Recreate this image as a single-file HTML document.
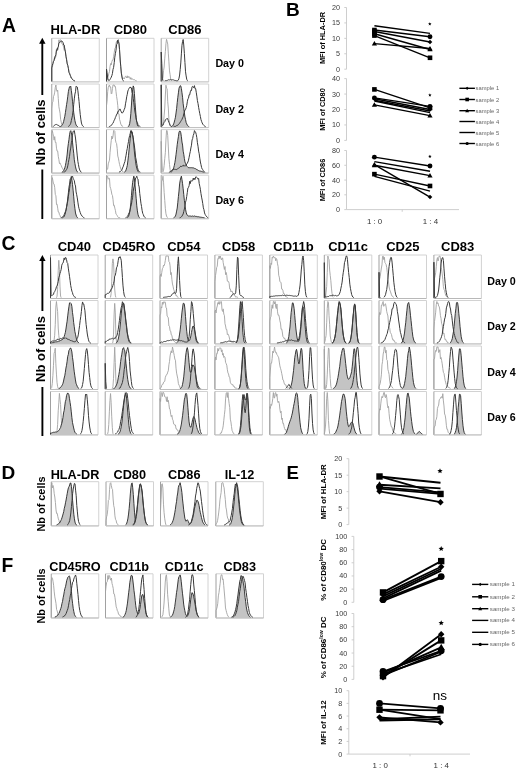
<!DOCTYPE html>
<html><head><meta charset="utf-8"><style>
html,body{margin:0;padding:0;background:#fff;width:520px;height:773px;overflow:hidden}
svg{display:block;font-family:"Liberation Sans",sans-serif;filter:grayscale(100%)}
</style></head><body>
<svg width="520" height="773" viewBox="0 0 520 773">
<text x="1.90" y="32.30" font-size="19.3" font-weight="bold" text-anchor="start" fill="#000" >A</text>
<text x="286.10" y="15.70" font-size="19.0" font-weight="bold" text-anchor="start" fill="#000" >B</text>
<text x="1.60" y="250.20" font-size="19.3" font-weight="bold" text-anchor="start" fill="#000" >C</text>
<text x="1.50" y="479.30" font-size="19.0" font-weight="bold" text-anchor="start" fill="#000" >D</text>
<text x="286.40" y="479.30" font-size="18.6" font-weight="bold" text-anchor="start" fill="#000" >E</text>
<text x="1.50" y="571.90" font-size="19.3" font-weight="bold" text-anchor="start" fill="#000" >F</text>
<text x="75.50" y="34.40" font-size="13" font-weight="bold" text-anchor="middle" fill="#000" >HLA-DR</text>
<path d="M51.75,38.30H99.25V81.90" fill="none" stroke="#d2d2d2" stroke-width="1"/>
<path d="M51.75,81.90H99.25" fill="none" stroke="#b8b8b8" stroke-width="1"/>
<path d="M51.75,38.30V81.90" fill="none" stroke="#a0a0a0" stroke-width="1"/>
<path d="M51.75,81.30 L51.75,67.06 L52.34,67.29 L52.94,63.97 L53.53,60.86 L54.12,59.17 L54.72,56.31 L55.31,58.39 L55.91,56.05 L56.50,49.71 L57.09,48.20 L57.69,50.18 L58.28,48.80 L58.88,39.80 L59.47,43.07 L60.06,39.71 L60.66,39.89 L61.25,41.04 L61.84,43.46 L62.44,44.33 L63.03,45.39 L63.62,46.98 L64.22,50.31 L64.81,48.69 L65.41,52.12 L66.00,57.36 L66.59,58.98 L67.19,62.97 L67.78,65.52 L68.38,67.71 L68.97,72.17 L69.56,72.97 L70.16,73.94 L70.75,77.72 L71.34,78.17 L71.94,78.28 L72.53,79.52 L73.12,79.69 L73.72,80.50 L74.31,80.76 L74.91,80.94" fill="none" stroke="#a2a2a2" stroke-width="0.9"/>
<path d="M51.75,81.30 L51.75,67.81 L52.34,65.20 L52.94,63.44 L53.53,61.25 L54.12,60.64 L54.72,57.39 L55.31,56.46 L55.91,54.43 L56.50,49.74 L57.09,50.37 L57.69,47.62 L58.28,46.79 L58.88,43.18 L59.47,42.43 L60.06,42.14 L60.66,41.75 L61.25,41.03 L61.84,40.90 L62.44,41.83 L63.03,42.25 L63.62,44.95 L64.22,45.04 L64.81,49.15 L65.41,51.85 L66.00,56.29 L66.59,59.75 L67.19,63.91 L67.78,65.35 L68.38,68.52 L68.97,72.29 L69.56,73.80 L70.16,75.22 L70.75,76.41 L71.34,77.98 L71.94,78.54 L72.53,79.54 L73.12,79.86 L73.72,80.50 L74.31,80.76 L74.91,80.94" fill="none" stroke="#3a3a3a" stroke-width="1.0"/>
<path d="M51.75,84.00H99.25V127.60" fill="none" stroke="#d2d2d2" stroke-width="1"/>
<path d="M51.75,127.60H99.25" fill="none" stroke="#b8b8b8" stroke-width="1"/>
<path d="M51.75,84.00V127.60" fill="none" stroke="#a0a0a0" stroke-width="1"/>
<path d="M51.75,127.00 L51.75,108.86 L52.34,102.81 L52.94,101.57 L53.53,96.43 L54.12,95.06 L54.72,92.14 L55.31,87.30 L55.91,85.00 L56.50,90.18 L57.09,91.40 L57.69,90.07 L58.28,98.44 L58.88,106.73 L59.47,109.87 L60.06,113.16 L60.66,119.63 L61.25,122.22 L61.84,124.72 L62.44,125.08 L63.03,125.64 L63.62,126.40 L64.22,126.70" fill="none" stroke="#a2a2a2" stroke-width="0.9"/>
<path d="M51.75,127.60 L51.75,127.00 L51.75,127.00 L52.34,127.00 L52.94,127.00 L53.53,127.00 L54.12,127.00 L54.72,127.00 L55.31,127.00 L55.91,127.00 L56.50,126.99 L57.09,126.98 L57.69,126.97 L58.28,126.94 L58.88,126.88 L59.47,126.79 L60.06,126.63 L60.66,126.37 L61.25,126.07 L61.84,125.51 L62.44,124.54 L63.03,123.38 L63.62,121.57 L64.22,118.90 L64.81,116.36 L65.41,112.62 L66.00,108.57 L66.59,104.61 L67.19,100.90 L67.78,96.33 L68.38,91.57 L68.97,88.73 L69.56,86.74 L70.16,86.78 L70.75,86.08 L71.34,90.54 L71.94,95.24 L72.53,101.22 L73.12,106.99 L73.72,112.69 L74.31,116.91 L74.91,120.59 L75.50,123.17 L76.09,124.88 L76.69,125.89 L77.28,126.47 L77.88,126.75 L78.47,126.89 L79.06,126.96 L79.66,126.98 L80.25,126.99 L80.84,127.00 L81.44,127.00 L82.03,127.00 L82.62,127.00 L83.22,127.00 L83.81,127.00 L84.41,127.00 L85.00,127.00 L85.59,127.00 L86.19,127.00 L86.78,127.00 L87.38,127.00 L87.97,127.00 L88.56,127.00 L89.16,127.00 L89.75,127.00 L90.34,127.00 L90.94,127.00 L91.53,127.00 L92.12,127.00 L92.72,127.00 L93.31,127.00 L93.91,127.00 L94.50,127.00 L95.09,127.00 L95.69,127.00 L96.28,127.00 L96.88,127.00 L97.47,127.00 L98.06,127.00 L98.66,127.00 L99.25,127.00 L99.25,127.00 L99.25,127.60 Z" fill="#c4c4c4" stroke="none"/>
<path d="M60.06,126.63 L60.66,126.37 L61.25,126.07 L61.84,125.51 L62.44,124.54 L63.03,123.38 L63.62,121.57 L64.22,118.90 L64.81,116.36 L65.41,112.62 L66.00,108.57 L66.59,104.61 L67.19,100.90 L67.78,96.33 L68.38,91.57 L68.97,88.73 L69.56,86.74 L70.16,86.78 L70.75,86.08 L71.34,90.54 L71.94,95.24 L72.53,101.22 L73.12,106.99 L73.72,112.69 L74.31,116.91 L74.91,120.59 L75.50,123.17 L76.09,124.88 L76.69,125.89 L77.28,126.47 L77.88,126.75" fill="none" stroke="#262626" stroke-width="0.9"/>
<path d="M52.94,126.56 L53.53,126.25 L54.12,125.64 L54.72,125.05 L55.31,124.66 L55.91,124.62 L56.50,124.45 L57.09,124.84 L57.69,125.10 L58.28,125.19 L58.88,125.93 L59.47,126.25 L60.06,126.56 M68.38,126.54 L68.97,126.16 L69.56,125.32 L70.16,124.61 L70.75,123.25 L71.34,120.57 L71.94,117.90 L72.53,115.26 L73.12,110.48 L73.72,104.43 L74.31,98.84 L74.91,94.07 L75.50,91.73 L76.09,86.10 L76.69,86.58 L77.28,86.97 L77.88,90.73 L78.47,96.30 L79.06,101.40 L79.66,108.63 L80.25,114.61 L80.84,119.20 L81.44,123.05 L82.03,124.84 L82.62,125.85 L83.22,126.46 L83.81,126.77" fill="none" stroke="#3a3a3a" stroke-width="1.0"/>
<path d="M51.75,129.60H99.25V173.20" fill="none" stroke="#d2d2d2" stroke-width="1"/>
<path d="M51.75,173.20H99.25" fill="none" stroke="#b8b8b8" stroke-width="1"/>
<path d="M51.75,129.60V173.20" fill="none" stroke="#a0a0a0" stroke-width="1"/>
<path d="M51.75,172.60 L51.75,133.82 L52.34,130.60 L52.94,133.74 L53.53,136.26 L54.12,140.12 L54.72,136.59 L55.31,142.45 L55.91,142.18 L56.50,148.20 L57.09,151.14 L57.69,151.07 L58.28,156.35 L58.88,159.60 L59.47,163.57 L60.06,162.94 L60.66,164.61 L61.25,165.52 L61.84,167.28 L62.44,168.18 L63.03,169.29 L63.62,170.10 L64.22,170.63 L64.81,171.30 L65.41,171.94 L66.00,172.14" fill="none" stroke="#a2a2a2" stroke-width="0.9"/>
<path d="M51.75,173.20 L51.75,172.60 L51.75,172.60 L52.34,172.60 L52.94,172.60 L53.53,172.60 L54.12,172.60 L54.72,172.60 L55.31,172.60 L55.91,172.60 L56.50,172.60 L57.09,172.60 L57.69,172.60 L58.28,172.60 L58.88,172.59 L59.47,172.58 L60.06,172.56 L60.66,172.52 L61.25,172.44 L61.84,172.29 L62.44,172.01 L63.03,171.61 L63.62,170.81 L64.22,169.56 L64.81,167.85 L65.41,165.64 L66.00,162.40 L66.59,158.94 L67.19,154.08 L67.78,148.03 L68.38,143.49 L68.97,139.42 L69.56,134.76 L70.16,131.50 L70.75,130.67 L71.34,132.50 L71.94,136.12 L72.53,142.11 L73.12,148.22 L73.72,153.30 L74.31,159.77 L74.91,163.48 L75.50,166.89 L76.09,169.14 L76.69,170.90 L77.28,171.75 L77.88,172.14 L78.47,172.39 L79.06,172.51 L79.66,172.56 L80.25,172.59 L80.84,172.60 L81.44,172.60 L82.03,172.60 L82.62,172.60 L83.22,172.60 L83.81,172.60 L84.41,172.60 L85.00,172.60 L85.59,172.60 L86.19,172.60 L86.78,172.60 L87.38,172.60 L87.97,172.60 L88.56,172.60 L89.16,172.60 L89.75,172.60 L90.34,172.60 L90.94,172.60 L91.53,172.60 L92.12,172.60 L92.72,172.60 L93.31,172.60 L93.91,172.60 L94.50,172.60 L95.09,172.60 L95.69,172.60 L96.28,172.60 L96.88,172.60 L97.47,172.60 L98.06,172.60 L98.66,172.60 L99.25,172.60 L99.25,172.60 L99.25,173.20 Z" fill="#c4c4c4" stroke="none"/>
<path d="M61.84,172.29 L62.44,172.01 L63.03,171.61 L63.62,170.81 L64.22,169.56 L64.81,167.85 L65.41,165.64 L66.00,162.40 L66.59,158.94 L67.19,154.08 L67.78,148.03 L68.38,143.49 L68.97,139.42 L69.56,134.76 L70.16,131.50 L70.75,130.67 L71.34,132.50 L71.94,136.12 L72.53,142.11 L73.12,148.22 L73.72,153.30 L74.31,159.77 L74.91,163.48 L75.50,166.89 L76.09,169.14 L76.69,170.90 L77.28,171.75 L77.88,172.14" fill="none" stroke="#262626" stroke-width="0.9"/>
<path d="M63.62,172.30 L64.22,172.09 L64.81,171.64 L65.41,171.38 L66.00,170.19 L66.59,169.51 L67.19,168.22 L67.78,165.89 L68.38,162.62 L68.97,159.30 L69.56,156.29 L70.16,151.00 L70.75,148.05 L71.34,142.82 L71.94,140.25 L72.53,135.19 L73.12,131.29 L73.72,131.15 L74.31,130.60 L74.91,134.29 L75.50,138.02 L76.09,143.28 L76.69,150.04 L77.28,155.95 L77.88,161.42 L78.47,164.71 L79.06,167.87 L79.66,169.92 L80.25,171.00 L80.84,171.89 L81.44,172.26" fill="none" stroke="#3a3a3a" stroke-width="1.0"/>
<path d="M51.75,175.20H99.25V218.80" fill="none" stroke="#d2d2d2" stroke-width="1"/>
<path d="M51.75,218.80H99.25" fill="none" stroke="#b8b8b8" stroke-width="1"/>
<path d="M51.75,175.20V218.80" fill="none" stroke="#a0a0a0" stroke-width="1"/>
<path d="M51.75,218.20 L51.75,180.97 L52.34,177.65 L52.94,180.98 L53.53,183.83 L54.12,184.08 L54.72,187.65 L55.31,194.40 L55.91,195.82 L56.50,204.47 L57.09,204.15 L57.69,208.19 L58.28,211.99 L58.88,212.12 L59.47,214.70 L60.06,215.60 L60.66,217.47 L61.25,217.38 L61.84,217.67 L62.44,217.89" fill="none" stroke="#a2a2a2" stroke-width="0.9"/>
<path d="M51.75,218.80 L51.75,218.20 L51.75,218.20 L52.34,218.20 L52.94,218.20 L53.53,218.20 L54.12,218.20 L54.72,218.20 L55.31,218.20 L55.91,218.20 L56.50,218.20 L57.09,218.20 L57.69,218.20 L58.28,218.20 L58.88,218.20 L59.47,218.19 L60.06,218.18 L60.66,218.16 L61.25,218.11 L61.84,218.02 L62.44,217.84 L63.03,217.54 L63.62,217.06 L64.22,216.41 L64.81,214.87 L65.41,212.98 L66.00,210.25 L66.59,207.07 L67.19,203.59 L67.78,198.05 L68.38,192.85 L68.97,187.24 L69.56,184.12 L70.16,178.94 L70.75,178.41 L71.34,176.45 L71.94,180.14 L72.53,184.46 L73.12,190.16 L73.72,196.83 L74.31,203.51 L74.91,208.46 L75.50,212.99 L76.09,215.00 L76.69,216.70 L77.28,217.46 L77.88,217.87 L78.47,218.07 L79.06,218.15 L79.66,218.18 L80.25,218.19 L80.84,218.20 L81.44,218.20 L82.03,218.20 L82.62,218.20 L83.22,218.20 L83.81,218.20 L84.41,218.20 L85.00,218.20 L85.59,218.20 L86.19,218.20 L86.78,218.20 L87.38,218.20 L87.97,218.20 L88.56,218.20 L89.16,218.20 L89.75,218.20 L90.34,218.20 L90.94,218.20 L91.53,218.20 L92.12,218.20 L92.72,218.20 L93.31,218.20 L93.91,218.20 L94.50,218.20 L95.09,218.20 L95.69,218.20 L96.28,218.20 L96.88,218.20 L97.47,218.20 L98.06,218.20 L98.66,218.20 L99.25,218.20 L99.25,218.20 L99.25,218.80 Z" fill="#c4c4c4" stroke="none"/>
<path d="M62.44,217.84 L63.03,217.54 L63.62,217.06 L64.22,216.41 L64.81,214.87 L65.41,212.98 L66.00,210.25 L66.59,207.07 L67.19,203.59 L67.78,198.05 L68.38,192.85 L68.97,187.24 L69.56,184.12 L70.16,178.94 L70.75,178.41 L71.34,176.45 L71.94,180.14 L72.53,184.46 L73.12,190.16 L73.72,196.83 L74.31,203.51 L74.91,208.46 L75.50,212.99 L76.09,215.00 L76.69,216.70 L77.28,217.46 L77.88,217.87" fill="none" stroke="#262626" stroke-width="0.9"/>
<path d="M61.25,217.74 L61.84,217.48 L62.44,217.01 L63.03,216.83 L63.62,215.87 L64.22,214.44 L64.81,213.06 L65.41,211.47 L66.00,209.90 L66.59,206.65 L67.19,203.23 L67.78,201.13 L68.38,196.36 L68.97,192.41 L69.56,188.61 L70.16,184.45 L70.75,181.01 L71.34,178.39 L71.94,176.88 L72.53,176.20 L73.12,178.25 L73.72,179.56 L74.31,180.57 L74.91,184.31 L75.50,185.98 L76.09,191.95 L76.69,194.74 L77.28,197.90 L77.88,202.13 L78.47,206.14 L79.06,208.62 L79.66,210.77 L80.25,212.54 L80.84,214.23 L81.44,215.00 L82.03,216.20 L82.62,216.64 L83.22,217.19 L83.81,217.65 L84.41,217.86" fill="none" stroke="#3a3a3a" stroke-width="1.0"/>
<text x="130.25" y="34.40" font-size="13" font-weight="bold" text-anchor="middle" fill="#000" >CD80</text>
<path d="M106.50,38.30H154.00V81.90" fill="none" stroke="#d2d2d2" stroke-width="1"/>
<path d="M106.50,81.90H154.00" fill="none" stroke="#b8b8b8" stroke-width="1"/>
<path d="M106.50,38.30V81.90" fill="none" stroke="#a0a0a0" stroke-width="1"/>
<path d="M106.50,81.30 L106.50,80.69 L107.09,80.38 L107.69,77.76 L108.28,76.12 L108.88,73.33 L109.47,71.55 L110.06,66.38 L110.66,63.50 L111.25,64.92 L111.84,61.71 L112.44,60.06 L113.03,60.24 L113.62,56.41 L114.22,52.60 L114.81,48.64 L115.41,47.99 L116.00,43.42 L116.59,41.31 L117.19,41.38 L117.78,44.04 L118.38,39.30 L118.97,44.02 L119.56,50.75 L120.16,61.64 L120.75,65.56 L121.34,73.23 L121.94,75.49 L122.53,78.85 L123.12,77.82 L123.72,78.36 L124.31,78.94 L124.91,77.33 L125.50,76.24 L126.09,76.71 L126.69,77.98 L127.28,75.81 L127.88,78.03 L128.47,76.49 L129.06,76.53 L129.66,77.05 L130.25,79.23 L130.84,77.60 L131.44,79.40 L132.03,78.48 L132.62,79.41 L133.22,79.69 L133.81,79.55 L134.41,79.70 L135.00,79.94 L135.59,80.62 L136.19,80.77 L136.78,80.89" fill="none" stroke="#a2a2a2" stroke-width="0.9"/>
<path d="M106.50,81.30 L106.50,69.00 L107.09,72.45 L107.69,78.04 L108.28,80.11 L108.88,80.56 L109.47,80.32 L110.06,79.42 L110.66,78.33 L111.25,77.15 L111.84,75.68 L112.44,73.43 L113.03,69.40 L113.62,67.37 L114.22,62.64 L114.81,57.23 L115.41,53.31 L116.00,50.29 L116.59,44.64 L117.19,43.31 L117.78,40.00 L118.38,41.59 L118.97,43.31 L119.56,49.60 L120.16,59.02 L120.75,66.72 L121.34,73.10 L121.94,76.99 L122.53,79.64 L123.12,80.61 L123.72,81.07" fill="none" stroke="#3a3a3a" stroke-width="1.0"/>
<path d="M106.50,84.00H154.00V127.60" fill="none" stroke="#d2d2d2" stroke-width="1"/>
<path d="M106.50,127.60H154.00" fill="none" stroke="#b8b8b8" stroke-width="1"/>
<path d="M106.50,84.00V127.60" fill="none" stroke="#a0a0a0" stroke-width="1"/>
<path d="M106.50,127.00 L106.50,105.53 L107.09,101.25 L107.69,91.42 L108.28,87.45 L108.88,85.87 L109.47,85.00 L110.06,87.31 L110.66,86.89 L111.25,94.03 L111.84,93.44 L112.44,88.60 L113.03,85.00 L113.62,85.00 L114.22,85.00 L114.81,86.76 L115.41,86.42 L116.00,91.60 L116.59,96.47 L117.19,100.22 L117.78,105.58 L118.38,113.63 L118.97,113.86 L119.56,119.53 L120.16,121.22 L120.75,124.10 L121.34,124.96 L121.94,126.14 L122.53,126.21 L123.12,126.57" fill="none" stroke="#a2a2a2" stroke-width="0.9"/>
<path d="M106.50,127.60 L106.50,127.00 L106.50,127.00 L107.09,127.00 L107.69,127.00 L108.28,127.00 L108.88,127.00 L109.47,127.00 L110.06,127.00 L110.66,127.00 L111.25,127.00 L111.84,127.00 L112.44,127.00 L113.03,127.00 L113.62,127.00 L114.22,127.00 L114.81,127.00 L115.41,127.00 L116.00,127.00 L116.59,127.00 L117.19,127.00 L117.78,127.00 L118.38,127.00 L118.97,127.00 L119.56,127.00 L120.16,127.00 L120.75,127.00 L121.34,127.00 L121.94,127.00 L122.53,127.00 L123.12,127.00 L123.72,127.00 L124.31,127.00 L124.91,127.00 L125.50,127.00 L126.09,127.00 L126.69,126.99 L127.28,126.95 L127.88,126.81 L128.47,126.43 L129.06,125.53 L129.66,123.64 L130.25,119.81 L130.84,113.52 L131.44,105.06 L132.03,95.85 L132.62,89.69 L133.22,85.89 L133.81,87.22 L134.41,93.49 L135.00,102.56 L135.59,109.97 L136.19,117.59 L136.78,122.21 L137.38,124.98 L137.97,126.18 L138.56,126.70 L139.16,126.91 L139.75,126.98 L140.34,126.99 L140.94,127.00 L141.53,127.00 L142.12,127.00 L142.72,127.00 L143.31,127.00 L143.91,127.00 L144.50,127.00 L145.09,127.00 L145.69,127.00 L146.28,127.00 L146.88,127.00 L147.47,127.00 L148.06,127.00 L148.66,127.00 L149.25,127.00 L149.84,127.00 L150.44,127.00 L151.03,127.00 L151.62,127.00 L152.22,127.00 L152.81,127.00 L153.41,127.00 L154.00,127.00 L154.00,127.00 L154.00,127.60 Z" fill="#c4c4c4" stroke="none"/>
<path d="M127.88,126.81 L128.47,126.43 L129.06,125.53 L129.66,123.64 L130.25,119.81 L130.84,113.52 L131.44,105.06 L132.03,95.85 L132.62,89.69 L133.22,85.89 L133.81,87.22 L134.41,93.49 L135.00,102.56 L135.59,109.97 L136.19,117.59 L136.78,122.21 L137.38,124.98 L137.97,126.18 L138.56,126.70" fill="none" stroke="#262626" stroke-width="0.9"/>
<path d="M108.88,126.64 L109.47,126.46 L110.06,126.20 L110.66,125.97 L111.25,125.25 L111.84,124.81 L112.44,123.71 L113.03,123.23 L113.62,121.68 L114.22,120.18 L114.81,119.21 L115.41,117.36 L116.00,116.19 L116.59,114.27 L117.19,114.16 L117.78,111.58 L118.38,111.53 L118.97,110.32 L119.56,109.28 L120.16,109.09 L120.75,110.87 L121.34,111.89 L121.94,113.17 L122.53,112.84 L123.12,112.15 L123.72,110.79 L124.31,109.19 L124.91,107.88 L125.50,103.83 L126.09,100.84 L126.69,96.81 L127.28,94.29 L127.88,90.96 L128.47,89.50 L129.06,88.20 L129.66,87.72 L130.25,86.91 L130.84,88.01 L131.44,87.90 L132.03,92.42 L132.62,93.78 L133.22,98.59 L133.81,102.62 L134.41,107.72 L135.00,112.13 L135.59,114.95 L136.19,119.28 L136.78,121.45 L137.38,122.45 L137.97,124.64 L138.56,125.51 L139.16,125.84 L139.75,126.31 L140.34,126.59" fill="none" stroke="#3a3a3a" stroke-width="1.0"/>
<path d="M106.50,129.60H154.00V173.20" fill="none" stroke="#d2d2d2" stroke-width="1"/>
<path d="M106.50,173.20H154.00" fill="none" stroke="#b8b8b8" stroke-width="1"/>
<path d="M106.50,129.60V173.20" fill="none" stroke="#a0a0a0" stroke-width="1"/>
<path d="M106.50,172.60 L106.50,170.26 L107.09,169.23 L107.69,168.91 L108.28,163.83 L108.88,161.94 L109.47,160.13 L110.06,152.38 L110.66,145.93 L111.25,140.51 L111.84,136.09 L112.44,138.78 L113.03,136.17 L113.62,130.60 L114.22,130.60 L114.81,131.34 L115.41,139.93 L116.00,142.56 L116.59,143.59 L117.19,148.61 L117.78,156.06 L118.38,158.14 L118.97,161.51 L119.56,164.52 L120.16,166.56 L120.75,168.92 L121.34,169.96 L121.94,170.19 L122.53,171.64 L123.12,171.91 L123.72,172.19" fill="none" stroke="#a2a2a2" stroke-width="0.9"/>
<path d="M106.50,173.20 L106.50,172.60 L106.50,172.60 L107.09,172.60 L107.69,172.60 L108.28,172.60 L108.88,172.60 L109.47,172.60 L110.06,172.60 L110.66,172.60 L111.25,172.60 L111.84,172.60 L112.44,172.60 L113.03,172.60 L113.62,172.60 L114.22,172.60 L114.81,172.60 L115.41,172.60 L116.00,172.60 L116.59,172.60 L117.19,172.60 L117.78,172.60 L118.38,172.60 L118.97,172.60 L119.56,172.60 L120.16,172.60 L120.75,172.60 L121.34,172.60 L121.94,172.59 L122.53,172.57 L123.12,172.54 L123.72,172.45 L124.31,172.26 L124.91,171.89 L125.50,171.22 L126.09,169.87 L126.69,167.75 L127.28,165.52 L127.88,160.87 L128.47,155.78 L129.06,149.78 L129.66,143.71 L130.25,138.22 L130.84,134.08 L131.44,130.73 L132.03,132.41 L132.62,135.21 L133.22,138.97 L133.81,145.02 L134.41,151.96 L135.00,157.34 L135.59,161.83 L136.19,165.66 L136.78,168.38 L137.38,170.12 L137.97,171.37 L138.56,171.98 L139.16,172.31 L139.75,172.47 L140.34,172.55 L140.94,172.58 L141.53,172.59 L142.12,172.60 L142.72,172.60 L143.31,172.60 L143.91,172.60 L144.50,172.60 L145.09,172.60 L145.69,172.60 L146.28,172.60 L146.88,172.60 L147.47,172.60 L148.06,172.60 L148.66,172.60 L149.25,172.60 L149.84,172.60 L150.44,172.60 L151.03,172.60 L151.62,172.60 L152.22,172.60 L152.81,172.60 L153.41,172.60 L154.00,172.60 L154.00,172.60 L154.00,173.20 Z" fill="#c4c4c4" stroke="none"/>
<path d="M124.31,172.26 L124.91,171.89 L125.50,171.22 L126.09,169.87 L126.69,167.75 L127.28,165.52 L127.88,160.87 L128.47,155.78 L129.06,149.78 L129.66,143.71 L130.25,138.22 L130.84,134.08 L131.44,130.73 L132.03,132.41 L132.62,135.21 L133.22,138.97 L133.81,145.02 L134.41,151.96 L135.00,157.34 L135.59,161.83 L136.19,165.66 L136.78,168.38 L137.38,170.12 L137.97,171.37 L138.56,171.98 L139.16,172.31" fill="none" stroke="#262626" stroke-width="0.9"/>
<path d="M118.97,172.10 L119.56,171.86 L120.16,171.69 L120.75,170.98 L121.34,170.57 L121.94,169.69 L122.53,167.96 L123.12,166.87 L123.72,165.03 L124.31,163.20 L124.91,161.63 L125.50,158.17 L126.09,155.15 L126.69,151.18 L127.28,148.55 L127.88,144.70 L128.47,141.64 L129.06,138.00 L129.66,135.52 L130.25,133.28 L130.84,130.64 L131.44,132.95 L132.03,131.93 L132.62,134.78 L133.22,137.33 L133.81,142.20 L134.41,145.96 L135.00,150.74 L135.59,157.12 L136.19,160.09 L136.78,163.70 L137.38,167.33 L137.97,169.39 L138.56,170.75 L139.16,171.31 L139.75,171.86 L140.34,172.20" fill="none" stroke="#3a3a3a" stroke-width="1.0"/>
<path d="M106.50,175.20H154.00V218.80" fill="none" stroke="#d2d2d2" stroke-width="1"/>
<path d="M106.50,218.80H154.00" fill="none" stroke="#b8b8b8" stroke-width="1"/>
<path d="M106.50,175.20V218.80" fill="none" stroke="#a0a0a0" stroke-width="1"/>
<path d="M106.50,218.20 L106.50,184.62 L107.09,176.20 L107.69,176.41 L108.28,179.06 L108.88,178.62 L109.47,178.35 L110.06,186.70 L110.66,188.44 L111.25,190.95 L111.84,194.30 L112.44,195.43 L113.03,199.50 L113.62,205.63 L114.22,205.19 L114.81,208.13 L115.41,210.41 L116.00,214.05 L116.59,214.63 L117.19,215.54 L117.78,216.73 L118.38,217.51 L118.97,217.78 L119.56,217.58 L120.16,217.79" fill="none" stroke="#a2a2a2" stroke-width="0.9"/>
<path d="M106.50,218.80 L106.50,218.20 L106.50,218.20 L107.09,218.20 L107.69,218.20 L108.28,218.20 L108.88,218.20 L109.47,218.20 L110.06,218.20 L110.66,218.20 L111.25,218.20 L111.84,218.20 L112.44,218.20 L113.03,218.20 L113.62,218.20 L114.22,218.20 L114.81,218.20 L115.41,218.20 L116.00,218.20 L116.59,218.20 L117.19,218.20 L117.78,218.20 L118.38,218.20 L118.97,218.20 L119.56,218.20 L120.16,218.20 L120.75,218.20 L121.34,218.20 L121.94,218.20 L122.53,218.20 L123.12,218.20 L123.72,218.20 L124.31,218.20 L124.91,218.19 L125.50,218.18 L126.09,218.14 L126.69,218.04 L127.28,217.81 L127.88,217.29 L128.47,216.30 L129.06,214.90 L129.66,212.11 L130.25,208.17 L130.84,202.88 L131.44,195.55 L132.03,188.58 L132.62,182.48 L133.22,179.01 L133.81,176.20 L134.41,178.34 L135.00,185.03 L135.59,191.43 L136.19,198.72 L136.78,205.83 L137.38,210.88 L137.97,214.30 L138.56,216.24 L139.16,217.41 L139.75,217.89 L140.34,218.09 L140.94,218.16 L141.53,218.19 L142.12,218.20 L142.72,218.20 L143.31,218.20 L143.91,218.20 L144.50,218.20 L145.09,218.20 L145.69,218.20 L146.28,218.20 L146.88,218.20 L147.47,218.20 L148.06,218.20 L148.66,218.20 L149.25,218.20 L149.84,218.20 L150.44,218.20 L151.03,218.20 L151.62,218.20 L152.22,218.20 L152.81,218.20 L153.41,218.20 L154.00,218.20 L154.00,218.20 L154.00,218.80 Z" fill="#c4c4c4" stroke="none"/>
<path d="M127.28,217.81 L127.88,217.29 L128.47,216.30 L129.06,214.90 L129.66,212.11 L130.25,208.17 L130.84,202.88 L131.44,195.55 L132.03,188.58 L132.62,182.48 L133.22,179.01 L133.81,176.20 L134.41,178.34 L135.00,185.03 L135.59,191.43 L136.19,198.72 L136.78,205.83 L137.38,210.88 L137.97,214.30 L138.56,216.24 L139.16,217.41 L139.75,217.89" fill="none" stroke="#262626" stroke-width="0.9"/>
<path d="M125.50,217.74 L126.09,217.48 L126.69,217.05 L127.28,216.53 L127.88,216.00 L128.47,214.20 L129.06,212.98 L129.66,211.78 L130.25,209.34 L130.84,206.38 L131.44,204.17 L132.03,200.44 L132.62,197.31 L133.22,191.26 L133.81,187.84 L134.41,186.22 L135.00,182.35 L135.59,178.05 L136.19,177.62 L136.78,176.20 L137.38,178.52 L137.97,179.01 L138.56,184.75 L139.16,186.93 L139.75,193.58 L140.34,198.11 L140.94,203.31 L141.53,206.40 L142.12,210.44 L142.72,213.35 L143.31,214.57 L143.91,216.23 L144.50,217.10 L145.09,217.54 L145.69,217.84" fill="none" stroke="#3a3a3a" stroke-width="1.0"/>
<text x="184.95" y="34.40" font-size="13" font-weight="bold" text-anchor="middle" fill="#000" >CD86</text>
<path d="M161.20,38.30H208.70V81.90" fill="none" stroke="#d2d2d2" stroke-width="1"/>
<path d="M161.20,81.90H208.70" fill="none" stroke="#b8b8b8" stroke-width="1"/>
<path d="M161.20,38.30V81.90" fill="none" stroke="#a0a0a0" stroke-width="1"/>
<path d="M161.20,80.84 L161.79,80.13 L162.39,79.81 L162.98,77.52 L163.57,70.50 L164.17,67.01 L164.76,58.21 L165.36,51.37 L165.95,43.62 L166.54,39.30 L167.14,41.43 L167.73,44.11 L168.32,53.16 L168.92,61.75 L169.51,70.89 L170.11,74.61 L170.70,79.29 L171.29,80.25 L171.89,80.84" fill="none" stroke="#a2a2a2" stroke-width="0.9"/>
<path d="M161.20,81.30 L161.20,52.02 L161.79,63.39 L162.39,78.18 L162.98,80.87 M164.76,80.81 L165.36,80.68 L165.95,80.54 L166.54,80.61 L167.14,80.47 L167.73,80.20 L168.32,79.80 L168.92,79.89 L169.51,79.91 L170.11,79.91 L170.70,79.65 L171.29,79.83 L171.89,79.72 L172.48,79.76 L173.07,80.14 L173.67,79.88 L174.26,80.20 L174.86,80.54 L175.45,80.53 L176.04,80.67 L176.64,80.77 L177.23,80.80 L177.82,80.62 L178.42,80.00 L179.01,78.18 L179.61,75.04 L180.20,69.43 L180.79,62.97 L181.39,53.87 L181.98,45.26 L182.57,41.43 L183.17,39.49 L183.76,44.97 L184.36,53.38 L184.95,62.55 L185.54,71.81 L186.14,75.92 L186.73,79.31 L187.32,80.51 L187.92,81.05" fill="none" stroke="#3a3a3a" stroke-width="1.0"/>
<path d="M161.20,84.00H208.70V127.60" fill="none" stroke="#d2d2d2" stroke-width="1"/>
<path d="M161.20,127.60H208.70" fill="none" stroke="#b8b8b8" stroke-width="1"/>
<path d="M161.20,84.00V127.60" fill="none" stroke="#a0a0a0" stroke-width="1"/>
<path d="M161.79,126.79 L162.39,126.25 L162.98,124.79 L163.57,122.18 L164.17,115.12 L164.76,108.05 L165.36,95.00 L165.95,85.23 L166.54,88.18 L167.14,88.67 L167.73,101.66 L168.32,108.05 L168.92,119.52 L169.51,122.65 L170.11,125.52 L170.70,126.54" fill="none" stroke="#a2a2a2" stroke-width="0.9"/>
<path d="M161.20,127.60 L161.20,127.00 L161.20,127.00 L161.79,127.00 L162.39,127.00 L162.98,127.00 L163.57,127.00 L164.17,127.00 L164.76,127.00 L165.36,127.00 L165.95,127.00 L166.54,127.00 L167.14,127.00 L167.73,127.00 L168.32,126.99 L168.92,126.98 L169.51,126.96 L170.11,126.92 L170.70,126.84 L171.29,126.69 L171.89,126.41 L172.48,126.03 L173.07,125.23 L173.67,123.92 L174.26,122.08 L174.86,119.64 L175.45,117.24 L176.04,112.95 L176.64,108.47 L177.23,102.59 L177.82,97.34 L178.42,92.80 L179.01,88.31 L179.61,86.60 L180.20,85.64 L180.79,85.95 L181.39,88.49 L181.98,92.72 L182.57,97.29 L183.17,103.76 L183.76,108.20 L184.36,112.75 L184.95,117.00 L185.54,119.51 L186.14,122.47 L186.73,123.83 L187.32,125.18 L187.92,125.79 L188.51,126.41 L189.11,126.69 L189.70,126.84 L190.29,126.92 L190.89,126.96 L191.48,126.98 L192.07,126.99 L192.67,127.00 L193.26,127.00 L193.86,127.00 L194.45,127.00 L195.04,127.00 L195.64,127.00 L196.23,127.00 L196.82,127.00 L197.42,127.00 L198.01,127.00 L198.61,127.00 L199.20,127.00 L199.79,127.00 L200.39,127.00 L200.98,127.00 L201.57,127.00 L202.17,127.00 L202.76,127.00 L203.36,127.00 L203.95,127.00 L204.54,127.00 L205.14,127.00 L205.73,127.00 L206.32,127.00 L206.92,127.00 L207.51,127.00 L208.11,127.00 L208.70,127.00 L208.70,127.00 L208.70,127.60 Z" fill="#c4c4c4" stroke="none"/>
<path d="M171.29,126.69 L171.89,126.41 L172.48,126.03 L173.07,125.23 L173.67,123.92 L174.26,122.08 L174.86,119.64 L175.45,117.24 L176.04,112.95 L176.64,108.47 L177.23,102.59 L177.82,97.34 L178.42,92.80 L179.01,88.31 L179.61,86.60 L180.20,85.64 L180.79,85.95 L181.39,88.49 L181.98,92.72 L182.57,97.29 L183.17,103.76 L183.76,108.20 L184.36,112.75 L184.95,117.00 L185.54,119.51 L186.14,122.47 L186.73,123.83 L187.32,125.18 L187.92,125.79 L188.51,126.41 L189.11,126.69" fill="none" stroke="#262626" stroke-width="0.9"/>
<path d="M161.20,127.00 L161.20,85.00 L161.79,124.32 L162.39,125.43 L162.98,125.16 L163.57,123.64 L164.17,122.30 L164.76,121.71 L165.36,119.81 L165.95,119.61 L166.54,118.96 L167.14,118.21 L167.73,118.96 L168.32,120.60 L168.92,122.30 L169.51,123.72 L170.11,125.27 L170.70,126.06 L171.29,126.32 L171.89,126.58 M173.67,126.60 L174.26,126.49 L174.86,126.35 L175.45,126.38 L176.04,126.09 L176.64,125.60 L177.23,125.62 L177.82,125.16 L178.42,124.30 L179.01,123.74 L179.61,123.32 L180.20,122.24 L180.79,121.29 L181.39,120.35 L181.98,119.40 L182.57,117.83 L183.17,116.76 L183.76,113.92 L184.36,112.14 L184.95,109.86 L185.54,109.59 L186.14,107.77 L186.73,105.52 L187.32,101.78 L187.92,98.89 L188.51,98.22 L189.11,94.70 L189.70,94.96 L190.29,91.85 L190.89,90.19 L191.48,90.60 L192.07,86.72 L192.67,86.24 L193.26,87.09 L193.86,87.83 L194.45,85.64 L195.04,88.69 L195.64,88.54 L196.23,92.21 L196.82,96.13 L197.42,100.62 L198.01,103.43 L198.61,107.31 L199.20,110.51 L199.79,113.70 L200.39,116.43 L200.98,119.59 L201.57,121.33 L202.17,122.90 L202.76,124.07 L203.36,124.94 L203.95,125.53 L204.54,126.04 L205.14,126.46 L205.73,126.66" fill="none" stroke="#3a3a3a" stroke-width="1.0"/>
<path d="M161.20,129.60H208.70V173.20" fill="none" stroke="#d2d2d2" stroke-width="1"/>
<path d="M161.20,173.20H208.70" fill="none" stroke="#b8b8b8" stroke-width="1"/>
<path d="M161.20,129.60V173.20" fill="none" stroke="#a0a0a0" stroke-width="1"/>
<path d="M161.20,172.60 L161.20,141.34 L161.79,158.73 L162.39,170.64 L162.98,171.82 L163.57,170.10 L164.17,165.54 L164.76,158.65 L165.36,152.50 L165.95,139.90 L166.54,130.60 L167.14,130.60 L167.73,135.59 L168.32,146.95 L168.92,158.83 L169.51,164.44 L170.11,169.73 L170.70,172.07 L171.29,172.24" fill="none" stroke="#a2a2a2" stroke-width="0.9"/>
<path d="M161.20,173.20 L161.20,172.60 L161.20,172.60 L161.79,172.60 L162.39,172.60 L162.98,172.60 L163.57,172.60 L164.17,172.59 L164.76,172.59 L165.36,172.59 L165.95,172.59 L166.54,172.58 L167.14,172.58 L167.73,172.57 L168.32,172.55 L168.92,172.52 L169.51,172.47 L170.11,172.39 L170.70,172.24 L171.29,171.98 L171.89,171.53 L172.48,170.67 L173.07,169.58 L173.67,167.85 L174.26,165.68 L174.86,162.63 L175.45,159.17 L176.04,154.48 L176.64,149.79 L177.23,144.56 L177.82,140.25 L178.42,136.65 L179.01,132.20 L179.61,131.05 L180.20,131.13 L180.79,132.75 L181.39,136.74 L181.98,142.05 L182.57,145.09 L183.17,151.18 L183.76,154.25 L184.36,158.47 L184.95,161.87 L185.54,163.52 L186.14,165.02 L186.73,166.14 L187.32,166.60 L187.92,167.26 L188.51,167.62 L189.11,167.52 L189.70,167.75 L190.29,167.67 L190.89,167.81 L191.48,167.70 L192.07,167.85 L192.67,167.78 L193.26,167.82 L193.86,168.07 L194.45,168.39 L195.04,168.52 L195.64,168.75 L196.23,169.33 L196.82,169.28 L197.42,170.04 L198.01,169.97 L198.61,170.65 L199.20,170.85 L199.79,171.00 L200.39,171.05 L200.98,171.36 L201.57,171.40 L202.17,171.59 L202.76,171.87 L203.36,172.00 L203.95,172.11 L204.54,172.20 L205.14,172.28 L205.73,172.35 L206.32,172.40 L206.92,172.44 L207.51,172.48 L208.11,172.51 L208.70,172.53 L208.70,172.60 L208.70,173.20 Z" fill="#c4c4c4" stroke="none"/>
<path d="M170.70,172.24 L171.29,171.98 L171.89,171.53 L172.48,170.67 L173.07,169.58 L173.67,167.85 L174.26,165.68 L174.86,162.63 L175.45,159.17 L176.04,154.48 L176.64,149.79 L177.23,144.56 L177.82,140.25 L178.42,136.65 L179.01,132.20 L179.61,131.05 L180.20,131.13 L180.79,132.75 L181.39,136.74 L181.98,142.05 L182.57,145.09 L183.17,151.18 L183.76,154.25 L184.36,158.47 L184.95,161.87 L185.54,163.52 L186.14,165.02 L186.73,166.14 L187.32,166.60 L187.92,167.26 L188.51,167.62 L189.11,167.52 L189.70,167.75 L190.29,167.67 L190.89,167.81 L191.48,167.70 L192.07,167.85 L192.67,167.78 L193.26,167.82 L193.86,168.07 L194.45,168.39 L195.04,168.52 L195.64,168.75 L196.23,169.33 L196.82,169.28 L197.42,170.04 L198.01,169.97 L198.61,170.65 L199.20,170.85 L199.79,171.00 L200.39,171.05 L200.98,171.36 L201.57,171.40 L202.17,171.59 L202.76,171.87 L203.36,172.00 L203.95,172.11" fill="none" stroke="#262626" stroke-width="0.9"/>
<path d="M168.92,172.30 L169.51,172.08 L170.11,171.76 L170.70,171.38 L171.29,170.64 L171.89,170.41 L172.48,169.48 L173.07,169.51 L173.67,169.40 L174.26,169.19 L174.86,169.45 L175.45,169.43 L176.04,169.44 L176.64,169.67 L177.23,169.02 L177.82,168.54 L178.42,168.31 L179.01,168.08 L179.61,167.50 L180.20,166.87 L180.79,165.90 L181.39,166.59 L181.98,166.33 L182.57,165.79 L183.17,166.29 L183.76,165.12 L184.36,165.69 L184.95,166.11 L185.54,165.96 L186.14,165.37 L186.73,164.04 L187.32,163.17 L187.92,162.00 L188.51,160.14 L189.11,157.25 L189.70,154.16 L190.29,151.48 L190.89,147.99 L191.48,145.16 L192.07,139.96 L192.67,138.54 L193.26,135.35 L193.86,133.90 L194.45,130.60 L195.04,131.68 L195.64,132.19 L196.23,134.36 L196.82,137.66 L197.42,142.72 L198.01,146.18 L198.61,151.07 L199.20,153.77 L199.79,158.18 L200.39,162.04 L200.98,164.61 L201.57,167.38 L202.17,169.04 L202.76,169.65 L203.36,170.77 L203.95,171.58 L204.54,171.98 L205.14,172.23" fill="none" stroke="#3a3a3a" stroke-width="1.0"/>
<path d="M161.20,175.20H208.70V218.80" fill="none" stroke="#d2d2d2" stroke-width="1"/>
<path d="M161.20,218.80H208.70" fill="none" stroke="#b8b8b8" stroke-width="1"/>
<path d="M161.20,175.20V218.80" fill="none" stroke="#a0a0a0" stroke-width="1"/>
<path d="M161.20,218.20 L161.20,194.91 L161.79,181.15 L162.39,180.07 L162.98,176.20 L163.57,182.80 L164.17,192.59 L164.76,200.56 L165.36,208.71 L165.95,213.74 L166.54,216.01 L167.14,217.26 L167.73,217.83" fill="none" stroke="#a2a2a2" stroke-width="0.9"/>
<path d="M161.20,218.80 L161.20,218.20 L161.20,218.20 L161.79,218.20 L162.39,218.20 L162.98,218.20 L163.57,218.20 L164.17,218.20 L164.76,218.20 L165.36,218.20 L165.95,218.20 L166.54,218.20 L167.14,218.20 L167.73,218.19 L168.32,218.19 L168.92,218.19 L169.51,218.19 L170.11,218.18 L170.70,218.17 L171.29,218.16 L171.89,218.14 L172.48,218.10 L173.07,218.01 L173.67,217.84 L174.26,217.50 L174.86,216.87 L175.45,215.96 L176.04,214.14 L176.64,211.10 L177.23,208.06 L177.82,202.34 L178.42,196.49 L179.01,191.02 L179.61,183.93 L180.20,180.42 L180.79,177.81 L181.39,176.20 L181.98,179.67 L182.57,183.67 L183.17,188.77 L183.76,194.51 L184.36,200.33 L184.95,205.04 L185.54,209.25 L186.14,212.24 L186.73,214.24 L187.32,215.29 L187.92,215.61 L188.51,216.02 L189.11,216.28 L189.70,215.90 L190.29,216.09 L190.89,215.95 L191.48,216.29 L192.07,215.93 L192.67,216.03 L193.26,216.25 L193.86,216.32 L194.45,215.98 L195.04,216.02 L195.64,216.47 L196.23,216.58 L196.82,216.37 L197.42,216.72 L198.01,216.61 L198.61,216.75 L199.20,216.87 L199.79,217.14 L200.39,217.16 L200.98,217.24 L201.57,217.31 L202.17,217.42 L202.76,217.51 L203.36,217.59 L203.95,217.67 L204.54,217.74 L205.14,217.80 L205.73,217.86 L206.32,217.91 L206.92,217.96 L207.51,218.00 L208.11,218.03 L208.70,218.06 L208.70,218.20 L208.70,218.80 Z" fill="#c4c4c4" stroke="none"/>
<path d="M173.67,217.84 L174.26,217.50 L174.86,216.87 L175.45,215.96 L176.04,214.14 L176.64,211.10 L177.23,208.06 L177.82,202.34 L178.42,196.49 L179.01,191.02 L179.61,183.93 L180.20,180.42 L180.79,177.81 L181.39,176.20 L181.98,179.67 L182.57,183.67 L183.17,188.77 L183.76,194.51 L184.36,200.33 L184.95,205.04 L185.54,209.25 L186.14,212.24 L186.73,214.24 L187.32,215.29 L187.92,215.61 L188.51,216.02 L189.11,216.28 L189.70,215.90 L190.29,216.09 L190.89,215.95 L191.48,216.29 L192.07,215.93 L192.67,216.03 L193.26,216.25 L193.86,216.32 L194.45,215.98 L195.04,216.02 L195.64,216.47 L196.23,216.58 L196.82,216.37 L197.42,216.72 L198.01,216.61 L198.61,216.75 L199.20,216.87 L199.79,217.14 L200.39,217.16 L200.98,217.24 L201.57,217.31 L202.17,217.42 L202.76,217.51 L203.36,217.59 L203.95,217.67 L204.54,217.74" fill="none" stroke="#262626" stroke-width="0.9"/>
<path d="M179.61,217.87 L180.20,217.65 L180.79,217.38 L181.39,216.83 L181.98,216.15 L182.57,215.05 L183.17,213.99 L183.76,211.49 L184.36,208.98 L184.95,206.11 L185.54,202.14 L186.14,200.12 L186.73,196.38 L187.32,192.37 L187.92,187.88 L188.51,187.48 L189.11,185.65 L189.70,181.31 L190.29,183.59 L190.89,180.46 L191.48,180.91 L192.07,180.98 L192.67,180.74 L193.26,178.10 L193.86,179.86 L194.45,178.33 L195.04,179.44 L195.64,177.05 L196.23,176.68 L196.82,177.46 L197.42,178.26 L198.01,179.18 L198.61,178.44 L199.20,183.47 L199.79,186.16 L200.39,189.31 L200.98,193.60 L201.57,197.13 L202.17,200.02 L202.76,203.57 L203.36,207.84 L203.95,209.66 L204.54,212.95 L205.14,214.39 L205.73,215.46 L206.32,216.10 L206.92,217.02 L207.51,217.49 L208.11,217.78" fill="none" stroke="#3a3a3a" stroke-width="1.0"/>
<text x="215.40" y="67.10" font-size="10.7" font-weight="bold" text-anchor="start" fill="#000" >Day 0</text>
<text x="215.40" y="112.80" font-size="10.7" font-weight="bold" text-anchor="start" fill="#000" >Day 2</text>
<text x="215.40" y="158.40" font-size="10.7" font-weight="bold" text-anchor="start" fill="#000" >Day 4</text>
<text x="215.40" y="204.00" font-size="10.7" font-weight="bold" text-anchor="start" fill="#000" >Day 6</text>
<text x="74.25" y="251.20" font-size="13" font-weight="bold" text-anchor="middle" fill="#000" >CD40</text>
<path d="M50.50,255.00H98.00V298.50" fill="none" stroke="#d2d2d2" stroke-width="1"/>
<path d="M50.50,298.50H98.00" fill="none" stroke="#b8b8b8" stroke-width="1"/>
<path d="M50.50,255.00V298.50" fill="none" stroke="#a0a0a0" stroke-width="1"/>
<path d="M56.44,297.77 L57.03,296.26 L57.62,289.86 L58.22,270.30 L58.81,260.27 L59.41,269.36 L60.00,286.84 L60.59,296.14 L61.19,297.70" fill="none" stroke="#a2a2a2" stroke-width="0.9"/>
<path d="M50.50,297.90 L50.50,257.65 L51.09,294.86 L51.69,295.73 L52.28,295.29 L52.88,294.98 L53.47,294.37 L54.06,292.42 L54.66,291.63 L55.25,290.36 L55.84,289.08 L56.44,286.60 L57.03,286.04 L57.62,283.88 L58.22,281.52 L58.81,277.60 L59.41,275.83 L60.00,273.31 L60.59,271.60 L61.19,269.30 L61.78,265.21 L62.38,263.62 L62.97,263.11 L63.56,261.12 L64.16,257.95 L64.75,259.81 L65.34,257.53 L65.94,257.66 L66.53,259.55 L67.12,262.63 L67.72,263.41 L68.31,268.11 L68.91,272.23 L69.50,276.26 L70.09,280.60 L70.69,285.38 L71.28,288.30 L71.88,291.15 L72.47,292.68 L73.06,294.81 L73.66,295.73 L74.25,296.71 L74.84,297.11 L75.44,297.35 L76.03,297.58" fill="none" stroke="#3a3a3a" stroke-width="1.0"/>
<path d="M50.50,300.50H98.00V344.00" fill="none" stroke="#d2d2d2" stroke-width="1"/>
<path d="M50.50,344.00H98.00" fill="none" stroke="#b8b8b8" stroke-width="1"/>
<path d="M50.50,300.50V344.00" fill="none" stroke="#a0a0a0" stroke-width="1"/>
<path d="M52.88,343.15 L53.47,342.13 L54.06,340.30 L54.66,335.30 L55.25,324.73 L55.84,307.06 L56.44,301.50 L57.03,306.82 L57.62,311.58 L58.22,328.02 L58.81,335.48 L59.41,340.33 L60.00,342.57 L60.59,343.22" fill="none" stroke="#a2a2a2" stroke-width="0.9"/>
<path d="M50.50,344.00 L50.50,343.40 L50.50,342.96 L51.09,342.88 L51.69,342.79 L52.28,342.69 L52.88,342.58 L53.47,342.59 L54.06,342.44 L54.66,342.08 L55.25,341.95 L55.84,341.74 L56.44,341.82 L57.03,341.51 L57.62,341.63 L58.22,341.41 L58.81,341.12 L59.41,341.02 L60.00,340.73 L60.59,340.39 L61.19,340.08 L61.78,339.86 L62.38,339.57 L62.97,339.09 L63.56,337.93 L64.16,336.63 L64.75,334.56 L65.34,332.55 L65.94,329.03 L66.53,324.96 L67.12,321.21 L67.72,315.89 L68.31,311.17 L68.91,306.86 L69.50,303.03 L70.09,302.59 L70.69,303.20 L71.28,303.66 L71.88,306.49 L72.47,312.42 L73.06,316.48 L73.66,322.52 L74.25,326.71 L74.84,331.34 L75.44,334.18 L76.03,336.99 L76.62,339.78 L77.22,341.16 L77.81,342.05 L78.41,342.43 L79.00,342.92 L79.59,343.14 L80.19,343.27 L80.78,343.33 L81.38,343.37 L81.97,343.38 L82.56,343.39 L83.16,343.40 L83.75,343.40 L84.34,343.40 L84.94,343.40 L85.53,343.40 L86.12,343.40 L86.72,343.40 L87.31,343.40 L87.91,343.40 L88.50,343.40 L89.09,343.40 L89.69,343.40 L90.28,343.40 L90.88,343.40 L91.47,343.40 L92.06,343.40 L92.66,343.40 L93.25,343.40 L93.84,343.40 L94.44,343.40 L95.03,343.40 L95.62,343.40 L96.22,343.40 L96.81,343.40 L97.41,343.40 L98.00,343.40 L98.00,343.40 L98.00,344.00 Z" fill="#c4c4c4" stroke="none"/>
<path d="M50.50,342.96 L51.09,342.88 L51.69,342.79 L52.28,342.69 L52.88,342.58 L53.47,342.59 L54.06,342.44 L54.66,342.08 L55.25,341.95 L55.84,341.74 L56.44,341.82 L57.03,341.51 L57.62,341.63 L58.22,341.41 L58.81,341.12 L59.41,341.02 L60.00,340.73 L60.59,340.39 L61.19,340.08 L61.78,339.86 L62.38,339.57 L62.97,339.09 L63.56,337.93 L64.16,336.63 L64.75,334.56 L65.34,332.55 L65.94,329.03 L66.53,324.96 L67.12,321.21 L67.72,315.89 L68.31,311.17 L68.91,306.86 L69.50,303.03 L70.09,302.59 L70.69,303.20 L71.28,303.66 L71.88,306.49 L72.47,312.42 L73.06,316.48 L73.66,322.52 L74.25,326.71 L74.84,331.34 L75.44,334.18 L76.03,336.99 L76.62,339.78 L77.22,341.16 L77.81,342.05 L78.41,342.43 L79.00,342.92" fill="none" stroke="#262626" stroke-width="0.9"/>
<path d="M50.50,343.40 L50.50,342.00 L51.09,341.39 L51.69,341.37 L52.28,341.01 L52.88,341.11 L53.47,340.97 L54.06,340.73 L54.66,340.88 L55.25,340.47 L55.84,340.45 L56.44,340.17 L57.03,340.02 L57.62,339.09 L58.22,339.38 L58.81,339.37 L59.41,339.17 L60.00,338.88 L60.59,338.41 L61.19,338.68 L61.78,338.65 L62.38,338.21 L62.97,337.76 L63.56,338.33 L64.16,337.95 L64.75,338.39 L65.34,337.79 L65.94,338.50 L66.53,338.12 L67.12,339.05 L67.72,339.30 L68.31,339.27 L68.91,339.83 L69.50,339.69 L70.09,340.52 L70.69,340.49 L71.28,340.48 L71.88,341.22 L72.47,341.08 L73.06,341.27 L73.66,341.67 L74.25,341.78 L74.84,341.66 L75.44,341.57 L76.03,340.82 L76.62,340.18 L77.22,338.39 L77.81,337.15 L78.41,334.09 L79.00,329.76 L79.59,325.53 L80.19,320.36 L80.78,316.53 L81.38,311.55 L81.97,305.40 L82.56,301.93 L83.16,303.84 L83.75,304.01 L84.34,307.22 L84.94,310.81 L85.53,317.91 L86.12,324.48 L86.72,329.29 L87.31,334.00 L87.91,337.24 L88.50,339.84 L89.09,341.62 L89.69,342.38 L90.28,342.87 L90.88,343.15" fill="none" stroke="#3a3a3a" stroke-width="1.0"/>
<path d="M50.50,346.00H98.00V389.50" fill="none" stroke="#d2d2d2" stroke-width="1"/>
<path d="M50.50,389.50H98.00" fill="none" stroke="#b8b8b8" stroke-width="1"/>
<path d="M50.50,346.00V389.50" fill="none" stroke="#a0a0a0" stroke-width="1"/>
<path d="M51.09,388.56 L51.69,387.50 L52.28,383.59 L52.88,375.70 L53.47,365.34 L54.06,353.63 L54.66,351.50 L55.25,348.22 L55.84,363.45 L56.44,374.12 L57.03,382.30 L57.62,386.66 L58.22,388.28 L58.81,388.77" fill="none" stroke="#a2a2a2" stroke-width="0.9"/>
<path d="M50.50,389.50 L50.50,388.90 L50.50,388.90 L51.09,388.90 L51.69,388.90 L52.28,388.90 L52.88,388.90 L53.47,388.90 L54.06,388.90 L54.66,388.89 L55.25,388.89 L55.84,388.87 L56.44,388.85 L57.03,388.82 L57.62,388.76 L58.22,388.67 L58.81,388.52 L59.41,388.30 L60.00,388.09 L60.59,387.35 L61.19,386.65 L61.78,385.79 L62.38,384.79 L62.97,383.30 L63.56,381.06 L64.16,378.03 L64.75,375.84 L65.34,372.34 L65.94,368.04 L66.53,365.27 L67.12,361.29 L67.72,356.29 L68.31,354.60 L68.91,350.53 L69.50,349.53 L70.09,348.24 L70.69,348.02 L71.28,349.30 L71.88,351.95 L72.47,357.40 L73.06,361.16 L73.66,366.96 L74.25,371.84 L74.84,375.86 L75.44,379.91 L76.03,383.24 L76.62,384.76 L77.22,386.30 L77.81,387.57 L78.41,388.06 L79.00,388.44 L79.59,388.66 L80.19,388.78 L80.78,388.84 L81.38,388.87 L81.97,388.89 L82.56,388.90 L83.16,388.90 L83.75,388.90 L84.34,388.90 L84.94,388.90 L85.53,388.90 L86.12,388.90 L86.72,388.90 L87.31,388.90 L87.91,388.90 L88.50,388.90 L89.09,388.90 L89.69,388.90 L90.28,388.90 L90.88,388.90 L91.47,388.90 L92.06,388.90 L92.66,388.90 L93.25,388.90 L93.84,388.90 L94.44,388.90 L95.03,388.90 L95.62,388.90 L96.22,388.90 L96.81,388.90 L97.41,388.90 L98.00,388.90 L98.00,388.90 L98.00,389.50 Z" fill="#c4c4c4" stroke="none"/>
<path d="M58.81,388.52 L59.41,388.30 L60.00,388.09 L60.59,387.35 L61.19,386.65 L61.78,385.79 L62.38,384.79 L62.97,383.30 L63.56,381.06 L64.16,378.03 L64.75,375.84 L65.34,372.34 L65.94,368.04 L66.53,365.27 L67.12,361.29 L67.72,356.29 L68.31,354.60 L68.91,350.53 L69.50,349.53 L70.09,348.24 L70.69,348.02 L71.28,349.30 L71.88,351.95 L72.47,357.40 L73.06,361.16 L73.66,366.96 L74.25,371.84 L74.84,375.86 L75.44,379.91 L76.03,383.24 L76.62,384.76 L77.22,386.30 L77.81,387.57 L78.41,388.06 L79.00,388.44" fill="none" stroke="#262626" stroke-width="0.9"/>
<path d="M80.78,388.52 L81.38,388.15 L81.97,387.09 L82.56,384.57 L83.16,381.32 L83.75,375.01 L84.34,368.49 L84.94,361.27 L85.53,354.49 L86.12,350.07 L86.72,348.57 L87.31,350.91 L87.91,356.84 L88.50,364.67 L89.09,372.38 L89.69,377.61 L90.28,382.74 L90.88,385.82 L91.47,387.32 L92.06,388.24 L92.66,388.64" fill="none" stroke="#3a3a3a" stroke-width="1.0"/>
<path d="M50.50,391.50H98.00V435.00" fill="none" stroke="#d2d2d2" stroke-width="1"/>
<path d="M50.50,435.00H98.00" fill="none" stroke="#b8b8b8" stroke-width="1"/>
<path d="M50.50,391.50V435.00" fill="none" stroke="#a0a0a0" stroke-width="1"/>
<path d="M55.84,434.06 L56.44,433.16 L57.03,431.12 L57.62,424.67 L58.22,410.82 L58.81,402.83 L59.41,393.36 L60.00,399.35 L60.59,404.55 L61.19,417.59 L61.78,427.85 L62.38,431.31 L62.97,433.78 L63.56,434.27" fill="none" stroke="#a2a2a2" stroke-width="0.9"/>
<path d="M50.50,435.00 L50.50,434.40 L50.50,433.08 L51.09,433.00 L51.69,432.96 L52.28,432.65 L52.88,432.58 L53.47,432.29 L54.06,432.18 L54.66,432.28 L55.25,431.92 L55.84,432.17 L56.44,432.00 L57.03,431.99 L57.62,431.44 L58.22,430.95 L58.81,430.52 L59.41,429.68 L60.00,428.44 L60.59,427.57 L61.19,425.09 L61.78,423.33 L62.38,420.88 L62.97,417.45 L63.56,412.98 L64.16,410.41 L64.75,406.12 L65.34,401.70 L65.94,399.84 L66.53,395.63 L67.12,394.02 L67.72,392.92 L68.31,393.51 L68.91,394.74 L69.50,398.78 L70.09,402.43 L70.69,406.52 L71.28,411.84 L71.88,417.58 L72.47,422.40 L73.06,425.10 L73.66,427.96 L74.25,430.33 L74.84,432.14 L75.44,432.89 L76.03,433.56 L76.62,433.94 L77.22,434.16 L77.81,434.28 L78.41,434.34 L79.00,434.37 L79.59,434.39 L80.19,434.40 L80.78,434.40 L81.38,434.40 L81.97,434.40 L82.56,434.40 L83.16,434.40 L83.75,434.40 L84.34,434.40 L84.94,434.40 L85.53,434.40 L86.12,434.40 L86.72,434.40 L87.31,434.40 L87.91,434.40 L88.50,434.40 L89.09,434.40 L89.69,434.40 L90.28,434.40 L90.88,434.40 L91.47,434.40 L92.06,434.40 L92.66,434.40 L93.25,434.40 L93.84,434.40 L94.44,434.40 L95.03,434.40 L95.62,434.40 L96.22,434.40 L96.81,434.40 L97.41,434.40 L98.00,434.40 L98.00,434.40 L98.00,435.00 Z" fill="#c4c4c4" stroke="none"/>
<path d="M50.50,434.40 L50.50,433.08 L51.09,433.00 L51.69,432.96 L52.28,432.65 L52.88,432.58 L53.47,432.29 L54.06,432.18 L54.66,432.28 L55.25,431.92 L55.84,432.17 L56.44,432.00 L57.03,431.99 L57.62,431.44 L58.22,430.95 L58.81,430.52 L59.41,429.68 L60.00,428.44 L60.59,427.57 L61.19,425.09 L61.78,423.33 L62.38,420.88 L62.97,417.45 L63.56,412.98 L64.16,410.41 L64.75,406.12 L65.34,401.70 L65.94,399.84 L66.53,395.63 L67.12,394.02 L67.72,392.92 L68.31,393.51 L68.91,394.74 L69.50,398.78 L70.09,402.43 L70.69,406.52 L71.28,411.84 L71.88,417.58 L72.47,422.40 L73.06,425.10 L73.66,427.96 L74.25,430.33 L74.84,432.14 L75.44,432.89 L76.03,433.56 L76.62,433.94" fill="none" stroke="#262626" stroke-width="0.9"/>
<path d="M80.19,434.09 L80.78,433.61 L81.38,432.55 L81.97,430.46 L82.56,426.93 L83.16,421.76 L83.75,415.55 L84.34,408.62 L84.94,400.82 L85.53,394.23 L86.12,394.86 L86.72,394.19 L87.31,399.79 L87.91,406.69 L88.50,415.74 L89.09,421.97 L89.69,426.97 L90.28,430.27 L90.88,432.90 L91.47,433.61 L92.06,434.09" fill="none" stroke="#3a3a3a" stroke-width="1.0"/>
<text x="128.95" y="251.20" font-size="13" font-weight="bold" text-anchor="middle" fill="#000" >CD45RO</text>
<path d="M105.20,255.00H152.70V298.50" fill="none" stroke="#d2d2d2" stroke-width="1"/>
<path d="M105.20,298.50H152.70" fill="none" stroke="#b8b8b8" stroke-width="1"/>
<path d="M105.20,255.00V298.50" fill="none" stroke="#a0a0a0" stroke-width="1"/>
<path d="M109.95,297.69 L110.54,297.13 L111.14,293.73 L111.73,281.19 L112.33,263.45 L112.92,258.86 L113.51,261.71 L114.11,275.54 L114.70,288.99 L115.29,295.23 L115.89,297.44" fill="none" stroke="#a2a2a2" stroke-width="0.9"/>
<path d="M105.20,297.90 L105.20,294.77 L105.79,294.44 L106.39,294.33 L106.98,293.96 L107.58,293.21 L108.17,293.33 L108.76,293.17 L109.36,292.71 L109.95,291.22 L110.54,291.24 L111.14,289.06 L111.73,288.81 L112.33,287.53 L112.92,285.38 L113.51,283.47 L114.11,281.04 L114.70,276.26 L115.29,275.19 L115.89,272.36 L116.48,267.81 L117.08,266.82 L117.67,264.30 L118.26,260.29 L118.86,257.29 L119.45,258.02 L120.04,256.59 L120.64,258.17 L121.23,260.25 L121.83,268.59 L122.42,277.45 L123.01,285.90 L123.61,291.66 L124.20,295.09 L124.79,296.64 L125.39,297.44" fill="none" stroke="#3a3a3a" stroke-width="1.0"/>
<path d="M105.20,300.50H152.70V344.00" fill="none" stroke="#d2d2d2" stroke-width="1"/>
<path d="M105.20,344.00H152.70" fill="none" stroke="#b8b8b8" stroke-width="1"/>
<path d="M105.20,300.50V344.00" fill="none" stroke="#a0a0a0" stroke-width="1"/>
<path d="M112.33,343.24 L112.92,342.12 L113.51,334.81 L114.11,314.09 L114.70,303.37 L115.29,312.14 L115.89,334.03 L116.48,341.79 L117.08,343.24" fill="none" stroke="#a2a2a2" stroke-width="0.9"/>
<path d="M105.20,344.00 L105.20,343.40 L105.20,343.40 L105.79,343.40 L106.39,343.40 L106.98,343.40 L107.58,343.40 L108.17,343.40 L108.76,343.40 L109.36,343.40 L109.95,343.40 L110.54,343.40 L111.14,343.40 L111.73,343.40 L112.33,343.40 L112.92,343.40 L113.51,343.39 L114.11,343.38 L114.70,343.34 L115.29,343.25 L115.89,343.06 L116.48,342.69 L117.08,342.10 L117.67,340.71 L118.26,339.09 L118.86,336.07 L119.45,332.41 L120.04,327.17 L120.64,321.25 L121.23,313.87 L121.83,308.34 L122.42,305.32 L123.01,303.21 L123.61,303.24 L124.20,305.23 L124.79,310.78 L125.39,315.07 L125.98,322.39 L126.58,327.72 L127.17,332.60 L127.76,336.66 L128.36,339.26 L128.95,341.26 L129.54,342.01 L130.14,342.78 L130.73,343.11 L131.33,343.27 L131.92,343.35 L132.51,343.38 L133.11,343.39 L133.70,343.40 L134.29,343.40 L134.89,343.40 L135.48,343.40 L136.07,343.40 L136.67,343.40 L137.26,343.40 L137.86,343.40 L138.45,343.40 L139.04,343.40 L139.64,343.40 L140.23,343.40 L140.82,343.40 L141.42,343.40 L142.01,343.40 L142.61,343.40 L143.20,343.40 L143.79,343.40 L144.39,343.40 L144.98,343.40 L145.57,343.40 L146.17,343.40 L146.76,343.40 L147.36,343.40 L147.95,343.40 L148.54,343.40 L149.14,343.40 L149.73,343.40 L150.32,343.40 L150.92,343.40 L151.51,343.40 L152.11,343.40 L152.70,343.40 L152.70,343.40 L152.70,344.00 Z" fill="#c4c4c4" stroke="none"/>
<path d="M115.89,343.06 L116.48,342.69 L117.08,342.10 L117.67,340.71 L118.26,339.09 L118.86,336.07 L119.45,332.41 L120.04,327.17 L120.64,321.25 L121.23,313.87 L121.83,308.34 L122.42,305.32 L123.01,303.21 L123.61,303.24 L124.20,305.23 L124.79,310.78 L125.39,315.07 L125.98,322.39 L126.58,327.72 L127.17,332.60 L127.76,336.66 L128.36,339.26 L128.95,341.26 L129.54,342.01 L130.14,342.78 L130.73,343.11" fill="none" stroke="#262626" stroke-width="0.9"/>
<path d="M105.20,343.40 L105.20,341.49 L105.79,341.33 L106.39,341.50 L106.98,340.65 L107.58,340.43 L108.17,340.35 L108.76,340.16 L109.36,338.94 L109.95,339.25 L110.54,339.02 L111.14,338.92 L111.73,338.59 L112.33,338.30 L112.92,338.51 L113.51,339.01 L114.11,338.86 L114.70,337.89 L115.29,338.46 L115.89,337.04 L116.48,336.04 L117.08,335.23 L117.67,332.30 L118.26,329.19 L118.86,324.73 L119.45,320.41 L120.04,315.48 L120.64,310.94 L121.23,307.51 L121.83,305.31 L122.42,301.73 L123.01,303.46 L123.61,303.53 L124.20,308.62 L124.79,311.68 L125.39,317.69 L125.98,321.79 L126.58,325.76 L127.17,331.80 L127.76,334.71 L128.36,337.46 L128.95,339.49 L129.54,341.31 L130.14,342.18 L130.73,342.57 L131.33,342.94" fill="none" stroke="#3a3a3a" stroke-width="1.0"/>
<path d="M105.20,346.00H152.70V389.50" fill="none" stroke="#d2d2d2" stroke-width="1"/>
<path d="M105.20,389.50H152.70" fill="none" stroke="#b8b8b8" stroke-width="1"/>
<path d="M105.20,346.00V389.50" fill="none" stroke="#a0a0a0" stroke-width="1"/>
<path d="M112.33,388.74 L112.92,386.75 L113.51,378.70 L114.11,362.48 L114.70,347.20 L115.29,362.36 L115.89,380.10 L116.48,386.56 L117.08,388.74" fill="none" stroke="#a2a2a2" stroke-width="0.9"/>
<path d="M105.20,389.50 L105.20,388.90 L105.20,388.90 L105.79,388.90 L106.39,388.90 L106.98,388.90 L107.58,388.90 L108.17,388.90 L108.76,388.90 L109.36,388.90 L109.95,388.89 L110.54,388.88 L111.14,388.87 L111.73,388.84 L112.33,388.78 L112.92,388.69 L113.51,388.53 L114.11,388.27 L114.70,388.01 L115.29,387.44 L115.89,386.14 L116.48,384.83 L117.08,383.54 L117.67,381.21 L118.26,377.79 L118.86,374.56 L119.45,371.30 L120.04,367.07 L120.64,361.58 L121.23,357.49 L121.83,354.16 L122.42,350.29 L123.01,348.27 L123.61,347.61 L124.20,349.58 L124.79,350.85 L125.39,356.18 L125.98,363.23 L126.58,368.83 L127.17,374.90 L127.76,379.55 L128.36,382.96 L128.95,385.51 L129.54,386.70 L130.14,387.98 L130.73,388.37 L131.33,388.65 L131.92,388.79 L132.51,388.86 L133.11,388.88 L133.70,388.89 L134.29,388.90 L134.89,388.90 L135.48,388.90 L136.07,388.90 L136.67,388.90 L137.26,388.90 L137.86,388.90 L138.45,388.90 L139.04,388.90 L139.64,388.90 L140.23,388.90 L140.82,388.90 L141.42,388.90 L142.01,388.90 L142.61,388.90 L143.20,388.90 L143.79,388.90 L144.39,388.90 L144.98,388.90 L145.57,388.90 L146.17,388.90 L146.76,388.90 L147.36,388.90 L147.95,388.90 L148.54,388.90 L149.14,388.90 L149.73,388.90 L150.32,388.90 L150.92,388.90 L151.51,388.90 L152.11,388.90 L152.70,388.90 L152.70,388.90 L152.70,389.50 Z" fill="#c4c4c4" stroke="none"/>
<path d="M113.51,388.53 L114.11,388.27 L114.70,388.01 L115.29,387.44 L115.89,386.14 L116.48,384.83 L117.08,383.54 L117.67,381.21 L118.26,377.79 L118.86,374.56 L119.45,371.30 L120.04,367.07 L120.64,361.58 L121.23,357.49 L121.83,354.16 L122.42,350.29 L123.01,348.27 L123.61,347.61 L124.20,349.58 L124.79,350.85 L125.39,356.18 L125.98,363.23 L126.58,368.83 L127.17,374.90 L127.76,379.55 L128.36,382.96 L128.95,385.51 L129.54,386.70 L130.14,387.98 L130.73,388.37 L131.33,388.65" fill="none" stroke="#262626" stroke-width="0.9"/>
<path d="M105.20,388.90 L105.20,363.30 L105.79,381.65 L106.39,388.70 M118.86,388.59 L119.45,388.32 L120.04,388.10 L120.64,386.75 L121.23,385.50 L121.83,384.00 L122.42,382.40 L123.01,379.42 L123.61,375.21 L124.20,369.60 L124.79,366.07 L125.39,359.08 L125.98,354.69 L126.58,351.75 L127.17,349.37 L127.76,347.44 L128.36,350.15 L128.95,353.82 L129.54,361.53 L130.14,370.93 L130.73,376.11 L131.33,381.48 L131.92,385.62 L132.51,387.27 L133.11,388.11 L133.70,388.59" fill="none" stroke="#3a3a3a" stroke-width="1.0"/>
<path d="M105.20,391.50H152.70V435.00" fill="none" stroke="#d2d2d2" stroke-width="1"/>
<path d="M105.20,435.00H152.70" fill="none" stroke="#b8b8b8" stroke-width="1"/>
<path d="M105.20,391.50V435.00" fill="none" stroke="#a0a0a0" stroke-width="1"/>
<path d="M107.58,433.94 L108.17,431.73 L108.76,424.57 L109.36,411.86 L109.95,400.58 L110.54,393.55 L111.14,402.22 L111.73,416.80 L112.33,427.63 L112.92,433.74 L113.51,434.19" fill="none" stroke="#a2a2a2" stroke-width="0.9"/>
<path d="M105.20,435.00 L105.20,434.40 L105.20,434.40 L105.79,434.40 L106.39,434.40 L106.98,434.40 L107.58,434.40 L108.17,434.40 L108.76,434.40 L109.36,434.40 L109.95,434.40 L110.54,434.40 L111.14,434.40 L111.73,434.40 L112.33,434.40 L112.92,434.40 L113.51,434.40 L114.11,434.40 L114.70,434.40 L115.29,434.40 L115.89,434.39 L116.48,434.38 L117.08,434.34 L117.67,434.25 L118.26,434.06 L118.86,433.69 L119.45,432.82 L120.04,431.76 L120.64,429.57 L121.23,426.81 L121.83,423.07 L122.42,418.26 L123.01,411.74 L123.61,405.46 L124.20,400.02 L124.79,395.82 L125.39,392.75 L125.98,393.63 L126.58,398.06 L127.17,404.84 L127.76,412.13 L128.36,419.28 L128.95,425.43 L129.54,429.77 L130.14,431.71 L130.73,433.45 L131.33,433.94 L131.92,434.23 L132.51,434.34 L133.11,434.38 L133.70,434.40 L134.29,434.40 L134.89,434.40 L135.48,434.40 L136.07,434.40 L136.67,434.40 L137.26,434.40 L137.86,434.40 L138.45,434.40 L139.04,434.40 L139.64,434.40 L140.23,434.40 L140.82,434.40 L141.42,434.40 L142.01,434.40 L142.61,434.40 L143.20,434.40 L143.79,434.40 L144.39,434.40 L144.98,434.40 L145.57,434.40 L146.17,434.40 L146.76,434.40 L147.36,434.40 L147.95,434.40 L148.54,434.40 L149.14,434.40 L149.73,434.40 L150.32,434.40 L150.92,434.40 L151.51,434.40 L152.11,434.40 L152.70,434.40 L152.70,434.40 L152.70,435.00 Z" fill="#c4c4c4" stroke="none"/>
<path d="M118.26,434.06 L118.86,433.69 L119.45,432.82 L120.04,431.76 L120.64,429.57 L121.23,426.81 L121.83,423.07 L122.42,418.26 L123.01,411.74 L123.61,405.46 L124.20,400.02 L124.79,395.82 L125.39,392.75 L125.98,393.63 L126.58,398.06 L127.17,404.84 L127.76,412.13 L128.36,419.28 L128.95,425.43 L129.54,429.77 L130.14,431.71 L130.73,433.45 L131.33,433.94" fill="none" stroke="#262626" stroke-width="0.9"/>
<path d="M115.29,433.90 L115.89,433.61 L116.48,433.03 L117.08,432.49 L117.67,432.07 L118.26,430.45 L118.86,429.66 L119.45,427.77 L120.04,425.70 L120.64,421.42 L121.23,419.09 L121.83,415.26 L122.42,411.23 L123.01,407.36 L123.61,402.91 L124.20,400.00 L124.79,396.49 L125.39,394.79 L125.98,392.90 L126.58,392.80 L127.17,393.52 L127.76,398.69 L128.36,403.99 L128.95,410.52 L129.54,415.69 L130.14,420.35 L130.73,424.96 L131.33,428.73 L131.92,431.49 L132.51,432.33 L133.11,433.27 L133.70,433.94" fill="none" stroke="#3a3a3a" stroke-width="1.0"/>
<text x="183.75" y="251.20" font-size="13" font-weight="bold" text-anchor="middle" fill="#000" >CD54</text>
<path d="M160.00,255.00H207.50V298.50" fill="none" stroke="#d2d2d2" stroke-width="1"/>
<path d="M160.00,298.50H207.50" fill="none" stroke="#b8b8b8" stroke-width="1"/>
<path d="M160.00,255.00V298.50" fill="none" stroke="#a0a0a0" stroke-width="1"/>
<path d="M160.00,297.90 L160.00,276.56 L160.59,274.36 L161.19,276.47 L161.78,272.45 L162.38,268.67 L162.97,267.83 L163.56,265.04 L164.16,265.65 L164.75,263.59 L165.34,260.42 L165.94,256.00 L166.53,256.00 L167.12,256.00 L167.72,256.00 L168.31,256.00 L168.91,261.59 L169.50,262.18 L170.09,265.88 L170.69,274.66 L171.28,272.47 L171.88,279.37 L172.47,284.03 L173.06,286.19 L173.66,289.38 L174.25,290.90 L174.84,293.76 L175.44,293.28 L176.03,295.86 L176.62,295.32 L177.22,296.88 L177.81,297.11 L178.41,297.40" fill="none" stroke="#a2a2a2" stroke-width="0.9"/>
<path d="M162.97,297.48 L163.56,297.38 L164.16,297.27 L164.75,297.16 L165.34,297.19 L165.94,296.77 L166.53,297.01 L167.12,296.74 L167.72,296.74 L168.31,296.55 L168.91,296.31 L169.50,296.56 L170.09,296.39 L170.69,296.29 L171.28,295.76 L171.88,294.51 L172.47,293.92 L173.06,293.82 L173.66,292.77 L174.25,292.39 L174.84,293.16 L175.44,293.33 L176.03,292.87 L176.62,288.31 L177.22,275.08 L177.81,263.46 L178.41,256.83 L179.00,266.59 L179.59,280.42 L180.19,291.40 L180.78,296.52 L181.38,297.65" fill="none" stroke="#3a3a3a" stroke-width="1.0"/>
<path d="M160.00,300.50H207.50V344.00" fill="none" stroke="#d2d2d2" stroke-width="1"/>
<path d="M160.00,344.00H207.50" fill="none" stroke="#b8b8b8" stroke-width="1"/>
<path d="M160.00,300.50V344.00" fill="none" stroke="#a0a0a0" stroke-width="1"/>
<path d="M160.00,343.40 L160.00,315.04 L160.59,313.87 L161.19,306.81 L161.78,307.85 L162.38,302.28 L162.97,304.40 L163.56,302.03 L164.16,301.50 L164.75,302.78 L165.34,302.22 L165.94,307.75 L166.53,308.03 L167.12,316.00 L167.72,316.85 L168.31,317.83 L168.91,325.99 L169.50,326.46 L170.09,330.85 L170.69,331.13 L171.28,334.91 L171.88,335.25 L172.47,338.83 L173.06,338.73 L173.66,340.61 L174.25,341.46 L174.84,341.86 L175.44,342.53 L176.03,342.71 L176.62,342.94" fill="none" stroke="#a2a2a2" stroke-width="0.9"/>
<path d="M160.00,344.00 L160.00,343.40 L160.00,343.40 L160.59,343.40 L161.19,343.40 L161.78,343.40 L162.38,343.40 L162.97,343.40 L163.56,343.40 L164.16,343.40 L164.75,343.40 L165.34,343.40 L165.94,343.40 L166.53,343.40 L167.12,343.40 L167.72,343.40 L168.31,343.40 L168.91,343.40 L169.50,343.40 L170.09,343.40 L170.69,343.40 L171.28,343.40 L171.88,343.40 L172.47,343.40 L173.06,343.40 L173.66,343.40 L174.25,343.39 L174.84,343.36 L175.44,343.31 L176.03,343.19 L176.62,342.94 L177.22,342.36 L177.81,341.66 L178.41,340.15 L179.00,337.91 L179.59,334.09 L180.19,329.88 L180.78,324.39 L181.38,318.25 L181.97,312.12 L182.56,307.98 L183.16,303.42 L183.75,303.21 L184.34,304.10 L184.94,309.10 L185.53,316.56 L186.12,324.54 L186.72,331.27 L187.31,336.33 L187.91,339.04 L188.50,340.96 L189.09,340.84 L189.69,340.01 L190.28,338.51 L190.88,335.83 L191.47,332.46 L192.06,329.51 L192.66,326.43 L193.25,326.03 L193.84,327.28 L194.44,329.61 L195.03,331.85 L195.62,335.43 L196.22,338.33 L196.81,340.57 L197.41,341.73 L198.00,342.64 L198.59,343.07 L199.19,343.27 L199.78,343.35 L200.38,343.38 L200.97,343.40 L201.56,343.40 L202.16,343.40 L202.75,343.40 L203.34,343.40 L203.94,343.40 L204.53,343.40 L205.12,343.40 L205.72,343.40 L206.31,343.40 L206.91,343.40 L207.50,343.40 L207.50,343.40 L207.50,344.00 Z" fill="#c4c4c4" stroke="none"/>
<path d="M176.62,342.94 L177.22,342.36 L177.81,341.66 L178.41,340.15 L179.00,337.91 L179.59,334.09 L180.19,329.88 L180.78,324.39 L181.38,318.25 L181.97,312.12 L182.56,307.98 L183.16,303.42 L183.75,303.21 L184.34,304.10 L184.94,309.10 L185.53,316.56 L186.12,324.54 L186.72,331.27 L187.31,336.33 L187.91,339.04 L188.50,340.96 L189.09,340.84 L189.69,340.01 L190.28,338.51 L190.88,335.83 L191.47,332.46 L192.06,329.51 L192.66,326.43 L193.25,326.03 L193.84,327.28 L194.44,329.61 L195.03,331.85 L195.62,335.43 L196.22,338.33 L196.81,340.57 L197.41,341.73 L198.00,342.64 L198.59,343.07" fill="none" stroke="#262626" stroke-width="0.9"/>
<path d="M160.00,343.40 L160.00,342.65 L160.59,342.59 L161.19,342.15 L161.78,342.01 L162.38,342.33 L162.97,342.14 L163.56,341.69 L164.16,341.52 L164.75,341.47 L165.34,341.58 L165.94,341.30 L166.53,341.05 L167.12,340.79 L167.72,340.56 L168.31,340.76 L168.91,340.35 L169.50,340.53 L170.09,339.98 L170.69,340.13 L171.28,340.09 L171.88,340.39 L172.47,339.84 L173.06,339.58 L173.66,339.96 L174.25,339.86 L174.84,339.70 L175.44,340.11 L176.03,339.76 L176.62,340.19 L177.22,339.97 L177.81,339.84 L178.41,340.68 L179.00,340.07 L179.59,340.16 L180.19,340.95 L180.78,340.68 L181.38,340.57 L181.97,340.81 L182.56,341.15 L183.16,341.43 L183.75,341.20 L184.34,341.76 L184.94,341.89 L185.53,342.02 L186.12,342.32 L186.72,341.95 L187.31,341.91 L187.91,341.41 L188.50,339.42 L189.09,336.69 L189.69,330.03 L190.28,319.42 L190.88,311.46 L191.47,301.62 L192.06,302.89 L192.66,306.44 L193.25,313.42 L193.84,319.95 L194.44,326.58 L195.03,333.04 L195.62,337.46 L196.22,340.60 L196.81,341.74 L197.41,342.76 L198.00,343.12" fill="none" stroke="#3a3a3a" stroke-width="1.0"/>
<path d="M160.00,346.00H207.50V389.50" fill="none" stroke="#d2d2d2" stroke-width="1"/>
<path d="M160.00,389.50H207.50" fill="none" stroke="#b8b8b8" stroke-width="1"/>
<path d="M160.00,346.00V389.50" fill="none" stroke="#a0a0a0" stroke-width="1"/>
<path d="M160.00,388.90 L160.00,388.37 L160.59,388.01 L161.19,387.53 L161.78,385.21 L162.38,384.34 L162.97,384.32 L163.56,382.17 L164.16,381.93 L164.75,381.22 L165.34,377.28 L165.94,375.79 L166.53,374.55 L167.12,374.34 L167.72,372.10 L168.31,370.79 L168.91,364.82 L169.50,361.50 L170.09,355.97 L170.69,352.50 L171.28,350.82 L171.88,352.96 L172.47,347.00 L173.06,349.50 L173.66,352.64 L174.25,355.50 L174.84,359.06 L175.44,360.26 L176.03,368.16 L176.62,373.15 L177.22,376.01 L177.81,378.84 L178.41,383.60 L179.00,385.20 L179.59,385.90 L180.19,388.15 L180.78,388.07 L181.38,388.45" fill="none" stroke="#a2a2a2" stroke-width="0.9"/>
<path d="M160.00,389.50 L160.00,388.90 L160.00,388.90 L160.59,388.90 L161.19,388.90 L161.78,388.90 L162.38,388.90 L162.97,388.90 L163.56,388.90 L164.16,388.90 L164.75,388.90 L165.34,388.90 L165.94,388.90 L166.53,388.90 L167.12,388.90 L167.72,388.90 L168.31,388.90 L168.91,388.90 L169.50,388.90 L170.09,388.90 L170.69,388.90 L171.28,388.90 L171.88,388.90 L172.47,388.90 L173.06,388.90 L173.66,388.90 L174.25,388.90 L174.84,388.90 L175.44,388.90 L176.03,388.90 L176.62,388.90 L177.22,388.90 L177.81,388.90 L178.41,388.89 L179.00,388.87 L179.59,388.81 L180.19,388.67 L180.78,388.36 L181.38,387.60 L181.97,386.65 L182.56,384.31 L183.16,381.09 L183.75,376.87 L184.34,370.84 L184.94,364.34 L185.53,357.17 L186.12,352.48 L186.72,348.99 L187.31,347.59 L187.91,350.28 L188.50,355.86 L189.09,362.59 L189.69,368.94 L190.28,372.09 L190.88,372.18 L191.47,371.25 L192.06,367.84 L192.66,364.91 L193.25,365.06 L193.84,365.90 L194.44,367.29 L195.03,371.38 L195.62,374.47 L196.22,377.93 L196.81,381.25 L197.41,383.43 L198.00,385.82 L198.59,386.98 L199.19,387.93 L199.78,388.36 L200.38,388.64 L200.97,388.78 L201.56,388.85 L202.16,388.88 L202.75,388.89 L203.34,388.90 L203.94,388.90 L204.53,388.90 L205.12,388.90 L205.72,388.90 L206.31,388.90 L206.91,388.90 L207.50,388.90 L207.50,388.90 L207.50,389.50 Z" fill="#c4c4c4" stroke="none"/>
<path d="M180.19,388.67 L180.78,388.36 L181.38,387.60 L181.97,386.65 L182.56,384.31 L183.16,381.09 L183.75,376.87 L184.34,370.84 L184.94,364.34 L185.53,357.17 L186.12,352.48 L186.72,348.99 L187.31,347.59 L187.91,350.28 L188.50,355.86 L189.09,362.59 L189.69,368.94 L190.28,372.09 L190.88,372.18 L191.47,371.25 L192.06,367.84 L192.66,364.91 L193.25,365.06 L193.84,365.90 L194.44,367.29 L195.03,371.38 L195.62,374.47 L196.22,377.93 L196.81,381.25 L197.41,383.43 L198.00,385.82 L198.59,386.98 L199.19,387.93 L199.78,388.36 L200.38,388.64" fill="none" stroke="#262626" stroke-width="0.9"/>
<path d="M187.91,388.67 L188.50,388.21 L189.09,387.43 L189.69,384.92 L190.28,381.21 L190.88,373.31 L191.47,366.48 L192.06,357.64 L192.66,350.42 L193.25,348.88 L193.84,351.94 L194.44,355.93 L195.03,365.11 L195.62,373.26 L196.22,380.58 L196.81,384.61 L197.41,387.33 L198.00,388.21 L198.59,388.67" fill="none" stroke="#3a3a3a" stroke-width="1.0"/>
<path d="M160.00,391.50H207.50V435.00" fill="none" stroke="#d2d2d2" stroke-width="1"/>
<path d="M160.00,435.00H207.50" fill="none" stroke="#b8b8b8" stroke-width="1"/>
<path d="M160.00,391.50V435.00" fill="none" stroke="#a0a0a0" stroke-width="1"/>
<path d="M160.00,434.40 L160.00,398.56 L160.59,401.51 L161.19,393.47 L161.78,392.50 L162.38,396.49 L162.97,392.50 L163.56,392.50 L164.16,394.15 L164.75,396.84 L165.34,397.08 L165.94,397.53 L166.53,401.43 L167.12,396.74 L167.72,402.02 L168.31,400.31 L168.91,404.50 L169.50,408.98 L170.09,409.31 L170.69,414.36 L171.28,416.64 L171.88,415.34 L172.47,419.20 L173.06,420.34 L173.66,423.98 L174.25,424.26 L174.84,425.26 L175.44,425.00 L176.03,428.77 L176.62,428.80 L177.22,430.21 L177.81,430.14 L178.41,431.80 L179.00,432.70 L179.59,432.70 L180.19,432.50 L180.78,432.91 L181.38,432.81 L181.97,433.59 L182.56,433.77 L183.16,433.92" fill="none" stroke="#a2a2a2" stroke-width="0.9"/>
<path d="M160.00,435.00 L160.00,434.40 L160.00,434.40 L160.59,434.40 L161.19,434.40 L161.78,434.40 L162.38,434.40 L162.97,434.40 L163.56,434.40 L164.16,434.40 L164.75,434.40 L165.34,434.40 L165.94,434.40 L166.53,434.40 L167.12,434.40 L167.72,434.40 L168.31,434.40 L168.91,434.40 L169.50,434.40 L170.09,434.40 L170.69,434.40 L171.28,434.40 L171.88,434.40 L172.47,434.40 L173.06,434.40 L173.66,434.40 L174.25,434.39 L174.84,434.38 L175.44,434.36 L176.03,434.32 L176.62,434.24 L177.22,434.09 L177.81,433.82 L178.41,433.47 L179.00,432.38 L179.59,431.48 L180.19,429.51 L180.78,427.07 L181.38,424.06 L181.97,419.87 L182.56,415.75 L183.16,410.39 L183.75,404.84 L184.34,399.82 L184.94,397.25 L185.53,394.04 L186.12,393.28 L186.72,394.59 L187.31,399.86 L187.91,407.73 L188.50,415.62 L189.09,421.84 L189.69,425.79 L190.28,426.98 L190.88,427.34 L191.47,425.22 L192.06,422.45 L192.66,419.33 L193.25,417.66 L193.84,416.52 L194.44,417.76 L195.03,419.20 L195.62,422.27 L196.22,424.56 L196.81,427.38 L197.41,429.46 L198.00,430.69 L198.59,432.35 L199.19,433.25 L199.78,433.73 L200.38,434.06 L200.97,434.23 L201.56,434.33 L202.16,434.37 L202.75,434.39 L203.34,434.40 L203.94,434.40 L204.53,434.40 L205.12,434.40 L205.72,434.40 L206.31,434.40 L206.91,434.40 L207.50,434.40 L207.50,434.40 L207.50,435.00 Z" fill="#c4c4c4" stroke="none"/>
<path d="M177.22,434.09 L177.81,433.82 L178.41,433.47 L179.00,432.38 L179.59,431.48 L180.19,429.51 L180.78,427.07 L181.38,424.06 L181.97,419.87 L182.56,415.75 L183.16,410.39 L183.75,404.84 L184.34,399.82 L184.94,397.25 L185.53,394.04 L186.12,393.28 L186.72,394.59 L187.31,399.86 L187.91,407.73 L188.50,415.62 L189.09,421.84 L189.69,425.79 L190.28,426.98 L190.88,427.34 L191.47,425.22 L192.06,422.45 L192.66,419.33 L193.25,417.66 L193.84,416.52 L194.44,417.76 L195.03,419.20 L195.62,422.27 L196.22,424.56 L196.81,427.38 L197.41,429.46 L198.00,430.69 L198.59,432.35 L199.19,433.25 L199.78,433.73 L200.38,434.06" fill="none" stroke="#262626" stroke-width="0.9"/>
<path d="M190.88,433.94 L191.47,433.52 L192.06,432.07 L192.66,429.07 L193.25,425.07 L193.84,419.40 L194.44,412.88 L195.03,404.53 L195.62,397.56 L196.22,393.92 L196.81,392.89 L197.41,398.98 L198.00,405.39 L198.59,413.86 L199.19,422.77 L199.78,428.49 L200.38,431.41 L200.97,432.95 L201.56,433.94" fill="none" stroke="#3a3a3a" stroke-width="1.0"/>
<text x="238.65" y="251.20" font-size="13" font-weight="bold" text-anchor="middle" fill="#000" >CD58</text>
<path d="M214.90,255.00H262.40V298.50" fill="none" stroke="#d2d2d2" stroke-width="1"/>
<path d="M214.90,298.50H262.40" fill="none" stroke="#b8b8b8" stroke-width="1"/>
<path d="M214.90,255.00V298.50" fill="none" stroke="#a0a0a0" stroke-width="1"/>
<path d="M214.90,297.90 L214.90,281.76 L215.49,275.60 L216.09,271.85 L216.68,267.48 L217.28,266.20 L217.87,258.46 L218.46,258.81 L219.06,256.00 L219.65,258.46 L220.24,256.00 L220.84,258.24 L221.43,259.84 L222.03,258.08 L222.62,258.01 L223.21,262.68 L223.81,266.01 L224.40,269.46 L224.99,266.51 L225.59,274.65 L226.18,272.45 L226.78,275.39 L227.37,281.25 L227.96,281.02 L228.56,281.48 L229.15,283.40 L229.74,288.99 L230.34,288.93 L230.93,291.92 L231.53,291.09 L232.12,291.08 L232.71,293.34 L233.31,294.47 L233.90,294.96 L234.49,295.06 L235.09,296.06 L235.68,297.12 L236.28,296.83 L236.87,297.01 L237.46,297.26 L238.06,297.42" fill="none" stroke="#a2a2a2" stroke-width="0.9"/>
<path d="M229.74,297.52 L230.34,297.18 L230.93,296.61 L231.53,296.27 L232.12,294.84 L232.71,294.35 L233.31,293.77 L233.90,293.62 L234.49,294.17 L235.09,293.89 L235.68,292.80 L236.28,285.85 L236.87,269.59 L237.46,257.17 L238.06,258.10 L238.65,275.21 L239.24,288.36 L239.84,294.61 L240.43,295.42 L241.03,295.63 L241.62,295.78 L242.21,296.35 L242.81,297.17 L243.40,297.38 L243.99,297.66" fill="none" stroke="#3a3a3a" stroke-width="1.0"/>
<path d="M214.90,300.50H262.40V344.00" fill="none" stroke="#d2d2d2" stroke-width="1"/>
<path d="M214.90,344.00H262.40" fill="none" stroke="#b8b8b8" stroke-width="1"/>
<path d="M214.90,300.50V344.00" fill="none" stroke="#a0a0a0" stroke-width="1"/>
<path d="M214.90,343.40 L214.90,311.59 L215.49,310.04 L216.09,312.98 L216.68,308.01 L217.28,306.00 L217.87,302.68 L218.46,304.08 L219.06,301.50 L219.65,304.36 L220.24,302.75 L220.84,301.50 L221.43,301.68 L222.03,309.92 L222.62,311.44 L223.21,308.86 L223.81,314.14 L224.40,315.36 L224.99,323.69 L225.59,326.01 L226.18,329.51 L226.78,329.48 L227.37,334.57 L227.96,333.94 L228.56,335.14 L229.15,336.83 L229.74,339.75 L230.34,341.02 L230.93,341.43 L231.53,342.09 L232.12,342.44 L232.71,341.85 L233.31,342.74 L233.90,342.94" fill="none" stroke="#a2a2a2" stroke-width="0.9"/>
<path d="M214.90,344.00 L214.90,343.40 L214.90,343.40 L215.49,343.40 L216.09,343.40 L216.68,343.40 L217.28,343.40 L217.87,343.40 L218.46,343.40 L219.06,343.40 L219.65,343.40 L220.24,343.40 L220.84,343.40 L221.43,343.40 L222.03,343.40 L222.62,343.40 L223.21,343.40 L223.81,343.40 L224.40,343.40 L224.99,343.40 L225.59,343.40 L226.18,343.40 L226.78,343.40 L227.37,343.40 L227.96,343.40 L228.56,343.40 L229.15,343.40 L229.74,343.40 L230.34,343.40 L230.93,343.40 L231.53,343.40 L232.12,343.40 L232.71,343.40 L233.31,343.40 L233.90,343.40 L234.49,343.40 L235.09,343.37 L235.68,343.28 L236.28,342.94 L236.87,341.91 L237.46,339.61 L238.06,334.09 L238.65,326.08 L239.24,317.03 L239.84,307.23 L240.43,301.57 L241.03,304.50 L241.62,311.88 L242.21,321.85 L242.81,332.19 L243.40,337.48 L243.99,341.36 L244.59,342.66 L245.18,343.19 L245.78,343.35 L246.37,343.39 L246.96,343.40 L247.56,343.40 L248.15,343.40 L248.74,343.40 L249.34,343.40 L249.93,343.40 L250.53,343.40 L251.12,343.40 L251.71,343.40 L252.31,343.40 L252.90,343.40 L253.49,343.40 L254.09,343.40 L254.68,343.40 L255.28,343.40 L255.87,343.40 L256.46,343.40 L257.06,343.40 L257.65,343.40 L258.24,343.40 L258.84,343.40 L259.43,343.40 L260.02,343.40 L260.62,343.40 L261.21,343.40 L261.81,343.40 L262.40,343.40 L262.40,343.40 L262.40,344.00 Z" fill="#c4c4c4" stroke="none"/>
<path d="M236.28,342.94 L236.87,341.91 L237.46,339.61 L238.06,334.09 L238.65,326.08 L239.24,317.03 L239.84,307.23 L240.43,301.57 L241.03,304.50 L241.62,311.88 L242.21,321.85 L242.81,332.19 L243.40,337.48 L243.99,341.36 L244.59,342.66 L245.18,343.19" fill="none" stroke="#262626" stroke-width="0.9"/>
<path d="M220.24,342.92 L220.84,342.83 L221.43,342.73 L222.03,342.62 L222.62,342.71 L223.21,342.25 L223.81,342.42 L224.40,342.09 L224.99,341.86 L225.59,341.68 L226.18,342.01 L226.78,341.89 L227.37,341.76 L227.96,341.18 L228.56,341.12 L229.15,341.08 L229.74,341.26 L230.34,341.37 L230.93,341.47 L231.53,341.40 L232.12,341.55 L232.71,341.58 L233.31,341.36 L233.90,341.63 L234.49,341.59 L235.09,342.09 L235.68,342.04 L236.28,341.95 L236.87,341.43 L237.46,339.89 L238.06,338.04 L238.65,333.88 L239.24,328.10 L239.84,321.60 L240.43,313.22 L241.03,305.58 L241.62,303.61 L242.21,301.50 L242.81,309.65 L243.40,317.41 L243.99,328.59 L244.59,335.46 L245.18,339.77 L245.78,342.01 L246.37,343.01" fill="none" stroke="#3a3a3a" stroke-width="1.0"/>
<path d="M214.90,346.00H262.40V389.50" fill="none" stroke="#d2d2d2" stroke-width="1"/>
<path d="M214.90,389.50H262.40" fill="none" stroke="#b8b8b8" stroke-width="1"/>
<path d="M214.90,346.00V389.50" fill="none" stroke="#a0a0a0" stroke-width="1"/>
<path d="M214.90,388.90 L214.90,361.45 L215.49,356.97 L216.09,359.90 L216.68,353.38 L217.28,353.72 L217.87,348.42 L218.46,351.07 L219.06,348.57 L219.65,348.02 L220.24,348.04 L220.84,347.99 L221.43,351.78 L222.03,349.84 L222.62,355.13 L223.21,353.43 L223.81,357.46 L224.40,356.46 L224.99,357.45 L225.59,362.36 L226.18,363.65 L226.78,365.21 L227.37,369.81 L227.96,372.93 L228.56,373.96 L229.15,377.03 L229.74,377.32 L230.34,382.26 L230.93,383.72 L231.53,384.22 L232.12,384.67 L232.71,384.42 L233.31,386.25 L233.90,385.89 L234.49,387.13 L235.09,388.26 L235.68,387.97 L236.28,388.16 L236.87,388.35 L237.46,388.50" fill="none" stroke="#a2a2a2" stroke-width="0.9"/>
<path d="M214.90,389.50 L214.90,388.90 L214.90,388.90 L215.49,388.90 L216.09,388.90 L216.68,388.90 L217.28,388.90 L217.87,388.90 L218.46,388.90 L219.06,388.90 L219.65,388.90 L220.24,388.90 L220.84,388.90 L221.43,388.90 L222.03,388.90 L222.62,388.90 L223.21,388.90 L223.81,388.90 L224.40,388.90 L224.99,388.90 L225.59,388.90 L226.18,388.90 L226.78,388.90 L227.37,388.90 L227.96,388.90 L228.56,388.90 L229.15,388.90 L229.74,388.90 L230.34,388.90 L230.93,388.90 L231.53,388.90 L232.12,388.90 L232.71,388.90 L233.31,388.90 L233.90,388.90 L234.49,388.90 L235.09,388.90 L235.68,388.90 L236.28,388.90 L236.87,388.90 L237.46,388.89 L238.06,388.86 L238.65,388.74 L239.24,388.32 L239.84,387.22 L240.43,383.92 L241.03,378.41 L241.62,369.44 L242.21,359.46 L242.81,351.82 L243.40,347.46 L243.99,352.09 L244.59,359.20 L245.18,370.77 L245.78,378.64 L246.37,384.44 L246.96,386.94 L247.56,388.32 L248.15,388.74 L248.74,388.86 L249.34,388.89 L249.93,388.90 L250.53,388.90 L251.12,388.90 L251.71,388.90 L252.31,388.90 L252.90,388.90 L253.49,388.90 L254.09,388.90 L254.68,388.90 L255.28,388.90 L255.87,388.90 L256.46,388.90 L257.06,388.90 L257.65,388.90 L258.24,388.90 L258.84,388.90 L259.43,388.90 L260.02,388.90 L260.62,388.90 L261.21,388.90 L261.81,388.90 L262.40,388.90 L262.40,388.90 L262.40,389.50 Z" fill="#c4c4c4" stroke="none"/>
<path d="M238.65,388.74 L239.24,388.32 L239.84,387.22 L240.43,383.92 L241.03,378.41 L241.62,369.44 L242.21,359.46 L242.81,351.82 L243.40,347.46 L243.99,352.09 L244.59,359.20 L245.18,370.77 L245.78,378.64 L246.37,384.44 L246.96,386.94 L247.56,388.32 L248.15,388.74" fill="none" stroke="#262626" stroke-width="0.9"/>
<path d="M238.65,388.61 L239.24,388.25 L239.84,386.47 L240.43,384.03 L241.03,378.80 L241.62,371.98 L242.21,364.37 L242.81,355.29 L243.40,347.76 L243.99,347.00 L244.59,349.78 L245.18,358.12 L245.78,368.48 L246.37,375.98 L246.96,381.40 L247.56,384.90 L248.15,387.42 L248.74,388.33 L249.34,388.71" fill="none" stroke="#3a3a3a" stroke-width="1.0"/>
<path d="M214.90,391.50H262.40V435.00" fill="none" stroke="#d2d2d2" stroke-width="1"/>
<path d="M214.90,435.00H262.40" fill="none" stroke="#b8b8b8" stroke-width="1"/>
<path d="M214.90,391.50V435.00" fill="none" stroke="#a0a0a0" stroke-width="1"/>
<path d="M219.65,434.15 L220.24,433.87 L220.84,432.70 L221.43,432.94 L222.03,430.69 L222.62,429.24 L223.21,425.82 L223.81,420.35 L224.40,414.72 L224.99,409.70 L225.59,398.88 L226.18,393.37 L226.78,392.55 L227.37,397.44 L227.96,392.50 L228.56,398.87 L229.15,403.57 L229.74,407.66 L230.34,419.15 L230.93,422.06 L231.53,426.59 L232.12,430.61 L232.71,431.76 L233.31,433.40 L233.90,433.58 L234.49,434.01" fill="none" stroke="#a2a2a2" stroke-width="0.9"/>
<path d="M214.90,435.00 L214.90,434.40 L214.90,434.40 L215.49,434.40 L216.09,434.40 L216.68,434.40 L217.28,434.40 L217.87,434.40 L218.46,434.40 L219.06,434.40 L219.65,434.40 L220.24,434.40 L220.84,434.40 L221.43,434.40 L222.03,434.40 L222.62,434.40 L223.21,434.40 L223.81,434.40 L224.40,434.40 L224.99,434.40 L225.59,434.40 L226.18,434.40 L226.78,434.40 L227.37,434.40 L227.96,434.40 L228.56,434.40 L229.15,434.40 L229.74,434.40 L230.34,434.40 L230.93,434.40 L231.53,434.40 L232.12,434.40 L232.71,434.40 L233.31,434.40 L233.90,434.40 L234.49,434.40 L235.09,434.40 L235.68,434.40 L236.28,434.40 L236.87,434.39 L237.46,434.38 L238.06,434.32 L238.65,434.13 L239.24,433.61 L239.84,432.26 L240.43,429.77 L241.03,425.96 L241.62,418.95 L242.21,411.05 L242.81,403.86 L243.40,398.40 L243.99,394.50 L244.59,398.17 L245.18,400.05 L245.78,399.57 L246.37,396.34 L246.96,393.80 L247.56,397.29 L248.15,405.42 L248.74,417.52 L249.34,427.14 L249.93,431.44 L250.53,433.64 L251.12,434.24 L251.71,434.37 L252.31,434.40 L252.90,434.40 L253.49,434.40 L254.09,434.40 L254.68,434.40 L255.28,434.40 L255.87,434.40 L256.46,434.40 L257.06,434.40 L257.65,434.40 L258.24,434.40 L258.84,434.40 L259.43,434.40 L260.02,434.40 L260.62,434.40 L261.21,434.40 L261.81,434.40 L262.40,434.40 L262.40,434.40 L262.40,435.00 Z" fill="#c4c4c4" stroke="none"/>
<path d="M238.65,434.13 L239.24,433.61 L239.84,432.26 L240.43,429.77 L241.03,425.96 L241.62,418.95 L242.21,411.05 L242.81,403.86 L243.40,398.40 L243.99,394.50 L244.59,398.17 L245.18,400.05 L245.78,399.57 L246.37,396.34 L246.96,393.80 L247.56,397.29 L248.15,405.42 L248.74,417.52 L249.34,427.14 L249.93,431.44 L250.53,433.64 L251.12,434.24" fill="none" stroke="#262626" stroke-width="0.9"/>
<path d="M238.65,433.97 L239.24,432.83 L239.84,430.96 L240.43,425.82 L241.03,419.10 L241.62,409.91 L242.21,400.61 L242.81,394.62 L243.40,395.95 L243.99,405.22 L244.59,410.48 L245.18,412.73 L245.78,408.66 L246.37,400.69 L246.96,393.06 L247.56,394.10 L248.15,400.88 L248.74,411.61 L249.34,420.38 L249.93,427.96 L250.53,431.66 L251.12,433.51 L251.71,434.13" fill="none" stroke="#3a3a3a" stroke-width="1.0"/>
<text x="293.55" y="251.20" font-size="13" font-weight="bold" text-anchor="middle" fill="#000" >CD11b</text>
<path d="M269.80,255.00H317.30V298.50" fill="none" stroke="#d2d2d2" stroke-width="1"/>
<path d="M269.80,298.50H317.30" fill="none" stroke="#b8b8b8" stroke-width="1"/>
<path d="M269.80,255.00V298.50" fill="none" stroke="#a0a0a0" stroke-width="1"/>
<path d="M269.80,297.90 L269.80,265.69 L270.39,268.36 L270.99,263.18 L271.58,264.45 L272.18,257.22 L272.77,258.15 L273.36,256.00 L273.96,257.34 L274.55,257.61 L275.14,257.46 L275.74,260.80 L276.33,258.47 L276.93,259.69 L277.52,263.82 L278.11,266.57 L278.71,275.28 L279.30,277.14 L279.89,281.61 L280.49,281.92 L281.08,282.81 L281.68,289.09 L282.27,289.11 L282.86,290.23 L283.46,293.57 L284.05,293.30 L284.64,294.46 L285.24,295.75 L285.83,296.18 L286.43,296.95 L287.02,297.32 L287.61,297.51" fill="none" stroke="#a2a2a2" stroke-width="0.9"/>
<path d="M269.80,297.90 L269.80,296.39 L270.39,296.51 L270.99,296.25 L271.58,296.32 L272.18,296.30 L272.77,296.41 L273.36,296.19 L273.96,296.03 L274.55,296.11 L275.14,296.08 L275.74,295.70 L276.33,295.78 L276.93,295.79 L277.52,295.80 L278.11,295.70 L278.71,295.66 L279.30,295.56 L279.89,295.86 L280.49,295.60 L281.08,295.50 L281.68,295.76 L282.27,295.06 L282.86,295.14 L283.46,295.53 L284.05,295.65 L284.64,295.24 L285.24,295.66 L285.83,295.56 L286.43,295.23 L287.02,295.33 L287.61,295.21 L288.21,295.86 L288.80,295.27 L289.39,295.21 L289.99,295.86 L290.58,295.58 L291.18,295.78 L291.77,295.58 L292.36,295.85 L292.96,295.92 L293.55,296.16 L294.14,295.92 L294.74,296.23 L295.33,296.01 L295.93,296.11 L296.52,296.33 L297.11,296.30 L297.71,295.48 L298.30,295.31 L298.89,292.69 L299.49,289.30 L300.08,285.06 L300.68,278.03 L301.27,269.96 L301.86,264.46 L302.46,257.46 L303.05,256.00 L303.64,260.28 L304.24,271.86 L304.83,284.87 L305.43,291.72 L306.02,295.42 L306.61,297.03 L307.21,297.43" fill="none" stroke="#3a3a3a" stroke-width="1.0"/>
<path d="M269.80,300.50H317.30V344.00" fill="none" stroke="#d2d2d2" stroke-width="1"/>
<path d="M269.80,344.00H317.30" fill="none" stroke="#b8b8b8" stroke-width="1"/>
<path d="M269.80,300.50V344.00" fill="none" stroke="#a0a0a0" stroke-width="1"/>
<path d="M269.80,343.40 L269.80,321.06 L270.39,317.76 L270.99,316.36 L271.58,308.72 L272.18,304.81 L272.77,308.43 L273.36,301.50 L273.96,301.50 L274.55,303.97 L275.14,301.50 L275.74,307.29 L276.33,308.63 L276.93,303.98 L277.52,311.85 L278.11,315.28 L278.71,314.91 L279.30,317.04 L279.89,320.87 L280.49,323.06 L281.08,329.32 L281.68,328.94 L282.27,331.95 L282.86,336.45 L283.46,337.15 L284.05,338.60 L284.64,338.07 L285.24,339.85 L285.83,340.32 L286.43,341.33 L287.02,342.48 L287.61,342.19 L288.21,342.74 L288.80,342.94" fill="none" stroke="#a2a2a2" stroke-width="0.9"/>
<path d="M269.80,344.00 L269.80,343.40 L269.80,343.40 L270.39,343.40 L270.99,343.40 L271.58,343.40 L272.18,343.40 L272.77,343.40 L273.36,343.40 L273.96,343.40 L274.55,343.40 L275.14,343.40 L275.74,343.40 L276.33,343.40 L276.93,343.40 L277.52,343.40 L278.11,343.40 L278.71,343.40 L279.30,343.40 L279.89,343.40 L280.49,343.40 L281.08,343.40 L281.68,343.40 L282.27,343.40 L282.86,343.40 L283.46,343.40 L284.05,343.39 L284.64,343.37 L285.24,343.33 L285.83,343.21 L286.43,342.94 L287.02,342.54 L287.61,341.51 L288.21,339.33 L288.80,336.61 L289.39,331.82 L289.99,326.97 L290.58,319.32 L291.18,312.42 L291.77,307.98 L292.36,303.13 L292.96,302.69 L293.55,305.06 L294.14,308.64 L294.74,315.48 L295.33,322.62 L295.93,328.95 L296.52,334.00 L297.11,337.99 L297.71,340.33 L298.30,341.36 L298.89,340.92 L299.49,339.31 L300.08,335.68 L300.68,329.86 L301.27,322.85 L301.86,314.61 L302.46,307.73 L303.05,306.74 L303.64,308.62 L304.24,313.93 L304.83,322.57 L305.43,329.68 L306.02,336.33 L306.61,339.82 L307.21,341.90 L307.80,342.78 L308.39,343.19 L308.99,343.34 L309.58,343.38 L310.18,343.40 L310.77,343.40 L311.36,343.40 L311.96,343.40 L312.55,343.40 L313.14,343.40 L313.74,343.40 L314.33,343.40 L314.93,343.40 L315.52,343.40 L316.11,343.40 L316.71,343.40 L317.30,343.40 L317.30,343.40 L317.30,344.00 Z" fill="#c4c4c4" stroke="none"/>
<path d="M286.43,342.94 L287.02,342.54 L287.61,341.51 L288.21,339.33 L288.80,336.61 L289.39,331.82 L289.99,326.97 L290.58,319.32 L291.18,312.42 L291.77,307.98 L292.36,303.13 L292.96,302.69 L293.55,305.06 L294.14,308.64 L294.74,315.48 L295.33,322.62 L295.93,328.95 L296.52,334.00 L297.11,337.99 L297.71,340.33 L298.30,341.36 L298.89,340.92 L299.49,339.31 L300.08,335.68 L300.68,329.86 L301.27,322.85 L301.86,314.61 L302.46,307.73 L303.05,306.74 L303.64,308.62 L304.24,313.93 L304.83,322.57 L305.43,329.68 L306.02,336.33 L306.61,339.82 L307.21,341.90 L307.80,342.78 L308.39,343.19" fill="none" stroke="#262626" stroke-width="0.9"/>
<path d="M276.93,342.96 L277.52,342.88 L278.11,342.79 L278.71,342.69 L279.30,342.58 L279.89,342.41 L280.49,342.21 L281.08,342.38 L281.68,342.22 L282.27,341.81 L282.86,341.84 L283.46,341.87 L284.05,341.75 L284.64,340.98 L285.24,340.78 L285.83,340.89 L286.43,340.45 L287.02,340.59 L287.61,340.19 L288.21,340.09 L288.80,340.05 L289.39,340.14 L289.99,340.00 L290.58,340.31 L291.18,340.19 L291.77,339.74 L292.36,340.36 L292.96,340.71 L293.55,340.11 L294.14,340.92 L294.74,341.12 L295.33,340.97 L295.93,340.99 L296.52,341.12 L297.11,341.34 L297.71,341.18 L298.30,340.03 L298.89,338.50 L299.49,335.74 L300.08,331.47 L300.68,326.64 L301.27,319.37 L301.86,312.63 L302.46,307.47 L303.05,304.80 L303.64,301.50 L304.24,303.89 L304.83,309.59 L305.43,318.51 L306.02,325.56 L306.61,331.75 L307.21,337.24 L307.80,339.87 L308.39,341.99 L308.99,342.74 L309.58,343.14" fill="none" stroke="#3a3a3a" stroke-width="1.0"/>
<path d="M269.80,346.00H317.30V389.50" fill="none" stroke="#d2d2d2" stroke-width="1"/>
<path d="M269.80,389.50H317.30" fill="none" stroke="#b8b8b8" stroke-width="1"/>
<path d="M269.80,346.00V389.50" fill="none" stroke="#a0a0a0" stroke-width="1"/>
<path d="M269.80,388.90 L269.80,377.30 L270.39,370.02 L270.99,362.99 L271.58,363.09 L272.18,358.43 L272.77,351.20 L273.36,352.89 L273.96,350.62 L274.55,347.00 L275.14,351.01 L275.74,352.75 L276.33,352.48 L276.93,354.61 L277.52,355.42 L278.11,356.54 L278.71,357.80 L279.30,362.06 L279.89,365.91 L280.49,368.34 L281.08,370.23 L281.68,373.32 L282.27,376.06 L282.86,379.95 L283.46,380.21 L284.05,382.84 L284.64,384.29 L285.24,384.94 L285.83,384.77 L286.43,386.91 L287.02,387.78 L287.61,387.91 L288.21,387.51 L288.80,388.13 L289.39,388.34 L289.99,388.50" fill="none" stroke="#a2a2a2" stroke-width="0.9"/>
<path d="M269.80,389.50 L269.80,388.90 L269.80,388.90 L270.39,388.90 L270.99,388.90 L271.58,388.90 L272.18,388.90 L272.77,388.90 L273.36,388.90 L273.96,388.90 L274.55,388.90 L275.14,388.90 L275.74,388.90 L276.33,388.90 L276.93,388.90 L277.52,388.90 L278.11,388.90 L278.71,388.90 L279.30,388.90 L279.89,388.90 L280.49,388.90 L281.08,388.90 L281.68,388.90 L282.27,388.90 L282.86,388.90 L283.46,388.90 L284.05,388.90 L284.64,388.90 L285.24,388.90 L285.83,388.90 L286.43,388.89 L287.02,388.88 L287.61,388.86 L288.21,388.80 L288.80,388.67 L289.39,388.40 L289.99,387.92 L290.58,386.96 L291.18,385.52 L291.77,382.95 L292.36,379.86 L292.96,375.09 L293.55,370.62 L294.14,364.52 L294.74,357.66 L295.33,354.35 L295.93,350.78 L296.52,349.31 L297.11,352.06 L297.71,357.00 L298.30,361.46 L298.89,363.88 L299.49,362.74 L300.08,356.13 L300.68,350.39 L301.27,348.31 L301.86,349.95 L302.46,357.92 L303.05,369.23 L303.64,377.67 L304.24,383.58 L304.83,386.58 L305.43,388.18 L306.02,388.70 L306.61,388.85 L307.21,388.89 L307.80,388.90 L308.39,388.90 L308.99,388.90 L309.58,388.90 L310.18,388.90 L310.77,388.90 L311.36,388.90 L311.96,388.90 L312.55,388.90 L313.14,388.90 L313.74,388.90 L314.33,388.90 L314.93,388.90 L315.52,388.90 L316.11,388.90 L316.71,388.90 L317.30,388.90 L317.30,388.90 L317.30,389.50 Z" fill="#c4c4c4" stroke="none"/>
<path d="M289.39,388.40 L289.99,387.92 L290.58,386.96 L291.18,385.52 L291.77,382.95 L292.36,379.86 L292.96,375.09 L293.55,370.62 L294.14,364.52 L294.74,357.66 L295.33,354.35 L295.93,350.78 L296.52,349.31 L297.11,352.06 L297.71,357.00 L298.30,361.46 L298.89,363.88 L299.49,362.74 L300.08,356.13 L300.68,350.39 L301.27,348.31 L301.86,349.95 L302.46,357.92 L303.05,369.23 L303.64,377.67 L304.24,383.58 L304.83,386.58 L305.43,388.18 L306.02,388.70" fill="none" stroke="#262626" stroke-width="0.9"/>
<path d="M285.83,388.42 L286.43,387.61 L287.02,386.72 L287.61,386.27 L288.21,385.42 L288.80,384.36 L289.39,384.80 L289.99,386.22 L290.58,387.00 L291.18,387.66 L291.77,388.42 M306.61,388.71 L307.21,387.80 L307.80,386.02 L308.39,379.62 L308.99,370.40 L309.58,356.86 L310.18,347.59 L310.77,347.89 L311.36,356.26 L311.96,369.09 L312.55,379.16 L313.14,384.95 L313.74,387.94 L314.33,388.66" fill="none" stroke="#3a3a3a" stroke-width="1.0"/>
<path d="M269.80,391.50H317.30V435.00" fill="none" stroke="#d2d2d2" stroke-width="1"/>
<path d="M269.80,435.00H317.30" fill="none" stroke="#b8b8b8" stroke-width="1"/>
<path d="M269.80,391.50V435.00" fill="none" stroke="#a0a0a0" stroke-width="1"/>
<path d="M269.80,434.40 L269.80,406.63 L270.39,408.42 L270.99,404.24 L271.58,405.47 L272.18,402.89 L272.77,398.61 L273.36,392.56 L273.96,397.75 L274.55,397.96 L275.14,393.02 L275.74,392.50 L276.33,396.30 L276.93,394.04 L277.52,400.76 L278.11,402.59 L278.71,401.29 L279.30,403.57 L279.89,409.12 L280.49,412.78 L281.08,411.21 L281.68,419.42 L282.27,418.13 L282.86,423.60 L283.46,423.24 L284.05,426.59 L284.64,428.62 L285.24,429.95 L285.83,429.40 L286.43,431.91 L287.02,432.73 L287.61,432.06 L288.21,433.59 L288.80,433.58 L289.39,433.83 L289.99,434.01" fill="none" stroke="#a2a2a2" stroke-width="0.9"/>
<path d="M269.80,435.00 L269.80,434.40 L269.80,434.40 L270.39,434.40 L270.99,434.40 L271.58,434.40 L272.18,434.40 L272.77,434.40 L273.36,434.40 L273.96,434.40 L274.55,434.40 L275.14,434.40 L275.74,434.40 L276.33,434.40 L276.93,434.40 L277.52,434.40 L278.11,434.40 L278.71,434.40 L279.30,434.40 L279.89,434.40 L280.49,434.40 L281.08,434.40 L281.68,434.40 L282.27,434.39 L282.86,434.38 L283.46,434.35 L284.05,434.28 L284.64,434.12 L285.24,433.80 L285.83,433.28 L286.43,432.44 L287.02,430.62 L287.61,428.88 L288.21,426.82 L288.80,424.67 L289.39,422.97 L289.99,421.23 L290.58,419.59 L291.18,417.93 L291.77,415.37 L292.36,413.07 L292.96,409.71 L293.55,406.28 L294.14,403.62 L294.74,400.13 L295.33,396.48 L295.93,393.43 L296.52,393.03 L297.11,393.55 L297.71,397.62 L298.30,404.55 L298.89,411.03 L299.49,416.98 L300.08,422.81 L300.68,427.72 L301.27,430.18 L301.86,432.22 L302.46,433.42 L303.05,433.94 L303.64,434.21 L304.24,434.33 L304.83,434.37 L305.43,434.39 L306.02,434.40 L306.61,434.40 L307.21,434.40 L307.80,434.40 L308.39,434.40 L308.99,434.40 L309.58,434.40 L310.18,434.40 L310.77,434.40 L311.36,434.40 L311.96,434.40 L312.55,434.40 L313.14,434.40 L313.74,434.40 L314.33,434.40 L314.93,434.40 L315.52,434.40 L316.11,434.40 L316.71,434.40 L317.30,434.40 L317.30,434.40 L317.30,435.00 Z" fill="#c4c4c4" stroke="none"/>
<path d="M284.64,434.12 L285.24,433.80 L285.83,433.28 L286.43,432.44 L287.02,430.62 L287.61,428.88 L288.21,426.82 L288.80,424.67 L289.39,422.97 L289.99,421.23 L290.58,419.59 L291.18,417.93 L291.77,415.37 L292.36,413.07 L292.96,409.71 L293.55,406.28 L294.14,403.62 L294.74,400.13 L295.33,396.48 L295.93,393.43 L296.52,393.03 L297.11,393.55 L297.71,397.62 L298.30,404.55 L298.89,411.03 L299.49,416.98 L300.08,422.81 L300.68,427.72 L301.27,430.18 L301.86,432.22 L302.46,433.42 L303.05,433.94" fill="none" stroke="#262626" stroke-width="0.9"/>
<path d="M306.61,434.27 L307.21,433.78 L307.80,431.70 L308.39,427.10 L308.99,418.87 L309.58,405.74 L310.18,395.40 L310.77,394.19 L311.36,398.50 L311.96,413.02 L312.55,423.70 L313.14,429.88 L313.74,432.71 L314.33,434.06" fill="none" stroke="#3a3a3a" stroke-width="1.0"/>
<text x="348.05" y="251.20" font-size="13" font-weight="bold" text-anchor="middle" fill="#000" >CD11c</text>
<path d="M324.30,255.00H371.80V298.50" fill="none" stroke="#d2d2d2" stroke-width="1"/>
<path d="M324.30,298.50H371.80" fill="none" stroke="#b8b8b8" stroke-width="1"/>
<path d="M324.30,255.00V298.50" fill="none" stroke="#a0a0a0" stroke-width="1"/>
<path d="M324.89,297.76 L325.49,297.36 L326.08,292.20 L326.68,286.54 L327.27,272.30 L327.86,256.05 L328.46,258.55 L329.05,259.67 L329.64,269.95 L330.24,275.51 L330.83,280.66 L331.43,288.10 L332.02,293.30 L332.61,296.34 L333.21,297.41" fill="none" stroke="#a2a2a2" stroke-width="0.9"/>
<path d="M324.30,297.90 L324.30,262.62 L324.89,295.98 L325.49,297.16 L326.08,297.07 L326.68,296.83 L327.27,296.74 L327.86,296.30 L328.46,296.53 L329.05,296.25 L329.64,295.64 L330.24,295.68 L330.83,295.73 L331.43,295.88 L332.02,295.14 L332.61,295.25 L333.21,295.26 L333.80,295.24 L334.39,295.82 L334.99,295.85 L335.58,295.41 L336.18,295.80 L336.77,295.92 L337.36,295.83 L337.96,295.29 L338.55,295.33 L339.14,294.43 L339.74,293.07 L340.33,291.38 L340.93,288.21 L341.52,285.39 L342.11,282.11 L342.71,276.54 L343.30,272.29 L343.89,268.84 L344.49,262.57 L345.08,261.04 L345.68,257.64 L346.27,256.00 L346.86,256.15 L347.46,259.66 L348.05,266.41 L348.64,272.51 L349.24,277.62 L349.83,284.20 L350.43,288.33 L351.02,291.39 L351.61,294.39 L352.21,296.02 L352.80,297.00 L353.39,297.37 L353.99,297.65" fill="none" stroke="#3a3a3a" stroke-width="1.0"/>
<path d="M324.30,300.50H371.80V344.00" fill="none" stroke="#d2d2d2" stroke-width="1"/>
<path d="M324.30,344.00H371.80" fill="none" stroke="#b8b8b8" stroke-width="1"/>
<path d="M324.30,300.50V344.00" fill="none" stroke="#a0a0a0" stroke-width="1"/>
<path d="M324.30,343.15 L324.89,341.67 L325.49,338.56 L326.08,335.41 L326.68,322.79 L327.27,308.39 L327.86,301.50 L328.46,302.52 L329.05,315.73 L329.64,324.25 L330.24,335.95 L330.83,339.44 L331.43,342.57 L332.02,343.22" fill="none" stroke="#a2a2a2" stroke-width="0.9"/>
<path d="M324.30,344.00 L324.30,343.40 L324.30,343.40 L324.89,343.40 L325.49,343.40 L326.08,343.40 L326.68,343.40 L327.27,343.40 L327.86,343.40 L328.46,343.40 L329.05,343.40 L329.64,343.39 L330.24,343.38 L330.83,343.35 L331.43,343.27 L332.02,343.11 L332.61,342.78 L333.21,342.30 L333.80,341.05 L334.39,339.08 L334.99,336.61 L335.58,333.07 L336.18,328.50 L336.77,321.63 L337.36,316.46 L337.96,310.40 L338.55,304.86 L339.14,302.31 L339.74,302.15 L340.33,305.62 L340.93,309.49 L341.52,317.57 L342.11,323.77 L342.71,329.85 L343.30,335.06 L343.89,338.57 L344.49,340.54 L345.08,341.86 L345.68,342.76 L346.27,343.12 L346.86,343.28 L347.46,343.33 L348.05,343.30 L348.64,343.15 L349.24,342.77 L349.83,341.74 L350.43,340.23 L351.02,337.53 L351.61,332.48 L352.21,327.04 L352.80,318.94 L353.39,313.36 L353.99,306.66 L354.58,303.87 L355.18,305.39 L355.77,314.33 L356.36,323.74 L356.96,332.67 L357.55,338.02 L358.14,341.19 L358.74,342.69 L359.33,343.20 L359.93,343.35 L360.52,343.39 L361.11,343.40 L361.71,343.40 L362.30,343.40 L362.89,343.40 L363.49,343.40 L364.08,343.40 L364.68,343.40 L365.27,343.40 L365.86,343.40 L366.46,343.40 L367.05,343.40 L367.64,343.40 L368.24,343.40 L368.83,343.40 L369.43,343.40 L370.02,343.40 L370.61,343.40 L371.21,343.40 L371.80,343.40 L371.80,343.40 L371.80,344.00 Z" fill="#c4c4c4" stroke="none"/>
<path d="M332.02,343.11 L332.61,342.78 L333.21,342.30 L333.80,341.05 L334.39,339.08 L334.99,336.61 L335.58,333.07 L336.18,328.50 L336.77,321.63 L337.36,316.46 L337.96,310.40 L338.55,304.86 L339.14,302.31 L339.74,302.15 L340.33,305.62 L340.93,309.49 L341.52,317.57 L342.11,323.77 L342.71,329.85 L343.30,335.06 L343.89,338.57 L344.49,340.54 L345.08,341.86 L345.68,342.76 L346.27,343.12 M348.64,343.15 L349.24,342.77 L349.83,341.74 L350.43,340.23 L351.02,337.53 L351.61,332.48 L352.21,327.04 L352.80,318.94 L353.39,313.36 L353.99,306.66 L354.58,303.87 L355.18,305.39 L355.77,314.33 L356.36,323.74 L356.96,332.67 L357.55,338.02 L358.14,341.19 L358.74,342.69 L359.33,343.20" fill="none" stroke="#262626" stroke-width="0.9"/>
<path d="M332.02,343.11 L332.61,342.78 L333.21,342.18 L333.80,340.83 L334.39,339.01 L334.99,336.99 L335.58,333.21 L336.18,327.94 L336.77,321.75 L337.36,314.73 L337.96,310.34 L338.55,305.15 L339.14,301.50 L339.74,303.16 L340.33,304.81 L340.93,309.13 L341.52,315.97 L342.11,324.55 L342.71,330.89 L343.30,335.26 L343.89,337.99 L344.49,340.98 L345.08,342.28 L345.68,342.76 L346.27,343.12 M348.64,343.15 L349.24,342.77 L349.83,341.97 L350.43,340.38 L351.02,336.83 L351.61,333.47 L352.21,327.23 L352.80,320.07 L353.39,313.60 L353.99,307.55 L354.58,304.28 L355.18,305.28 L355.77,313.00 L356.36,322.46 L356.96,332.61 L357.55,338.17 L358.14,341.64 L358.74,342.69 L359.33,343.20" fill="none" stroke="#3a3a3a" stroke-width="1.0"/>
<path d="M324.30,346.00H371.80V389.50" fill="none" stroke="#d2d2d2" stroke-width="1"/>
<path d="M324.30,389.50H371.80" fill="none" stroke="#b8b8b8" stroke-width="1"/>
<path d="M324.30,346.00V389.50" fill="none" stroke="#a0a0a0" stroke-width="1"/>
<path d="M324.30,388.90 L324.30,349.20 L324.89,383.44 L325.49,388.68 L326.08,388.25 L326.68,384.43 L327.27,374.13 L327.86,359.66 L328.46,347.93 L329.05,349.15 L329.64,368.73 L330.24,378.46 L330.83,386.35 L331.43,388.44" fill="none" stroke="#a2a2a2" stroke-width="0.9"/>
<path d="M324.30,389.50 L324.30,388.90 L324.30,388.90 L324.89,388.90 L325.49,388.90 L326.08,388.90 L326.68,388.90 L327.27,388.90 L327.86,388.90 L328.46,388.90 L329.05,388.90 L329.64,388.89 L330.24,388.88 L330.83,388.86 L331.43,388.83 L332.02,388.77 L332.61,388.67 L333.21,388.49 L333.80,388.21 L334.39,387.69 L334.99,387.16 L335.58,386.11 L336.18,384.90 L336.77,382.98 L337.36,380.18 L337.96,377.46 L338.55,373.82 L339.14,369.96 L339.74,366.30 L340.33,360.88 L340.93,356.28 L341.52,353.44 L342.11,350.48 L342.71,348.73 L343.30,347.94 L343.89,348.79 L344.49,352.64 L345.08,358.00 L345.68,363.67 L346.27,368.64 L346.86,374.29 L347.46,376.82 L348.05,378.93 L348.64,379.20 L349.24,378.73 L349.83,377.93 L350.43,375.79 L351.02,374.06 L351.61,371.73 L352.21,366.83 L352.80,360.90 L353.39,354.62 L353.99,348.78 L354.58,348.93 L355.18,353.46 L355.77,362.58 L356.36,372.74 L356.96,380.45 L357.55,385.35 L358.14,387.38 L358.74,388.47 L359.33,388.79 L359.93,388.87 L360.52,388.90 L361.11,388.90 L361.71,388.90 L362.30,388.90 L362.89,388.90 L363.49,388.90 L364.08,388.90 L364.68,388.90 L365.27,388.90 L365.86,388.90 L366.46,388.90 L367.05,388.90 L367.64,388.90 L368.24,388.90 L368.83,388.90 L369.43,388.90 L370.02,388.90 L370.61,388.90 L371.21,388.90 L371.80,388.90 L371.80,388.90 L371.80,389.50 Z" fill="#c4c4c4" stroke="none"/>
<path d="M333.21,388.49 L333.80,388.21 L334.39,387.69 L334.99,387.16 L335.58,386.11 L336.18,384.90 L336.77,382.98 L337.36,380.18 L337.96,377.46 L338.55,373.82 L339.14,369.96 L339.74,366.30 L340.33,360.88 L340.93,356.28 L341.52,353.44 L342.11,350.48 L342.71,348.73 L343.30,347.94 L343.89,348.79 L344.49,352.64 L345.08,358.00 L345.68,363.67 L346.27,368.64 L346.86,374.29 L347.46,376.82 L348.05,378.93 L348.64,379.20 L349.24,378.73 L349.83,377.93 L350.43,375.79 L351.02,374.06 L351.61,371.73 L352.21,366.83 L352.80,360.90 L353.39,354.62 L353.99,348.78 L354.58,348.93 L355.18,353.46 L355.77,362.58 L356.36,372.74 L356.96,380.45 L357.55,385.35 L358.14,387.38 L358.74,388.47" fill="none" stroke="#262626" stroke-width="0.9"/>
<path d="M350.43,388.44 L351.02,388.17 L351.61,386.92 L352.21,385.40 L352.80,382.78 L353.39,379.37 L353.99,375.66 L354.58,369.15 L355.18,365.04 L355.77,357.65 L356.36,352.09 L356.96,347.91 L357.55,347.00 L358.14,349.61 L358.74,357.33 L359.33,364.73 L359.93,373.91 L360.52,380.06 L361.11,384.92 L361.71,387.18 L362.30,388.21 L362.89,388.67" fill="none" stroke="#3a3a3a" stroke-width="1.0"/>
<path d="M324.30,391.50H371.80V435.00" fill="none" stroke="#d2d2d2" stroke-width="1"/>
<path d="M324.30,435.00H371.80" fill="none" stroke="#b8b8b8" stroke-width="1"/>
<path d="M324.30,391.50V435.00" fill="none" stroke="#a0a0a0" stroke-width="1"/>
<path d="M324.30,433.94 L324.89,431.23 L325.49,426.07 L326.08,415.34 L326.68,398.23 L327.27,392.50 L327.86,401.14 L328.46,420.43 L329.05,428.45 L329.64,433.51 L330.24,434.19" fill="none" stroke="#a2a2a2" stroke-width="0.9"/>
<path d="M324.30,435.00 L324.30,434.40 L324.30,434.40 L324.89,434.40 L325.49,434.40 L326.08,434.40 L326.68,434.40 L327.27,434.40 L327.86,434.40 L328.46,434.40 L329.05,434.40 L329.64,434.40 L330.24,434.39 L330.83,434.38 L331.43,434.36 L332.02,434.32 L332.61,434.25 L333.21,434.14 L333.80,433.94 L334.39,433.63 L334.99,433.07 L335.58,432.54 L336.18,431.12 L336.77,429.67 L337.36,428.37 L337.96,425.98 L338.55,422.53 L339.14,419.26 L339.74,415.07 L340.33,410.48 L340.93,406.23 L341.52,401.52 L342.11,398.98 L342.71,395.43 L343.30,394.06 L343.89,394.06 L344.49,395.89 L345.08,398.43 L345.68,403.95 L346.27,411.08 L346.86,416.54 L347.46,421.49 L348.05,424.99 L348.64,426.65 L349.24,426.26 L349.83,425.37 L350.43,423.95 L351.02,422.82 L351.61,422.14 L352.21,422.16 L352.80,423.00 L353.39,425.20 L353.99,427.74 L354.58,430.06 L355.18,431.67 L355.77,433.00 L356.36,433.67 L356.96,434.07 L357.55,434.26 L358.14,434.35 L358.74,434.38 L359.33,434.39 L359.93,434.40 L360.52,434.40 L361.11,434.40 L361.71,434.40 L362.30,434.40 L362.89,434.40 L363.49,434.40 L364.08,434.40 L364.68,434.40 L365.27,434.40 L365.86,434.40 L366.46,434.40 L367.05,434.40 L367.64,434.40 L368.24,434.40 L368.83,434.40 L369.43,434.40 L370.02,434.40 L370.61,434.40 L371.21,434.40 L371.80,434.40 L371.80,434.40 L371.80,435.00 Z" fill="#c4c4c4" stroke="none"/>
<path d="M333.80,433.94 L334.39,433.63 L334.99,433.07 L335.58,432.54 L336.18,431.12 L336.77,429.67 L337.36,428.37 L337.96,425.98 L338.55,422.53 L339.14,419.26 L339.74,415.07 L340.33,410.48 L340.93,406.23 L341.52,401.52 L342.11,398.98 L342.71,395.43 L343.30,394.06 L343.89,394.06 L344.49,395.89 L345.08,398.43 L345.68,403.95 L346.27,411.08 L346.86,416.54 L347.46,421.49 L348.05,424.99 L348.64,426.65 L349.24,426.26 L349.83,425.37 L350.43,423.95 L351.02,422.82 L351.61,422.14 L352.21,422.16 L352.80,423.00 L353.39,425.20 L353.99,427.74 L354.58,430.06 L355.18,431.67 L355.77,433.00 L356.36,433.67 L356.96,434.07" fill="none" stroke="#262626" stroke-width="0.9"/>
<path d="M348.64,434.11 L349.24,433.78 L349.83,433.18 L350.43,432.25 L351.02,429.89 L351.61,428.06 L352.21,423.76 L352.80,418.18 L353.39,412.30 L353.99,406.62 L354.58,399.92 L355.18,397.24 L355.77,392.50 L356.36,392.50 L356.96,399.08 L357.55,406.67 L358.14,413.68 L358.74,423.01 L359.33,427.70 L359.93,430.93 L360.52,432.96 L361.11,433.94" fill="none" stroke="#3a3a3a" stroke-width="1.0"/>
<text x="402.75" y="251.20" font-size="13" font-weight="bold" text-anchor="middle" fill="#000" >CD25</text>
<path d="M379.00,255.00H426.50V298.50" fill="none" stroke="#d2d2d2" stroke-width="1"/>
<path d="M379.00,298.50H426.50" fill="none" stroke="#b8b8b8" stroke-width="1"/>
<path d="M379.00,255.00V298.50" fill="none" stroke="#a0a0a0" stroke-width="1"/>
<path d="M379.00,297.90 L379.00,284.13 L379.59,279.07 L380.19,276.71 L380.78,272.16 L381.38,267.99 L381.97,264.82 L382.56,256.38 L383.16,256.00 L383.75,259.63 L384.34,257.23 L384.94,262.65 L385.53,263.53 L386.12,264.56 L386.72,267.59 L387.31,272.58 L387.91,279.66 L388.50,281.86 L389.09,286.86 L389.69,289.82 L390.28,291.10 L390.88,292.98 L391.47,294.80 L392.06,296.20 L392.66,296.35 L393.25,297.21 L393.84,297.49" fill="none" stroke="#a2a2a2" stroke-width="0.9"/>
<path d="M379.00,297.90 L379.00,272.28 L379.59,296.70 L380.19,297.90 M383.75,297.44 L384.34,296.94 L384.94,295.93 L385.53,294.72 L386.12,291.94 L386.72,289.61 L387.31,284.95 L387.91,279.10 L388.50,271.98 L389.09,266.38 L389.69,262.39 L390.28,258.88 L390.88,257.27 L391.47,257.63 L392.06,262.07 L392.66,268.71 L393.25,275.38 L393.84,282.23 L394.44,287.24 L395.03,291.22 L395.62,294.17 L396.22,296.05 L396.81,297.10 L397.41,297.51" fill="none" stroke="#3a3a3a" stroke-width="1.0"/>
<path d="M379.00,300.50H426.50V344.00" fill="none" stroke="#d2d2d2" stroke-width="1"/>
<path d="M379.00,344.00H426.50" fill="none" stroke="#b8b8b8" stroke-width="1"/>
<path d="M379.00,300.50V344.00" fill="none" stroke="#a0a0a0" stroke-width="1"/>
<path d="M379.00,343.40 L379.00,317.47 L379.59,312.48 L380.19,314.64 L380.78,313.19 L381.38,305.17 L381.97,305.48 L382.56,302.42 L383.16,301.50 L383.75,306.30 L384.34,305.07 L384.94,304.27 L385.53,303.79 L386.12,306.99 L386.72,311.57 L387.31,313.89 L387.91,315.96 L388.50,323.98 L389.09,327.39 L389.69,328.03 L390.28,332.57 L390.88,333.16 L391.47,334.53 L392.06,337.31 L392.66,339.74 L393.25,339.44 L393.84,340.98 L394.44,340.79 L395.03,342.68 L395.62,343.06 L396.22,342.82 L396.81,343.01" fill="none" stroke="#a2a2a2" stroke-width="0.9"/>
<path d="M379.00,344.00 L379.00,343.40 L379.00,343.40 L379.59,343.40 L380.19,343.40 L380.78,343.40 L381.38,343.40 L381.97,343.40 L382.56,343.40 L383.16,343.40 L383.75,343.40 L384.34,343.40 L384.94,343.40 L385.53,343.40 L386.12,343.40 L386.72,343.40 L387.31,343.40 L387.91,343.40 L388.50,343.40 L389.09,343.40 L389.69,343.40 L390.28,343.40 L390.88,343.40 L391.47,343.40 L392.06,343.40 L392.66,343.40 L393.25,343.40 L393.84,343.40 L394.44,343.40 L395.03,343.40 L395.62,343.40 L396.22,343.40 L396.81,343.40 L397.41,343.40 L398.00,343.40 L398.59,343.39 L399.19,343.38 L399.78,343.35 L400.38,343.27 L400.97,343.11 L401.56,342.78 L402.16,342.12 L402.75,340.90 L403.34,339.11 L403.94,336.23 L404.53,333.06 L405.12,327.33 L405.72,322.73 L406.31,316.41 L406.91,310.37 L407.50,304.61 L408.09,303.23 L408.69,302.45 L409.28,305.25 L409.88,309.23 L410.47,315.29 L411.06,320.47 L411.66,326.40 L412.25,331.70 L412.84,336.31 L413.44,338.96 L414.03,340.92 L414.62,341.96 L415.22,342.69 L415.81,343.06 L416.41,343.25 L417.00,343.34 L417.59,343.38 L418.19,343.39 L418.78,343.40 L419.38,343.40 L419.97,343.40 L420.56,343.40 L421.16,343.40 L421.75,343.40 L422.34,343.40 L422.94,343.40 L423.53,343.40 L424.12,343.40 L424.72,343.40 L425.31,343.40 L425.91,343.40 L426.50,343.40 L426.50,343.40 L426.50,344.00 Z" fill="#c4c4c4" stroke="none"/>
<path d="M400.97,343.11 L401.56,342.78 L402.16,342.12 L402.75,340.90 L403.34,339.11 L403.94,336.23 L404.53,333.06 L405.12,327.33 L405.72,322.73 L406.31,316.41 L406.91,310.37 L407.50,304.61 L408.09,303.23 L408.69,302.45 L409.28,305.25 L409.88,309.23 L410.47,315.29 L411.06,320.47 L411.66,326.40 L412.25,331.70 L412.84,336.31 L413.44,338.96 L414.03,340.92 L414.62,341.96 L415.22,342.69 L415.81,343.06" fill="none" stroke="#262626" stroke-width="0.9"/>
<path d="M380.78,342.98 L381.38,342.79 L381.97,342.70 L382.56,342.30 L383.16,341.97 L383.75,340.78 L384.34,340.52 L384.94,339.55 L385.53,337.82 L386.12,336.42 L386.72,334.57 L387.31,333.33 L387.91,330.14 L388.50,328.27 L389.09,325.29 L389.69,322.41 L390.28,319.90 L390.88,316.37 L391.47,313.98 L392.06,308.75 L392.66,308.84 L393.25,306.92 L393.84,303.62 L394.44,302.29 L395.03,302.36 L395.62,303.44 L396.22,304.48 L396.81,306.79 L397.41,311.71 L398.00,314.95 L398.59,319.98 L399.19,324.01 L399.78,328.33 L400.38,332.33 L400.97,334.14 L401.56,337.22 L402.16,338.71 L402.75,340.69 L403.34,341.55 L403.94,342.19 L404.53,342.63 L405.12,342.94" fill="none" stroke="#3a3a3a" stroke-width="1.0"/>
<path d="M379.00,346.00H426.50V389.50" fill="none" stroke="#d2d2d2" stroke-width="1"/>
<path d="M379.00,389.50H426.50" fill="none" stroke="#b8b8b8" stroke-width="1"/>
<path d="M379.00,346.00V389.50" fill="none" stroke="#a0a0a0" stroke-width="1"/>
<path d="M379.00,388.90 L379.00,386.62 L379.59,385.17 L380.19,383.53 L380.78,379.67 L381.38,374.81 L381.97,364.83 L382.56,361.41 L383.16,354.04 L383.75,351.26 L384.34,347.00 L384.94,347.06 L385.53,353.05 L386.12,350.26 L386.72,359.72 L387.31,360.36 L387.91,369.41 L388.50,371.73 L389.09,374.39 L389.69,381.11 L390.28,384.39 L390.88,385.50 L391.47,386.34 L392.06,386.77 L392.66,388.06 L393.25,388.44" fill="none" stroke="#a2a2a2" stroke-width="0.9"/>
<path d="M379.00,389.50 L379.00,388.90 L379.00,388.90 L379.59,388.90 L380.19,388.90 L380.78,388.90 L381.38,388.90 L381.97,388.90 L382.56,388.90 L383.16,388.90 L383.75,388.90 L384.34,388.90 L384.94,388.90 L385.53,388.90 L386.12,388.90 L386.72,388.90 L387.31,388.90 L387.91,388.90 L388.50,388.90 L389.09,388.90 L389.69,388.90 L390.28,388.90 L390.88,388.90 L391.47,388.90 L392.06,388.90 L392.66,388.90 L393.25,388.90 L393.84,388.90 L394.44,388.90 L395.03,388.90 L395.62,388.90 L396.22,388.90 L396.81,388.90 L397.41,388.90 L398.00,388.90 L398.59,388.90 L399.19,388.90 L399.78,388.89 L400.38,388.87 L400.97,388.82 L401.56,388.72 L402.16,388.51 L402.75,388.08 L403.34,387.37 L403.94,386.03 L404.53,383.68 L405.12,380.44 L405.72,376.72 L406.31,370.83 L406.91,365.26 L407.50,358.30 L408.09,353.28 L408.69,350.60 L409.28,347.00 L409.88,349.67 L410.47,353.32 L411.06,358.85 L411.66,365.70 L412.25,371.62 L412.84,377.66 L413.44,382.33 L414.03,384.95 L414.62,386.78 L415.22,387.78 L415.81,388.44 L416.41,388.71 L417.00,388.83 L417.59,388.87 L418.19,388.89 L418.78,388.90 L419.38,388.90 L419.97,388.90 L420.56,388.90 L421.16,388.90 L421.75,388.90 L422.34,388.90 L422.94,388.90 L423.53,388.90 L424.12,388.90 L424.72,388.90 L425.31,388.90 L425.91,388.90 L426.50,388.90 L426.50,388.90 L426.50,389.50 Z" fill="#c4c4c4" stroke="none"/>
<path d="M402.16,388.51 L402.75,388.08 L403.34,387.37 L403.94,386.03 L404.53,383.68 L405.12,380.44 L405.72,376.72 L406.31,370.83 L406.91,365.26 L407.50,358.30 L408.09,353.28 L408.69,350.60 L409.28,347.00 L409.88,349.67 L410.47,353.32 L411.06,358.85 L411.66,365.70 L412.25,371.62 L412.84,377.66 L413.44,382.33 L414.03,384.95 L414.62,386.78 L415.22,387.78 L415.81,388.44" fill="none" stroke="#262626" stroke-width="0.9"/>
<path d="M388.50,388.44 L389.09,387.91 L389.69,386.93 L390.28,385.21 L390.88,383.17 L391.47,380.51 L392.06,375.01 L392.66,370.37 L393.25,365.18 L393.84,357.43 L394.44,353.43 L395.03,349.64 L395.62,349.34 L396.22,349.77 L396.81,352.32 L397.41,360.03 L398.00,367.78 L398.59,374.20 L399.19,379.09 L399.78,382.60 L400.38,385.63 L400.97,387.04 L401.56,387.92 L402.16,388.51" fill="none" stroke="#3a3a3a" stroke-width="1.0"/>
<path d="M379.00,391.50H426.50V435.00" fill="none" stroke="#d2d2d2" stroke-width="1"/>
<path d="M379.00,435.00H426.50" fill="none" stroke="#b8b8b8" stroke-width="1"/>
<path d="M379.00,391.50V435.00" fill="none" stroke="#a0a0a0" stroke-width="1"/>
<path d="M379.00,434.40 L379.00,414.09 L379.59,408.80 L380.19,410.10 L380.78,403.88 L381.38,398.82 L381.97,396.45 L382.56,397.75 L383.16,395.53 L383.75,392.56 L384.34,392.50 L384.94,396.72 L385.53,397.74 L386.12,394.53 L386.72,397.29 L387.31,404.01 L387.91,407.81 L388.50,406.37 L389.09,413.44 L389.69,419.61 L390.28,422.06 L390.88,425.06 L391.47,427.05 L392.06,427.10 L392.66,430.76 L393.25,431.73 L393.84,431.62 L394.44,432.38 L395.03,433.61 L395.62,433.74 L396.22,433.98" fill="none" stroke="#a2a2a2" stroke-width="0.9"/>
<path d="M379.00,435.00 L379.00,434.40 L379.00,434.40 L379.59,434.40 L380.19,434.40 L380.78,434.40 L381.38,434.40 L381.97,434.40 L382.56,434.40 L383.16,434.40 L383.75,434.40 L384.34,434.40 L384.94,434.40 L385.53,434.40 L386.12,434.40 L386.72,434.40 L387.31,434.40 L387.91,434.40 L388.50,434.40 L389.09,434.40 L389.69,434.40 L390.28,434.40 L390.88,434.40 L391.47,434.40 L392.06,434.40 L392.66,434.40 L393.25,434.40 L393.84,434.40 L394.44,434.40 L395.03,434.40 L395.62,434.40 L396.22,434.40 L396.81,434.40 L397.41,434.40 L398.00,434.40 L398.59,434.40 L399.19,434.39 L399.78,434.37 L400.38,434.33 L400.97,434.21 L401.56,433.94 L402.16,433.45 L402.75,432.19 L403.34,430.35 L403.94,427.33 L404.53,422.84 L405.12,417.93 L405.72,410.46 L406.31,404.35 L406.91,397.58 L407.50,393.51 L408.09,392.98 L408.69,395.86 L409.28,398.17 L409.88,404.87 L410.47,411.24 L411.06,416.67 L411.66,421.53 L412.25,425.92 L412.84,429.01 L413.44,431.63 L414.03,432.64 L414.62,433.57 L415.22,433.97 L415.81,434.10 L416.41,434.01 L417.00,433.69 L417.59,433.14 L418.19,432.62 L418.78,431.74 L419.38,431.46 L419.97,431.98 L420.56,432.58 L421.16,433.23 L421.75,433.72 L422.34,434.09 L422.94,434.28 L423.53,434.36 L424.12,434.39 L424.72,434.40 L425.31,434.40 L425.91,434.40 L426.50,434.40 L426.50,434.40 L426.50,435.00 Z" fill="#c4c4c4" stroke="none"/>
<path d="M401.56,433.94 L402.16,433.45 L402.75,432.19 L403.34,430.35 L403.94,427.33 L404.53,422.84 L405.12,417.93 L405.72,410.46 L406.31,404.35 L406.91,397.58 L407.50,393.51 L408.09,392.98 L408.69,395.86 L409.28,398.17 L409.88,404.87 L410.47,411.24 L411.06,416.67 L411.66,421.53 L412.25,425.92 L412.84,429.01 L413.44,431.63 L414.03,432.64 L414.62,433.57 L415.22,433.97 M416.41,434.01 L417.00,433.69 L417.59,433.14 L418.19,432.62 L418.78,431.74 L419.38,431.46 L419.97,431.98 L420.56,432.58 L421.16,433.23 L421.75,433.72 L422.34,434.09" fill="none" stroke="#262626" stroke-width="0.9"/>
<path d="M392.06,434.09 L392.66,433.61 L393.25,432.85 L393.84,430.26 L394.44,427.18 L395.03,421.77 L395.62,415.43 L396.22,408.74 L396.81,400.71 L397.41,395.48 L398.00,394.53 L398.59,396.35 L399.19,399.23 L399.78,407.07 L400.38,414.90 L400.97,422.96 L401.56,427.80 L402.16,430.49 L402.75,432.31 L403.34,433.61 L403.94,434.09" fill="none" stroke="#3a3a3a" stroke-width="1.0"/>
<text x="457.65" y="251.20" font-size="13" font-weight="bold" text-anchor="middle" fill="#000" >CD83</text>
<path d="M433.90,255.00H481.40V298.50" fill="none" stroke="#d2d2d2" stroke-width="1"/>
<path d="M433.90,298.50H481.40" fill="none" stroke="#b8b8b8" stroke-width="1"/>
<path d="M433.90,255.00V298.50" fill="none" stroke="#a0a0a0" stroke-width="1"/>
<path d="M433.90,297.90 L433.90,280.55 L434.49,278.39 L435.09,275.89 L435.68,272.84 L436.27,266.61 L436.87,260.02 L437.46,257.58 L438.06,261.00 L438.65,258.27 L439.24,256.00 L439.84,256.00 L440.43,257.29 L441.02,267.34 L441.62,269.54 L442.21,273.78 L442.81,279.38 L443.40,286.68 L443.99,289.37 L444.59,290.64 L445.18,293.41 L445.77,295.57 L446.37,296.46 L446.96,296.84 L447.56,297.38 L448.15,297.63" fill="none" stroke="#a2a2a2" stroke-width="0.9"/>
<path d="M433.90,297.90 L433.90,262.18 L434.49,295.92 L435.09,297.79 L435.68,297.63 L436.27,297.26 L436.87,296.60 L437.46,295.46 L438.06,293.01 L438.65,289.99 L439.24,283.99 L439.84,277.23 L440.43,271.96 L441.02,263.93 L441.62,259.75 L442.21,257.96 L442.81,257.49 L443.40,260.58 L443.99,268.89 L444.59,276.80 L445.18,283.35 L445.77,289.59 L446.37,292.74 L446.96,295.64 L447.56,296.73 L448.15,297.44" fill="none" stroke="#3a3a3a" stroke-width="1.0"/>
<path d="M433.90,300.50H481.40V344.00" fill="none" stroke="#d2d2d2" stroke-width="1"/>
<path d="M433.90,344.00H481.40" fill="none" stroke="#b8b8b8" stroke-width="1"/>
<path d="M433.90,300.50V344.00" fill="none" stroke="#a0a0a0" stroke-width="1"/>
<path d="M433.90,343.40 L433.90,329.06 L434.49,321.53 L435.09,317.00 L435.68,312.21 L436.27,304.58 L436.87,301.50 L437.46,303.51 L438.06,302.93 L438.65,306.17 L439.24,306.47 L439.84,310.06 L440.43,315.64 L441.02,318.36 L441.62,323.65 L442.21,324.92 L442.81,330.92 L443.40,333.92 L443.99,333.27 L444.59,337.40 L445.18,339.89 L445.77,339.42 L446.37,341.29 L446.96,341.23 L447.56,342.92 L448.15,342.74 L448.74,342.98" fill="none" stroke="#a2a2a2" stroke-width="0.9"/>
<path d="M433.90,344.00 L433.90,343.40 L433.90,343.40 L434.49,343.40 L435.09,343.40 L435.68,343.40 L436.27,343.40 L436.87,343.40 L437.46,343.40 L438.06,343.40 L438.65,343.40 L439.24,343.40 L439.84,343.40 L440.43,343.40 L441.02,343.40 L441.62,343.40 L442.21,343.40 L442.81,343.40 L443.40,343.40 L443.99,343.40 L444.59,343.40 L445.18,343.40 L445.77,343.40 L446.37,343.40 L446.96,343.40 L447.56,343.39 L448.15,343.37 L448.74,343.32 L449.34,343.22 L449.93,343.01 L450.52,342.58 L451.12,341.64 L451.71,340.31 L452.31,338.53 L452.90,334.92 L453.49,331.50 L454.09,326.39 L454.68,320.07 L455.27,313.62 L455.87,308.73 L456.46,303.12 L457.06,302.23 L457.65,302.97 L458.24,307.01 L458.84,313.70 L459.43,319.20 L460.02,326.34 L460.62,332.07 L461.21,336.78 L461.81,339.49 L462.40,341.39 L462.99,342.41 L463.59,342.94 L464.18,343.21 L464.77,343.33 L465.37,343.37 L465.96,343.39 L466.56,343.40 L467.15,343.40 L467.74,343.40 L468.34,343.40 L468.93,343.40 L469.52,343.40 L470.12,343.40 L470.71,343.40 L471.31,343.40 L471.90,343.40 L472.49,343.40 L473.09,343.40 L473.68,343.40 L474.27,343.40 L474.87,343.40 L475.46,343.40 L476.06,343.40 L476.65,343.40 L477.24,343.40 L477.84,343.40 L478.43,343.40 L479.02,343.40 L479.62,343.40 L480.21,343.40 L480.81,343.40 L481.40,343.40 L481.40,343.40 L481.40,344.00 Z" fill="#c4c4c4" stroke="none"/>
<path d="M449.93,343.01 L450.52,342.58 L451.12,341.64 L451.71,340.31 L452.31,338.53 L452.90,334.92 L453.49,331.50 L454.09,326.39 L454.68,320.07 L455.27,313.62 L455.87,308.73 L456.46,303.12 L457.06,302.23 L457.65,302.97 L458.24,307.01 L458.84,313.70 L459.43,319.20 L460.02,326.34 L460.62,332.07 L461.21,336.78 L461.81,339.49 L462.40,341.39 L462.99,342.41 L463.59,342.94" fill="none" stroke="#262626" stroke-width="0.9"/>
<path d="M436.87,343.06 L437.46,342.85 L438.06,342.52 L438.65,341.86 L439.24,341.62 L439.84,340.56 L440.43,338.94 L441.02,338.18 L441.62,336.28 L442.21,334.23 L442.81,330.01 L443.40,326.49 L443.99,322.83 L444.59,319.07 L445.18,317.30 L445.77,313.57 L446.37,307.86 L446.96,306.01 L447.56,303.72 L448.15,301.81 L448.74,301.50 L449.34,302.57 L449.93,306.90 L450.52,309.01 L451.12,313.72 L451.71,315.55 L452.31,320.90 L452.90,326.27 L453.49,329.91 L454.09,333.43 L454.68,335.58 L455.27,337.63 L455.87,339.21 L456.46,340.54 L457.06,341.89 L457.65,342.55 L458.24,342.77 L458.84,343.03" fill="none" stroke="#3a3a3a" stroke-width="1.0"/>
<path d="M433.90,346.00H481.40V389.50" fill="none" stroke="#d2d2d2" stroke-width="1"/>
<path d="M433.90,389.50H481.40" fill="none" stroke="#b8b8b8" stroke-width="1"/>
<path d="M433.90,346.00V389.50" fill="none" stroke="#a0a0a0" stroke-width="1"/>
<path d="M433.90,388.90 L433.90,359.08 L434.49,358.85 L435.09,353.01 L435.68,350.46 L436.27,351.32 L436.87,347.00 L437.46,347.00 L438.06,347.00 L438.65,352.52 L439.24,351.88 L439.84,349.67 L440.43,358.90 L441.02,357.45 L441.62,360.36 L442.21,363.82 L442.81,368.51 L443.40,372.38 L443.99,373.34 L444.59,377.19 L445.18,380.50 L445.77,382.89 L446.37,384.74 L446.96,385.36 L447.56,386.20 L448.15,387.65 L448.74,387.12 L449.34,387.88 L449.93,388.21 L450.52,388.44" fill="none" stroke="#a2a2a2" stroke-width="0.9"/>
<path d="M433.90,389.50 L433.90,388.90 L433.90,388.90 L434.49,388.90 L435.09,388.90 L435.68,388.90 L436.27,388.90 L436.87,388.90 L437.46,388.90 L438.06,388.90 L438.65,388.90 L439.24,388.90 L439.84,388.90 L440.43,388.90 L441.02,388.90 L441.62,388.90 L442.21,388.90 L442.81,388.90 L443.40,388.90 L443.99,388.90 L444.59,388.90 L445.18,388.90 L445.77,388.90 L446.37,388.90 L446.96,388.90 L447.56,388.90 L448.15,388.90 L448.74,388.90 L449.34,388.90 L449.93,388.90 L450.52,388.90 L451.12,388.90 L451.71,388.90 L452.31,388.89 L452.90,388.86 L453.49,388.79 L454.09,388.59 L454.68,388.11 L455.27,387.09 L455.87,384.99 L456.46,381.73 L457.06,377.07 L457.65,370.56 L458.24,362.24 L458.84,355.02 L459.43,349.07 L460.02,348.56 L460.62,350.53 L461.21,355.81 L461.81,362.91 L462.40,369.55 L462.99,376.76 L463.59,381.90 L464.18,385.20 L464.77,387.16 L465.37,388.11 L465.96,388.59 L466.56,388.79 L467.15,388.86 L467.74,388.89 L468.34,388.90 L468.93,388.90 L469.52,388.90 L470.12,388.90 L470.71,388.90 L471.31,388.90 L471.90,388.90 L472.49,388.90 L473.09,388.90 L473.68,388.90 L474.27,388.90 L474.87,388.90 L475.46,388.90 L476.06,388.90 L476.65,388.90 L477.24,388.90 L477.84,388.90 L478.43,388.90 L479.02,388.90 L479.62,388.90 L480.21,388.90 L480.81,388.90 L481.40,388.90 L481.40,388.90 L481.40,389.50 Z" fill="#c4c4c4" stroke="none"/>
<path d="M454.09,388.59 L454.68,388.11 L455.27,387.09 L455.87,384.99 L456.46,381.73 L457.06,377.07 L457.65,370.56 L458.24,362.24 L458.84,355.02 L459.43,349.07 L460.02,348.56 L460.62,350.53 L461.21,355.81 L461.81,362.91 L462.40,369.55 L462.99,376.76 L463.59,381.90 L464.18,385.20 L464.77,387.16 L465.37,388.11 L465.96,388.59" fill="none" stroke="#262626" stroke-width="0.9"/>
<path d="M445.77,388.44 L446.37,387.71 L446.96,386.21 L447.56,384.53 L448.15,380.31 L448.74,373.82 L449.34,367.56 L449.93,357.83 L450.52,351.50 L451.12,347.15 L451.71,348.23 L452.31,350.19 L452.90,357.97 L453.49,364.81 L454.09,372.14 L454.68,378.65 L455.27,383.65 L455.87,385.84 L456.46,387.78 L457.06,388.35 L457.65,388.69" fill="none" stroke="#3a3a3a" stroke-width="1.0"/>
<path d="M433.90,391.50H481.40V435.00" fill="none" stroke="#d2d2d2" stroke-width="1"/>
<path d="M433.90,435.00H481.40" fill="none" stroke="#b8b8b8" stroke-width="1"/>
<path d="M433.90,391.50V435.00" fill="none" stroke="#a0a0a0" stroke-width="1"/>
<path d="M433.90,434.40 L433.90,428.92 L434.49,426.34 L435.09,426.16 L435.68,420.36 L436.27,419.35 L436.87,416.70 L437.46,408.39 L438.06,406.57 L438.65,405.12 L439.24,399.82 L439.84,399.14 L440.43,398.35 L441.02,396.84 L441.62,396.80 L442.21,398.19 L442.81,393.68 L443.40,400.94 L443.99,405.96 L444.59,413.99 L445.18,415.19 L445.77,419.04 L446.37,425.25 L446.96,429.39 L447.56,429.29 L448.15,432.28 L448.74,432.96 L449.34,433.21 L449.93,433.88 L450.52,434.13" fill="none" stroke="#a2a2a2" stroke-width="0.9"/>
<path d="M433.90,435.00 L433.90,434.40 L433.90,434.40 L434.49,434.40 L435.09,434.40 L435.68,434.40 L436.27,434.40 L436.87,434.40 L437.46,434.40 L438.06,434.40 L438.65,434.40 L439.24,434.40 L439.84,434.40 L440.43,434.40 L441.02,434.40 L441.62,434.40 L442.21,434.40 L442.81,434.40 L443.40,434.40 L443.99,434.40 L444.59,434.40 L445.18,434.40 L445.77,434.40 L446.37,434.40 L446.96,434.40 L447.56,434.40 L448.15,434.40 L448.74,434.40 L449.34,434.40 L449.93,434.40 L450.52,434.40 L451.12,434.40 L451.71,434.40 L452.31,434.39 L452.90,434.36 L453.49,434.29 L454.09,434.09 L454.68,433.61 L455.27,432.42 L455.87,430.45 L456.46,427.70 L457.06,422.42 L457.65,415.29 L458.24,407.26 L458.84,401.29 L459.43,394.35 L460.02,394.17 L460.62,395.67 L461.21,403.34 L461.81,412.02 L462.40,419.57 L462.99,425.76 L463.59,430.08 L464.18,432.47 L464.77,433.71 L465.37,434.17 L465.96,434.33 L466.56,434.38 L467.15,434.40 L467.74,434.40 L468.34,434.40 L468.93,434.40 L469.52,434.40 L470.12,434.40 L470.71,434.40 L471.31,434.40 L471.90,434.40 L472.49,434.40 L473.09,434.40 L473.68,434.40 L474.27,434.40 L474.87,434.40 L475.46,434.40 L476.06,434.40 L476.65,434.40 L477.24,434.40 L477.84,434.40 L478.43,434.40 L479.02,434.40 L479.62,434.40 L480.21,434.40 L480.81,434.40 L481.40,434.40 L481.40,434.40 L481.40,435.00 Z" fill="#c4c4c4" stroke="none"/>
<path d="M454.09,434.09 L454.68,433.61 L455.27,432.42 L455.87,430.45 L456.46,427.70 L457.06,422.42 L457.65,415.29 L458.24,407.26 L458.84,401.29 L459.43,394.35 L460.02,394.17 L460.62,395.67 L461.21,403.34 L461.81,412.02 L462.40,419.57 L462.99,425.76 L463.59,430.08 L464.18,432.47 L464.77,433.71 L465.37,434.17" fill="none" stroke="#262626" stroke-width="0.9"/>
<path d="M449.34,434.21 L449.93,433.83 L450.52,432.99 L451.12,430.39 L451.71,427.16 L452.31,421.66 L452.90,412.69 L453.49,404.85 L454.09,396.94 L454.68,394.28 L455.27,394.23 L455.87,402.14 L456.46,410.46 L457.06,417.04 L457.65,425.62 L458.24,429.11 L458.84,432.56 L459.43,433.62 L460.02,434.11" fill="none" stroke="#3a3a3a" stroke-width="1.0"/>
<text x="487.30" y="284.60" font-size="10.7" font-weight="bold" text-anchor="start" fill="#000" >Day 0</text>
<text x="487.30" y="330.10" font-size="10.7" font-weight="bold" text-anchor="start" fill="#000" >Day 2</text>
<text x="487.30" y="375.60" font-size="10.7" font-weight="bold" text-anchor="start" fill="#000" >Day 4</text>
<text x="487.30" y="421.10" font-size="10.7" font-weight="bold" text-anchor="start" fill="#000" >Day 6</text>
<text x="75.00" y="478.80" font-size="12.7" font-weight="bold" text-anchor="middle" fill="#000" >HLA-DR</text>
<path d="M51.25,481.70H98.75V526.00" fill="none" stroke="#d2d2d2" stroke-width="1"/>
<path d="M51.25,526.00H98.75" fill="none" stroke="#b8b8b8" stroke-width="1"/>
<path d="M51.25,481.70V526.00" fill="none" stroke="#a0a0a0" stroke-width="1"/>
<path d="M51.25,525.40 L51.25,485.78 L51.84,482.70 L52.44,487.88 L53.03,485.46 L53.62,487.84 L54.22,493.74 L54.81,497.01 L55.41,502.47 L56.00,509.86 L56.59,513.45 L57.19,513.26 L57.78,516.35 L58.38,518.91 L58.97,520.34 L59.56,523.00 L60.16,523.11 L60.75,524.81 L61.34,524.76 L61.94,525.03" fill="none" stroke="#a2a2a2" stroke-width="0.9"/>
<path d="M51.25,526.00 L51.25,525.40 L51.25,525.39 L51.84,525.38 L52.44,525.37 L53.03,525.36 L53.62,525.34 L54.22,525.30 L54.81,525.25 L55.41,525.17 L56.00,525.06 L56.59,524.90 L57.19,524.68 L57.78,524.22 L58.38,523.81 L58.97,523.48 L59.56,522.97 L60.16,521.97 L60.75,520.73 L61.34,519.64 L61.94,517.86 L62.53,515.96 L63.12,513.86 L63.72,511.58 L64.31,508.27 L64.91,506.01 L65.50,502.80 L66.09,500.01 L66.69,496.40 L67.28,493.29 L67.88,489.99 L68.47,487.62 L69.06,486.58 L69.66,485.00 L70.25,483.00 L70.84,482.95 L71.44,486.38 L72.03,493.17 L72.62,500.79 L73.22,507.81 L73.81,514.22 L74.41,518.80 L75.00,522.13 L75.59,523.81 L76.19,524.73 L76.78,525.14 L77.38,525.31 L77.97,525.37 L78.56,525.39 L79.16,525.40 L79.75,525.40 L80.34,525.40 L80.94,525.40 L81.53,525.40 L82.12,525.40 L82.72,525.40 L83.31,525.40 L83.91,525.40 L84.50,525.40 L85.09,525.40 L85.69,525.40 L86.28,525.40 L86.88,525.40 L87.47,525.40 L88.06,525.40 L88.66,525.40 L89.25,525.40 L89.84,525.40 L90.44,525.40 L91.03,525.40 L91.62,525.40 L92.22,525.40 L92.81,525.40 L93.41,525.40 L94.00,525.40 L94.59,525.40 L95.19,525.40 L95.78,525.40 L96.38,525.40 L96.97,525.40 L97.56,525.40 L98.16,525.40 L98.75,525.40 L98.75,525.40 L98.75,526.00 Z" fill="#c4c4c4" stroke="none"/>
<path d="M56.59,524.90 L57.19,524.68 L57.78,524.22 L58.38,523.81 L58.97,523.48 L59.56,522.97 L60.16,521.97 L60.75,520.73 L61.34,519.64 L61.94,517.86 L62.53,515.96 L63.12,513.86 L63.72,511.58 L64.31,508.27 L64.91,506.01 L65.50,502.80 L66.09,500.01 L66.69,496.40 L67.28,493.29 L67.88,489.99 L68.47,487.62 L69.06,486.58 L69.66,485.00 L70.25,483.00 L70.84,482.95 L71.44,486.38 L72.03,493.17 L72.62,500.79 L73.22,507.81 L73.81,514.22 L74.41,518.80 L75.00,522.13 L75.59,523.81 L76.19,524.73 L76.78,525.14" fill="none" stroke="#262626" stroke-width="0.9"/>
<path d="M67.28,525.00 L67.88,524.57 L68.47,523.45 L69.06,522.27 L69.66,520.61 L70.25,517.11 L70.84,512.94 L71.44,506.53 L72.03,500.78 L72.62,493.69 L73.22,489.04 L73.81,486.02 L74.41,483.42 L75.00,483.79 L75.59,490.13 L76.19,495.76 L76.78,505.36 L77.38,511.90 L77.97,517.84 L78.56,521.40 L79.16,523.16 L79.75,524.54 L80.34,525.01" fill="none" stroke="#3a3a3a" stroke-width="1.0"/>
<text x="129.75" y="478.80" font-size="12.7" font-weight="bold" text-anchor="middle" fill="#000" >CD80</text>
<path d="M106.00,481.70H153.50V526.00" fill="none" stroke="#d2d2d2" stroke-width="1"/>
<path d="M106.00,526.00H153.50" fill="none" stroke="#b8b8b8" stroke-width="1"/>
<path d="M106.00,481.70V526.00" fill="none" stroke="#a0a0a0" stroke-width="1"/>
<path d="M106.00,525.40 L106.00,520.52 L106.59,516.83 L107.19,514.78 L107.78,509.29 L108.38,500.29 L108.97,499.63 L109.56,489.39 L110.16,483.48 L110.75,482.70 L111.34,485.54 L111.94,488.60 L112.53,489.37 L113.12,498.95 L113.72,505.75 L114.31,507.90 L114.91,515.85 L115.50,519.31 L116.09,520.22 L116.69,523.09 L117.28,523.76 L117.88,524.77 L118.47,525.11" fill="none" stroke="#a2a2a2" stroke-width="0.9"/>
<path d="M106.00,526.00 L106.00,525.40 L106.00,525.40 L106.59,525.40 L107.19,525.40 L107.78,525.40 L108.38,525.40 L108.97,525.40 L109.56,525.40 L110.16,525.40 L110.75,525.40 L111.34,525.40 L111.94,525.40 L112.53,525.40 L113.12,525.40 L113.72,525.40 L114.31,525.40 L114.91,525.40 L115.50,525.40 L116.09,525.40 L116.69,525.40 L117.28,525.40 L117.88,525.40 L118.47,525.40 L119.06,525.40 L119.66,525.40 L120.25,525.40 L120.84,525.40 L121.44,525.40 L122.03,525.40 L122.62,525.40 L123.22,525.39 L123.81,525.37 L124.41,525.32 L125.00,525.20 L125.59,524.92 L126.19,524.37 L126.78,523.10 L127.38,521.16 L127.97,518.14 L128.56,514.06 L129.16,508.44 L129.75,501.73 L130.34,493.89 L130.94,487.27 L131.53,483.68 L132.12,482.88 L132.72,487.82 L133.31,494.57 L133.91,503.67 L134.50,512.21 L135.09,518.31 L135.69,522.15 L136.28,523.97 L136.88,524.85 L137.47,525.22 L138.06,525.35 L138.66,525.39 L139.25,525.40 L139.84,525.40 L140.44,525.40 L141.03,525.40 L141.62,525.40 L142.22,525.40 L142.81,525.40 L143.41,525.40 L144.00,525.40 L144.59,525.40 L145.19,525.40 L145.78,525.40 L146.38,525.40 L146.97,525.40 L147.56,525.40 L148.16,525.40 L148.75,525.40 L149.34,525.40 L149.94,525.40 L150.53,525.40 L151.12,525.40 L151.72,525.40 L152.31,525.40 L152.91,525.40 L153.50,525.40 L153.50,525.40 L153.50,526.00 Z" fill="#c4c4c4" stroke="none"/>
<path d="M125.59,524.92 L126.19,524.37 L126.78,523.10 L127.38,521.16 L127.97,518.14 L128.56,514.06 L129.16,508.44 L129.75,501.73 L130.34,493.89 L130.94,487.27 L131.53,483.68 L132.12,482.88 L132.72,487.82 L133.31,494.57 L133.91,503.67 L134.50,512.21 L135.09,518.31 L135.69,522.15 L136.28,523.97 L136.88,524.85 L137.47,525.22" fill="none" stroke="#262626" stroke-width="0.9"/>
<path d="M106.00,526.00 L106.00,525.40 L106.00,525.40 L106.59,525.40 L107.19,525.40 L107.78,525.40 L108.38,525.40 L108.97,525.40 L109.56,525.40 L110.16,525.40 L110.75,525.40 L111.34,525.40 L111.94,525.40 L112.53,525.40 L113.12,525.40 L113.72,525.40 L114.31,525.40 L114.91,525.40 L115.50,525.40 L116.09,525.40 L116.69,525.40 L117.28,525.40 L117.88,525.40 L118.47,525.40 L119.06,525.40 L119.66,525.40 L120.25,525.40 L120.84,525.40 L121.44,525.40 L122.03,525.40 L122.62,525.40 L123.22,525.40 L123.81,525.40 L124.41,525.40 L125.00,525.40 L125.59,525.40 L126.19,525.40 L126.78,525.40 L127.38,525.40 L127.97,525.40 L128.56,525.40 L129.16,525.40 L129.75,525.40 L130.34,525.40 L130.94,525.39 L131.53,525.37 L132.12,525.31 L132.72,525.20 L133.31,524.96 L133.91,524.65 L134.50,523.46 L135.09,521.98 L135.69,519.58 L136.28,516.54 L136.88,512.51 L137.47,506.17 L138.06,500.33 L138.66,493.51 L139.25,488.94 L139.84,484.94 L140.44,484.17 L141.03,485.29 L141.62,488.17 L142.22,492.97 L142.81,500.11 L143.41,505.08 L144.00,511.79 L144.59,516.17 L145.19,519.65 L145.78,522.20 L146.38,523.57 L146.97,524.31 L147.56,524.91 L148.16,525.17 L148.75,525.30 L149.34,525.36 L149.94,525.38 L150.53,525.39 L151.12,525.40 L151.72,525.40 L152.31,525.40 L152.91,525.40 L153.50,525.40 L153.50,525.40 L153.50,526.00 Z" fill="#c4c4c4" stroke="none"/>
<path d="M133.31,524.96 L133.91,524.65 L134.50,523.46 L135.09,521.98 L135.69,519.58 L136.28,516.54 L136.88,512.51 L137.47,506.17 L138.06,500.33 L138.66,493.51 L139.25,488.94 L139.84,484.94 L140.44,484.17 L141.03,485.29 L141.62,488.17 L142.22,492.97 L142.81,500.11 L143.41,505.08 L144.00,511.79 L144.59,516.17 L145.19,519.65 L145.78,522.20 L146.38,523.57 L146.97,524.31 L147.56,524.91" fill="none" stroke="#262626" stroke-width="0.9"/>
<path d="M132.72,524.90 L133.31,524.44 L133.91,523.39 L134.50,522.81 L135.09,520.08 L135.69,517.94 L136.28,513.47 L136.88,509.72 L137.47,504.42 L138.06,497.75 L138.66,492.86 L139.25,488.62 L139.84,484.29 L140.44,483.75 L141.03,485.66 L141.62,488.66 L142.22,492.02 L142.81,498.46 L143.41,506.44 L144.00,510.64 L144.59,515.57 L145.19,520.05 L145.78,522.32 L146.38,523.49 L146.97,524.47 L147.56,524.91" fill="none" stroke="#3a3a3a" stroke-width="1.0"/>
<text x="184.25" y="478.80" font-size="12.7" font-weight="bold" text-anchor="middle" fill="#000" >CD86</text>
<path d="M160.50,481.70H208.00V526.00" fill="none" stroke="#d2d2d2" stroke-width="1"/>
<path d="M160.50,526.00H208.00" fill="none" stroke="#b8b8b8" stroke-width="1"/>
<path d="M160.50,481.70V526.00" fill="none" stroke="#a0a0a0" stroke-width="1"/>
<path d="M160.50,525.40 L160.50,510.92 L161.09,499.27 L161.69,484.26 L162.28,483.74 L162.88,488.12 L163.47,504.17 L164.06,512.33 L164.66,518.19 L165.25,522.05 L165.84,524.74 L166.44,525.11" fill="none" stroke="#a2a2a2" stroke-width="0.9"/>
<path d="M160.50,526.00 L160.50,525.40 L160.50,525.40 L161.09,525.40 L161.69,525.40 L162.28,525.40 L162.88,525.40 L163.47,525.40 L164.06,525.40 L164.66,525.40 L165.25,525.40 L165.84,525.39 L166.44,525.39 L167.03,525.38 L167.62,525.36 L168.22,525.32 L168.81,525.25 L169.41,525.13 L170.00,524.93 L170.59,524.62 L171.19,524.01 L171.78,523.40 L172.38,522.26 L172.97,520.67 L173.56,518.95 L174.16,516.03 L174.75,512.84 L175.34,509.48 L175.94,504.91 L176.53,501.68 L177.12,496.35 L177.72,492.97 L178.31,487.70 L178.91,485.23 L179.50,484.78 L180.09,482.70 L180.69,485.33 L181.28,488.14 L181.88,492.40 L182.47,498.91 L183.06,503.85 L183.66,509.84 L184.25,514.05 L184.84,518.27 L185.44,520.07 L186.03,521.22 L186.62,520.33 L187.22,519.79 L187.81,520.25 L188.41,521.73 L189.00,523.20 L189.59,523.87 L190.19,523.80 L190.78,523.17 L191.38,522.08 L191.97,520.55 L192.56,518.64 L193.16,515.94 L193.75,513.12 L194.34,508.93 L194.94,506.60 L195.53,503.97 L196.12,502.36 L196.72,500.27 L197.31,500.32 L197.91,501.29 L198.50,503.04 L199.09,505.47 L199.69,509.33 L200.28,512.31 L200.88,514.81 L201.47,517.51 L202.06,519.69 L202.66,521.84 L203.25,522.91 L203.84,523.82 L204.44,524.60 L205.03,524.89 L205.62,525.12 L206.22,525.25 L206.81,525.33 L207.41,525.36 L208.00,525.38 L208.00,525.40 L208.00,526.00 Z" fill="#c4c4c4" stroke="none"/>
<path d="M170.00,524.93 L170.59,524.62 L171.19,524.01 L171.78,523.40 L172.38,522.26 L172.97,520.67 L173.56,518.95 L174.16,516.03 L174.75,512.84 L175.34,509.48 L175.94,504.91 L176.53,501.68 L177.12,496.35 L177.72,492.97 L178.31,487.70 L178.91,485.23 L179.50,484.78 L180.09,482.70 L180.69,485.33 L181.28,488.14 L181.88,492.40 L182.47,498.91 L183.06,503.85 L183.66,509.84 L184.25,514.05 L184.84,518.27 L185.44,520.07 L186.03,521.22 L186.62,520.33 L187.22,519.79 L187.81,520.25 L188.41,521.73 L189.00,523.20 L189.59,523.87 L190.19,523.80 L190.78,523.17 L191.38,522.08 L191.97,520.55 L192.56,518.64 L193.16,515.94 L193.75,513.12 L194.34,508.93 L194.94,506.60 L195.53,503.97 L196.12,502.36 L196.72,500.27 L197.31,500.32 L197.91,501.29 L198.50,503.04 L199.09,505.47 L199.69,509.33 L200.28,512.31 L200.88,514.81 L201.47,517.51 L202.06,519.69 L202.66,521.84 L203.25,522.91 L203.84,523.82 L204.44,524.60 L205.03,524.89" fill="none" stroke="#262626" stroke-width="0.9"/>
<path d="M188.41,524.98 L189.00,524.69 L189.59,524.46 L190.19,523.58 L190.78,522.91 L191.38,521.42 L191.97,518.91 L192.56,516.93 L193.16,514.21 L193.75,510.13 L194.34,506.23 L194.94,501.67 L195.53,495.98 L196.12,493.15 L196.72,488.28 L197.31,485.67 L197.91,482.70 L198.50,483.23 L199.09,486.08 L199.69,488.57 L200.28,491.04 L200.88,496.14 L201.47,501.33 L202.06,505.76 L202.66,510.82 L203.25,514.89 L203.84,517.91 L204.44,520.98 L205.03,522.19 L205.62,523.59 L206.22,524.42 L206.81,524.81 L207.41,525.08" fill="none" stroke="#3a3a3a" stroke-width="1.0"/>
<text x="239.55" y="478.80" font-size="12.7" font-weight="bold" text-anchor="middle" fill="#000" >IL-12</text>
<path d="M215.80,481.70H263.30V526.00" fill="none" stroke="#d2d2d2" stroke-width="1"/>
<path d="M215.80,526.00H263.30" fill="none" stroke="#b8b8b8" stroke-width="1"/>
<path d="M215.80,481.70V526.00" fill="none" stroke="#a0a0a0" stroke-width="1"/>
<path d="M215.80,525.40 L215.80,524.57 L216.39,523.63 L216.99,522.58 L217.58,520.53 L218.18,516.82 L218.77,512.10 L219.36,506.88 L219.96,499.77 L220.55,495.87 L221.14,492.52 L221.74,483.11 L222.33,482.70 L222.93,482.70 L223.52,485.93 L224.11,487.72 L224.71,494.31 L225.30,499.43 L225.89,507.20 L226.49,509.95 L227.08,515.26 L227.68,518.41 L228.27,518.70 L228.86,522.78 L229.46,523.82 L230.05,524.86 L230.64,524.73 L231.24,525.04" fill="none" stroke="#a2a2a2" stroke-width="0.9"/>
<path d="M215.80,526.00 L215.80,525.40 L215.80,525.40 L216.39,525.40 L216.99,525.40 L217.58,525.40 L218.18,525.40 L218.77,525.40 L219.36,525.40 L219.96,525.40 L220.55,525.40 L221.14,525.40 L221.74,525.40 L222.33,525.40 L222.93,525.40 L223.52,525.40 L224.11,525.40 L224.71,525.40 L225.30,525.40 L225.89,525.40 L226.49,525.40 L227.08,525.39 L227.68,525.37 L228.27,525.32 L228.86,525.22 L229.46,525.00 L230.05,524.57 L230.64,523.88 L231.24,522.19 L231.83,520.07 L232.43,517.31 L233.02,512.62 L233.61,506.99 L234.21,501.56 L234.80,494.47 L235.39,488.58 L235.99,485.59 L236.58,483.14 L237.18,484.72 L237.77,487.26 L238.36,492.89 L238.96,498.90 L239.55,504.64 L240.14,510.33 L240.74,515.26 L241.33,518.95 L241.93,521.57 L242.52,523.08 L243.11,524.23 L243.71,524.86 L244.30,525.15 L244.89,525.29 L245.49,525.36 L246.08,525.38 L246.68,525.39 L247.27,525.40 L247.86,525.40 L248.46,525.40 L249.05,525.40 L249.64,525.40 L250.24,525.40 L250.83,525.40 L251.43,525.40 L252.02,525.40 L252.61,525.40 L253.21,525.40 L253.80,525.40 L254.39,525.40 L254.99,525.40 L255.58,525.40 L256.18,525.40 L256.77,525.40 L257.36,525.40 L257.96,525.40 L258.55,525.40 L259.14,525.40 L259.74,525.40 L260.33,525.40 L260.93,525.40 L261.52,525.40 L262.11,525.40 L262.71,525.40 L263.30,525.40 L263.30,525.40 L263.30,526.00 Z" fill="#c4c4c4" stroke="none"/>
<path d="M229.46,525.00 L230.05,524.57 L230.64,523.88 L231.24,522.19 L231.83,520.07 L232.43,517.31 L233.02,512.62 L233.61,506.99 L234.21,501.56 L234.80,494.47 L235.39,488.58 L235.99,485.59 L236.58,483.14 L237.18,484.72 L237.77,487.26 L238.36,492.89 L238.96,498.90 L239.55,504.64 L240.14,510.33 L240.74,515.26 L241.33,518.95 L241.93,521.57 L242.52,523.08 L243.11,524.23 L243.71,524.86 L244.30,525.15" fill="none" stroke="#262626" stroke-width="0.9"/>
<path d="M224.11,525.03 L224.71,524.77 L225.30,524.63 L225.89,523.82 L226.49,523.79 L227.08,522.94 L227.68,522.73 L228.27,522.19 L228.86,521.79 L229.46,521.61 L230.05,520.67 L230.64,518.09 L231.24,515.39 L231.83,512.05 L232.43,508.59 L233.02,502.61 L233.61,497.42 L234.21,493.68 L234.80,487.77 L235.39,484.00 L235.99,485.24 L236.58,482.70 L237.18,487.36 L237.77,491.13 L238.36,498.07 L238.96,503.81 L239.55,510.07 L240.14,514.20 L240.74,518.02 L241.33,521.61 L241.93,523.09 L242.52,524.01 L243.11,524.77 L243.71,525.11" fill="none" stroke="#3a3a3a" stroke-width="1.0"/>
<text x="75.00" y="570.60" font-size="12.7" font-weight="bold" text-anchor="middle" fill="#000" >CD45RO</text>
<path d="M51.25,573.80H98.75V618.10" fill="none" stroke="#d2d2d2" stroke-width="1"/>
<path d="M51.25,618.10H98.75" fill="none" stroke="#b8b8b8" stroke-width="1"/>
<path d="M51.25,573.80V618.10" fill="none" stroke="#a0a0a0" stroke-width="1"/>
<path d="M51.25,617.50 L51.25,580.30 L51.84,577.50 L52.44,578.27 L53.03,581.21 L53.62,585.27 L54.22,591.85 L54.81,596.87 L55.41,600.00 L56.00,603.53 L56.59,609.49 L57.19,610.93 L57.78,613.66 L58.38,615.70 L58.97,616.52 L59.56,616.10 L60.16,616.97 L60.75,617.22" fill="none" stroke="#a2a2a2" stroke-width="0.9"/>
<path d="M51.25,618.10 L51.25,617.50 L51.25,617.46 L51.84,617.44 L52.44,617.41 L53.03,617.36 L53.62,617.29 L54.22,617.18 L54.81,617.04 L55.41,616.83 L56.00,616.69 L56.59,616.05 L57.19,615.76 L57.78,615.00 L58.38,614.02 L58.97,613.45 L59.56,611.89 L60.16,610.27 L60.75,608.52 L61.34,606.83 L61.94,603.53 L62.53,601.54 L63.12,597.79 L63.72,594.95 L64.31,591.48 L64.91,588.49 L65.50,586.75 L66.09,583.94 L66.69,580.64 L67.28,578.93 L67.88,577.18 L68.47,576.59 L69.06,575.80 L69.66,576.40 L70.25,580.05 L70.84,585.16 L71.44,591.41 L72.03,598.82 L72.62,603.67 L73.22,608.43 L73.81,611.47 L74.41,614.38 L75.00,615.69 L75.59,616.48 L76.19,617.04 L76.78,617.29 L77.38,617.41 L77.97,617.46 L78.56,617.49 L79.16,617.49 L79.75,617.50 L80.34,617.50 L80.94,617.50 L81.53,617.50 L82.12,617.50 L82.72,617.50 L83.31,617.50 L83.91,617.50 L84.50,617.50 L85.09,617.50 L85.69,617.50 L86.28,617.50 L86.88,617.50 L87.47,617.50 L88.06,617.50 L88.66,617.50 L89.25,617.50 L89.84,617.50 L90.44,617.50 L91.03,617.50 L91.62,617.50 L92.22,617.50 L92.81,617.50 L93.41,617.50 L94.00,617.50 L94.59,617.50 L95.19,617.50 L95.78,617.50 L96.38,617.50 L96.97,617.50 L97.56,617.50 L98.16,617.50 L98.75,617.50 L98.75,617.50 L98.75,618.10 Z" fill="#c4c4c4" stroke="none"/>
<path d="M54.81,617.04 L55.41,616.83 L56.00,616.69 L56.59,616.05 L57.19,615.76 L57.78,615.00 L58.38,614.02 L58.97,613.45 L59.56,611.89 L60.16,610.27 L60.75,608.52 L61.34,606.83 L61.94,603.53 L62.53,601.54 L63.12,597.79 L63.72,594.95 L64.31,591.48 L64.91,588.49 L65.50,586.75 L66.09,583.94 L66.69,580.64 L67.28,578.93 L67.88,577.18 L68.47,576.59 L69.06,575.80 L69.66,576.40 L70.25,580.05 L70.84,585.16 L71.44,591.41 L72.03,598.82 L72.62,603.67 L73.22,608.43 L73.81,611.47 L74.41,614.38 L75.00,615.69 L75.59,616.48 L76.19,617.04" fill="none" stroke="#262626" stroke-width="0.9"/>
<path d="M62.53,617.01 L63.12,616.77 L63.72,616.41 L64.31,616.17 L64.91,615.14 L65.50,614.77 L66.09,613.61 L66.69,612.02 L67.28,610.39 L67.88,608.82 L68.47,605.81 L69.06,602.45 L69.66,599.56 L70.25,595.84 L70.84,593.30 L71.44,588.89 L72.03,585.55 L72.62,582.21 L73.22,581.71 L73.81,579.09 L74.41,577.32 L75.00,576.19 L75.59,574.98 L76.19,577.41 L76.78,583.21 L77.38,588.87 L77.97,594.41 L78.56,600.68 L79.16,606.65 L79.75,610.45 L80.34,612.77 L80.94,614.93 L81.53,615.98 L82.12,616.84 L82.72,617.19" fill="none" stroke="#3a3a3a" stroke-width="1.0"/>
<text x="129.25" y="570.60" font-size="12.7" font-weight="bold" text-anchor="middle" fill="#000" >CD11b</text>
<path d="M105.50,573.80H153.00V618.10" fill="none" stroke="#d2d2d2" stroke-width="1"/>
<path d="M105.50,618.10H153.00" fill="none" stroke="#b8b8b8" stroke-width="1"/>
<path d="M105.50,573.80V618.10" fill="none" stroke="#a0a0a0" stroke-width="1"/>
<path d="M105.50,617.50 L105.50,591.55 L106.09,586.11 L106.69,582.22 L107.28,581.64 L107.88,575.53 L108.47,579.26 L109.06,575.36 L109.66,576.00 L110.25,579.05 L110.84,580.25 L111.44,578.01 L112.03,583.43 L112.62,585.62 L113.22,588.46 L113.81,593.99 L114.41,594.13 L115.00,597.74 L115.59,602.09 L116.19,606.85 L116.78,608.44 L117.38,610.84 L117.97,611.73 L118.56,614.38 L119.16,614.79 L119.75,614.95 L120.34,616.35 L120.94,616.61 L121.53,616.80 L122.12,617.03" fill="none" stroke="#a2a2a2" stroke-width="0.9"/>
<path d="M105.50,618.10 L105.50,617.50 L105.50,617.50 L106.09,617.50 L106.69,617.50 L107.28,617.50 L107.88,617.50 L108.47,617.50 L109.06,617.50 L109.66,617.50 L110.25,617.50 L110.84,617.50 L111.44,617.50 L112.03,617.50 L112.62,617.50 L113.22,617.50 L113.81,617.50 L114.41,617.50 L115.00,617.50 L115.59,617.50 L116.19,617.50 L116.78,617.50 L117.38,617.50 L117.97,617.50 L118.56,617.50 L119.16,617.50 L119.75,617.49 L120.34,617.48 L120.94,617.46 L121.53,617.42 L122.12,617.34 L122.72,617.18 L123.31,616.91 L123.91,616.60 L124.50,615.57 L125.09,614.33 L125.69,612.69 L126.28,610.52 L126.88,606.84 L127.47,603.14 L128.06,598.07 L128.66,592.74 L129.25,588.22 L129.84,582.35 L130.44,579.01 L131.03,575.55 L131.62,575.46 L132.22,575.82 L132.81,579.96 L133.41,585.07 L134.00,590.61 L134.59,594.90 L135.19,600.54 L135.78,605.77 L136.38,609.47 L136.97,611.79 L137.56,613.32 L138.16,614.23 L138.75,613.23 L139.34,611.24 L139.94,608.46 L140.53,604.49 L141.12,600.06 L141.72,596.01 L142.31,594.68 L142.91,594.49 L143.50,597.10 L144.09,601.32 L144.69,605.01 L145.28,608.91 L145.88,612.56 L146.47,614.84 L147.06,616.06 L147.66,616.88 L148.25,617.24 L148.84,617.40 L149.44,617.47 L150.03,617.49 L150.62,617.50 L151.22,617.50 L151.81,617.50 L152.41,617.50 L153.00,617.50 L153.00,617.50 L153.00,618.10 Z" fill="#c4c4c4" stroke="none"/>
<path d="M122.72,617.18 L123.31,616.91 L123.91,616.60 L124.50,615.57 L125.09,614.33 L125.69,612.69 L126.28,610.52 L126.88,606.84 L127.47,603.14 L128.06,598.07 L128.66,592.74 L129.25,588.22 L129.84,582.35 L130.44,579.01 L131.03,575.55 L131.62,575.46 L132.22,575.82 L132.81,579.96 L133.41,585.07 L134.00,590.61 L134.59,594.90 L135.19,600.54 L135.78,605.77 L136.38,609.47 L136.97,611.79 L137.56,613.32 L138.16,614.23 L138.75,613.23 L139.34,611.24 L139.94,608.46 L140.53,604.49 L141.12,600.06 L141.72,596.01 L142.31,594.68 L142.91,594.49 L143.50,597.10 L144.09,601.32 L144.69,605.01 L145.28,608.91 L145.88,612.56 L146.47,614.84 L147.06,616.06 L147.66,616.88 L148.25,617.24" fill="none" stroke="#262626" stroke-width="0.9"/>
<path d="M135.78,617.22 L136.38,616.85 L136.97,615.86 L137.56,614.30 L138.16,611.89 L138.75,609.24 L139.34,604.49 L139.94,597.36 L140.53,591.74 L141.12,585.16 L141.72,579.13 L142.31,577.01 L142.91,574.90 L143.50,582.50 L144.09,589.49 L144.69,598.64 L145.28,605.93 L145.88,612.19 L146.47,614.80 L147.06,616.44 L147.66,617.12" fill="none" stroke="#3a3a3a" stroke-width="1.0"/>
<text x="184.25" y="570.60" font-size="12.7" font-weight="bold" text-anchor="middle" fill="#000" >CD11c</text>
<path d="M160.50,573.80H208.00V618.10" fill="none" stroke="#d2d2d2" stroke-width="1"/>
<path d="M160.50,618.10H208.00" fill="none" stroke="#b8b8b8" stroke-width="1"/>
<path d="M160.50,573.80V618.10" fill="none" stroke="#a0a0a0" stroke-width="1"/>
<path d="M161.69,617.22 L162.28,616.05 L162.88,614.90 L163.47,609.46 L164.06,603.00 L164.66,592.83 L165.25,582.08 L165.84,576.15 L166.44,574.80 L167.03,581.58 L167.62,594.25 L168.22,601.24 L168.81,608.77 L169.41,615.07 L170.00,616.23 L170.59,617.13" fill="none" stroke="#a2a2a2" stroke-width="0.9"/>
<path d="M160.50,618.10 L160.50,617.50 L160.50,617.50 L161.09,617.50 L161.69,617.50 L162.28,617.50 L162.88,617.50 L163.47,617.50 L164.06,617.50 L164.66,617.50 L165.25,617.50 L165.84,617.50 L166.44,617.50 L167.03,617.49 L167.62,617.48 L168.22,617.46 L168.81,617.42 L169.41,617.35 L170.00,617.22 L170.59,617.00 L171.19,616.68 L171.78,615.93 L172.38,615.24 L172.97,613.93 L173.56,611.87 L174.16,609.70 L174.75,606.49 L175.34,602.13 L175.94,597.61 L176.53,592.66 L177.12,589.12 L177.72,584.00 L178.31,579.30 L178.91,576.79 L179.50,576.18 L180.09,574.90 L180.69,577.03 L181.28,581.75 L181.88,587.69 L182.47,593.23 L183.06,597.99 L183.66,604.09 L184.25,607.87 L184.84,610.70 L185.44,613.64 L186.03,615.13 L186.62,615.76 L187.22,616.18 L187.81,615.67 L188.41,614.31 L189.00,611.81 L189.59,608.63 L190.19,604.28 L190.78,599.16 L191.38,595.73 L191.97,592.54 L192.56,593.03 L193.16,594.29 L193.75,596.80 L194.34,599.92 L194.94,603.23 L195.53,606.98 L196.12,610.74 L196.72,612.87 L197.31,614.89 L197.91,615.75 L198.50,616.55 L199.09,617.07 L199.69,617.29 L200.28,617.41 L200.88,617.46 L201.47,617.48 L202.06,617.49 L202.66,617.50 L203.25,617.50 L203.84,617.50 L204.44,617.50 L205.03,617.50 L205.62,617.50 L206.22,617.50 L206.81,617.50 L207.41,617.50 L208.00,617.50 L208.00,617.50 L208.00,618.10 Z" fill="#c4c4c4" stroke="none"/>
<path d="M170.59,617.00 L171.19,616.68 L171.78,615.93 L172.38,615.24 L172.97,613.93 L173.56,611.87 L174.16,609.70 L174.75,606.49 L175.34,602.13 L175.94,597.61 L176.53,592.66 L177.12,589.12 L177.72,584.00 L178.31,579.30 L178.91,576.79 L179.50,576.18 L180.09,574.90 L180.69,577.03 L181.28,581.75 L181.88,587.69 L182.47,593.23 L183.06,597.99 L183.66,604.09 L184.25,607.87 L184.84,610.70 L185.44,613.64 L186.03,615.13 L186.62,615.76 L187.22,616.18 L187.81,615.67 L188.41,614.31 L189.00,611.81 L189.59,608.63 L190.19,604.28 L190.78,599.16 L191.38,595.73 L191.97,592.54 L192.56,593.03 L193.16,594.29 L193.75,596.80 L194.34,599.92 L194.94,603.23 L195.53,606.98 L196.12,610.74 L196.72,612.87 L197.31,614.89 L197.91,615.75 L198.50,616.55 L199.09,617.07" fill="none" stroke="#262626" stroke-width="0.9"/>
<path d="M185.44,617.27 L186.03,616.95 L186.62,616.44 L187.22,615.27 L187.81,612.98 L188.41,609.48 L189.00,604.04 L189.59,599.80 L190.19,591.34 L190.78,584.40 L191.38,578.75 L191.97,574.80 L192.56,574.80 L193.16,576.86 L193.75,584.96 L194.34,590.50 L194.94,597.31 L195.53,604.30 L196.12,609.27 L196.72,612.51 L197.31,614.51 L197.91,616.32 L198.50,616.85 L199.09,617.22" fill="none" stroke="#3a3a3a" stroke-width="1.0"/>
<text x="239.75" y="570.60" font-size="12.7" font-weight="bold" text-anchor="middle" fill="#000" >CD83</text>
<path d="M216.00,573.80H263.50V618.10" fill="none" stroke="#d2d2d2" stroke-width="1"/>
<path d="M216.00,618.10H263.50" fill="none" stroke="#b8b8b8" stroke-width="1"/>
<path d="M216.00,573.80V618.10" fill="none" stroke="#a0a0a0" stroke-width="1"/>
<path d="M216.00,617.50 L216.00,610.57 L216.59,608.97 L217.19,606.88 L217.78,603.26 L218.38,595.85 L218.97,592.63 L219.56,587.75 L220.16,583.28 L220.75,576.44 L221.34,574.80 L221.94,574.80 L222.53,579.62 L223.12,578.90 L223.72,585.39 L224.31,592.00 L224.91,599.22 L225.50,607.97 L226.09,610.33 L226.69,612.78 L227.28,614.54 L227.88,616.02 L228.47,616.78 L229.06,617.16" fill="none" stroke="#a2a2a2" stroke-width="0.9"/>
<path d="M216.00,618.10 L216.00,617.50 L216.00,617.50 L216.59,617.50 L217.19,617.50 L217.78,617.50 L218.38,617.50 L218.97,617.50 L219.56,617.50 L220.16,617.50 L220.75,617.50 L221.34,617.50 L221.94,617.50 L222.53,617.50 L223.12,617.50 L223.72,617.50 L224.31,617.50 L224.91,617.50 L225.50,617.50 L226.09,617.50 L226.69,617.50 L227.28,617.50 L227.88,617.49 L228.47,617.48 L229.06,617.47 L229.66,617.44 L230.25,617.38 L230.84,617.29 L231.44,617.13 L232.03,616.86 L232.62,616.48 L233.22,615.88 L233.81,615.00 L234.41,613.42 L235.00,611.86 L235.59,609.54 L236.19,606.95 L236.78,603.66 L237.38,598.87 L237.97,595.01 L238.56,590.07 L239.16,585.95 L239.75,581.31 L240.34,579.48 L240.94,575.57 L241.53,575.85 L242.12,576.93 L242.72,579.13 L243.31,583.10 L243.91,586.02 L244.50,591.84 L245.09,597.51 L245.69,601.75 L246.28,606.76 L246.88,610.14 L247.47,612.63 L248.06,614.02 L248.66,615.38 L249.25,616.25 L249.84,616.83 L250.44,617.14 L251.03,617.31 L251.62,617.41 L252.22,617.46 L252.81,617.48 L253.41,617.49 L254.00,617.50 L254.59,617.50 L255.19,617.50 L255.78,617.50 L256.38,617.50 L256.97,617.50 L257.56,617.50 L258.16,617.50 L258.75,617.50 L259.34,617.50 L259.94,617.50 L260.53,617.50 L261.12,617.50 L261.72,617.50 L262.31,617.50 L262.91,617.50 L263.50,617.50 L263.50,617.50 L263.50,618.10 Z" fill="#c4c4c4" stroke="none"/>
<path d="M231.44,617.13 L232.03,616.86 L232.62,616.48 L233.22,615.88 L233.81,615.00 L234.41,613.42 L235.00,611.86 L235.59,609.54 L236.19,606.95 L236.78,603.66 L237.38,598.87 L237.97,595.01 L238.56,590.07 L239.16,585.95 L239.75,581.31 L240.34,579.48 L240.94,575.57 L241.53,575.85 L242.12,576.93 L242.72,579.13 L243.31,583.10 L243.91,586.02 L244.50,591.84 L245.09,597.51 L245.69,601.75 L246.28,606.76 L246.88,610.14 L247.47,612.63 L248.06,614.02 L248.66,615.38 L249.25,616.25 L249.84,616.83 L250.44,617.14" fill="none" stroke="#262626" stroke-width="0.9"/>
<path d="M232.62,617.20 L233.22,616.98 L233.81,616.61 L234.41,616.10 L235.00,615.50 L235.59,614.33 L236.19,612.73 L236.78,610.78 L237.38,607.23 L237.97,604.13 L238.56,601.44 L239.16,596.19 L239.75,591.51 L240.34,588.45 L240.94,583.82 L241.53,581.42 L242.12,577.72 L242.72,576.38 L243.31,576.41 L243.91,578.49 L244.50,580.38 L245.09,582.72 L245.69,588.73 L246.28,592.64 L246.88,597.31 L247.47,601.32 L248.06,605.72 L248.66,608.57 L249.25,612.29 L249.84,613.88 L250.44,615.10 L251.03,615.85 L251.62,616.46 L252.22,616.98 L252.81,617.21" fill="none" stroke="#3a3a3a" stroke-width="1.0"/>
<path d="M39.10,43.80 L42.30,37.80 L45.50,43.80 Z" fill="#000"/>
<line x1="42.30" y1="42.80" x2="42.30" y2="95.00" stroke="#000" stroke-width="1.9" />
<line x1="42.30" y1="169.50" x2="42.30" y2="219.00" stroke="#000" stroke-width="1.9" />
<text x="44.70" y="132.25" font-size="13" font-weight="bold" text-anchor="middle" fill="#000" transform="rotate(-90 44.70 132.25)">Nb of cells</text>
<path d="M39.20,261.00 L42.40,255.00 L45.60,261.00 Z" fill="#000"/>
<line x1="42.40" y1="260.00" x2="42.40" y2="311.00" stroke="#000" stroke-width="1.9" />
<line x1="42.40" y1="387.00" x2="42.40" y2="436.00" stroke="#000" stroke-width="1.9" />
<text x="44.80" y="349.00" font-size="13" font-weight="bold" text-anchor="middle" fill="#000" transform="rotate(-90 44.80 349.00)">Nb of cells</text>
<text x="45.00" y="504.00" font-size="10.9" font-weight="bold" text-anchor="middle" fill="#000" transform="rotate(-90 45.0 504.00)">Nb of cells</text>
<text x="45.00" y="596.00" font-size="10.9" font-weight="bold" text-anchor="middle" fill="#000" transform="rotate(-90 45.0 596.00)">Nb of cells</text>
<line x1="346.50" y1="7.50" x2="346.50" y2="69.20" stroke="#c8c8c8" stroke-width="0.9" />
<line x1="344.30" y1="69.20" x2="346.50" y2="69.20" stroke="#c8c8c8" stroke-width="0.9" />
<text x="339.90" y="71.70" font-size="7.2" font-weight="normal" text-anchor="end" fill="#3a3a3a" >0</text>
<line x1="344.30" y1="53.78" x2="346.50" y2="53.78" stroke="#c8c8c8" stroke-width="0.9" />
<text x="339.90" y="56.28" font-size="7.2" font-weight="normal" text-anchor="end" fill="#3a3a3a" >5</text>
<line x1="344.30" y1="38.35" x2="346.50" y2="38.35" stroke="#c8c8c8" stroke-width="0.9" />
<text x="339.90" y="40.85" font-size="7.2" font-weight="normal" text-anchor="end" fill="#3a3a3a" >10</text>
<line x1="344.30" y1="22.92" x2="346.50" y2="22.92" stroke="#c8c8c8" stroke-width="0.9" />
<text x="339.90" y="25.42" font-size="7.2" font-weight="normal" text-anchor="end" fill="#3a3a3a" >15</text>
<line x1="344.30" y1="7.50" x2="346.50" y2="7.50" stroke="#c8c8c8" stroke-width="0.9" />
<text x="339.90" y="10.00" font-size="7.2" font-weight="normal" text-anchor="end" fill="#3a3a3a" >20</text>
<line x1="374.40" y1="25.70" x2="430.00" y2="33.41" stroke="#000" stroke-width="1.4" />
<line x1="374.40" y1="30.02" x2="430.00" y2="36.81" stroke="#000" stroke-width="1.4" />
<line x1="374.40" y1="31.56" x2="430.00" y2="42.05" stroke="#000" stroke-width="1.4" />
<line x1="374.40" y1="33.72" x2="430.00" y2="49.46" stroke="#000" stroke-width="1.4" />
<line x1="374.40" y1="35.57" x2="430.00" y2="57.79" stroke="#000" stroke-width="1.4" />
<line x1="374.40" y1="43.59" x2="430.00" y2="48.53" stroke="#000" stroke-width="1.4" />
<rect x="372.10" y="27.72" width="4.61" height="4.61" fill="#000"/>
<circle cx="430.00" cy="36.81" r="2.45" fill="#000"/>
<rect x="372.10" y="29.26" width="4.61" height="4.61" fill="#000"/>
<path d="M430.00,39.75 L432.30,42.05 L430.00,44.36 L427.70,42.05 Z" fill="#000"/>
<rect x="372.10" y="31.42" width="4.61" height="4.61" fill="#000"/>
<path d="M430.00,46.86 L432.59,51.33 L427.41,51.33 Z" fill="#000"/>
<rect x="372.10" y="33.27" width="4.61" height="4.61" fill="#000"/>
<rect x="427.70" y="55.48" width="4.61" height="4.61" fill="#000"/>
<path d="M374.40,41.00 L376.99,45.47 L371.81,45.47 Z" fill="#000"/>
<path d="M430.00,45.94 L432.59,50.40 L427.41,50.40 Z" fill="#000"/>
<path d="M429.80,22.20 L430.28,23.34 L431.51,23.44 L430.57,24.25 L430.86,25.46 L429.80,24.81 L428.74,25.46 L429.03,24.25 L428.09,23.44 L429.32,23.34 Z" fill="#000"/>
<text x="325.00" y="38.00" font-size="7.4" font-weight="bold" text-anchor="middle" fill="#000" transform="rotate(-90 325.00 38.00)">MFI of HLA-DR</text>
<line x1="346.50" y1="78.60" x2="346.50" y2="140.40" stroke="#c8c8c8" stroke-width="0.9" />
<line x1="344.30" y1="140.40" x2="346.50" y2="140.40" stroke="#c8c8c8" stroke-width="0.9" />
<text x="339.90" y="142.90" font-size="7.2" font-weight="normal" text-anchor="end" fill="#3a3a3a" >0</text>
<line x1="344.30" y1="124.95" x2="346.50" y2="124.95" stroke="#c8c8c8" stroke-width="0.9" />
<text x="339.90" y="127.45" font-size="7.2" font-weight="normal" text-anchor="end" fill="#3a3a3a" >10</text>
<line x1="344.30" y1="109.50" x2="346.50" y2="109.50" stroke="#c8c8c8" stroke-width="0.9" />
<text x="339.90" y="112.00" font-size="7.2" font-weight="normal" text-anchor="end" fill="#3a3a3a" >20</text>
<line x1="344.30" y1="94.05" x2="346.50" y2="94.05" stroke="#c8c8c8" stroke-width="0.9" />
<text x="339.90" y="96.55" font-size="7.2" font-weight="normal" text-anchor="end" fill="#3a3a3a" >30</text>
<line x1="344.30" y1="78.60" x2="346.50" y2="78.60" stroke="#c8c8c8" stroke-width="0.9" />
<text x="339.90" y="81.10" font-size="7.2" font-weight="normal" text-anchor="end" fill="#3a3a3a" >40</text>
<line x1="374.40" y1="89.41" x2="430.00" y2="107.95" stroke="#000" stroke-width="1.4" />
<line x1="374.40" y1="97.91" x2="430.00" y2="106.41" stroke="#000" stroke-width="1.4" />
<line x1="374.40" y1="98.69" x2="430.00" y2="109.50" stroke="#000" stroke-width="1.4" />
<line x1="374.40" y1="100.23" x2="430.00" y2="111.05" stroke="#000" stroke-width="1.4" />
<line x1="374.40" y1="101.00" x2="430.00" y2="112.59" stroke="#000" stroke-width="1.4" />
<line x1="374.40" y1="104.86" x2="430.00" y2="115.68" stroke="#000" stroke-width="1.4" />
<rect x="372.10" y="87.11" width="4.61" height="4.61" fill="#000"/>
<rect x="427.70" y="105.65" width="4.61" height="4.61" fill="#000"/>
<circle cx="374.40" cy="97.91" r="2.45" fill="#000"/>
<circle cx="430.00" cy="106.41" r="2.45" fill="#000"/>
<path d="M374.40,96.38 L376.70,98.69 L374.40,100.99 L372.10,98.69 Z" fill="#000"/>
<path d="M430.00,107.20 L432.30,109.50 L430.00,111.80 L427.70,109.50 Z" fill="#000"/>
<path d="M374.40,102.27 L376.99,106.74 L371.81,106.74 Z" fill="#000"/>
<path d="M430.00,113.09 L432.59,117.55 L427.41,117.55 Z" fill="#000"/>
<path d="M429.90,93.30 L430.38,94.44 L431.61,94.54 L430.67,95.35 L430.96,96.56 L429.90,95.91 L428.84,96.56 L429.13,95.35 L428.19,94.54 L429.42,94.44 Z" fill="#000"/>
<text x="325.00" y="109.50" font-size="7.4" font-weight="bold" text-anchor="middle" fill="#000" transform="rotate(-90 325.00 109.50)">MFI of CD80</text>
<line x1="346.50" y1="150.50" x2="346.50" y2="209.60" stroke="#c8c8c8" stroke-width="0.9" />
<line x1="344.30" y1="209.60" x2="346.50" y2="209.60" stroke="#c8c8c8" stroke-width="0.9" />
<text x="339.90" y="212.10" font-size="7.2" font-weight="normal" text-anchor="end" fill="#3a3a3a" >0</text>
<line x1="344.30" y1="194.82" x2="346.50" y2="194.82" stroke="#c8c8c8" stroke-width="0.9" />
<text x="339.90" y="197.32" font-size="7.2" font-weight="normal" text-anchor="end" fill="#3a3a3a" >20</text>
<line x1="344.30" y1="180.05" x2="346.50" y2="180.05" stroke="#c8c8c8" stroke-width="0.9" />
<text x="339.90" y="182.55" font-size="7.2" font-weight="normal" text-anchor="end" fill="#3a3a3a" >40</text>
<line x1="344.30" y1="165.28" x2="346.50" y2="165.28" stroke="#c8c8c8" stroke-width="0.9" />
<text x="339.90" y="167.78" font-size="7.2" font-weight="normal" text-anchor="end" fill="#3a3a3a" >60</text>
<line x1="344.30" y1="150.50" x2="346.50" y2="150.50" stroke="#c8c8c8" stroke-width="0.9" />
<text x="339.90" y="153.00" font-size="7.2" font-weight="normal" text-anchor="end" fill="#3a3a3a" >80</text>
<line x1="346.50" y1="209.60" x2="459.00" y2="209.60" stroke="#c8c8c8" stroke-width="0.9" />
<line x1="402.20" y1="209.60" x2="402.20" y2="211.80" stroke="#c8c8c8" stroke-width="0.9" />
<line x1="374.40" y1="157.15" x2="430.00" y2="166.01" stroke="#000" stroke-width="1.4" />
<line x1="374.40" y1="161.58" x2="430.00" y2="171.19" stroke="#000" stroke-width="1.4" />
<line x1="374.40" y1="165.28" x2="430.00" y2="175.62" stroke="#000" stroke-width="1.4" />
<line x1="374.40" y1="164.54" x2="430.00" y2="197.04" stroke="#000" stroke-width="1.4" />
<line x1="374.40" y1="174.14" x2="430.00" y2="185.96" stroke="#000" stroke-width="1.4" />
<line x1="374.40" y1="176.36" x2="430.00" y2="191.13" stroke="#000" stroke-width="1.4" />
<circle cx="374.40" cy="157.15" r="2.45" fill="#000"/>
<circle cx="430.00" cy="166.01" r="2.45" fill="#000"/>
<path d="M374.40,162.68 L376.99,167.15 L371.81,167.15 Z" fill="#000"/>
<path d="M430.00,173.03 L432.59,177.49 L427.41,177.49 Z" fill="#000"/>
<path d="M374.40,161.94 L376.99,166.41 L371.81,166.41 Z" fill="#000"/>
<path d="M430.00,194.74 L432.30,197.04 L430.00,199.35 L427.70,197.04 Z" fill="#000"/>
<rect x="372.10" y="171.84" width="4.61" height="4.61" fill="#000"/>
<rect x="427.70" y="183.66" width="4.61" height="4.61" fill="#000"/>
<path d="M429.90,154.70 L430.38,155.84 L431.61,155.94 L430.67,156.75 L430.96,157.96 L429.90,157.31 L428.84,157.96 L429.13,156.75 L428.19,155.94 L429.42,155.84 Z" fill="#000"/>
<text x="325.00" y="180.00" font-size="7.4" font-weight="bold" text-anchor="middle" fill="#000" transform="rotate(-90 325.00 180.00)">MFI of CD86</text>
<text x="374.60" y="224.00" font-size="7.9" font-weight="normal" text-anchor="middle" fill="#333" >1 : 0</text>
<text x="430.40" y="224.00" font-size="7.9" font-weight="normal" text-anchor="middle" fill="#333" >1 : 4</text>
<line x1="459.40" y1="88.30" x2="474.90" y2="88.30" stroke="#000" stroke-width="1.4" />
<path d="M467.15,86.70 L468.75,88.30 L467.15,89.90 L465.55,88.30 Z"/>
<text x="475.60" y="90.30" font-size="5.8" font-weight="normal" text-anchor="start" fill="#666" >sample 1</text>
<line x1="459.40" y1="99.50" x2="474.90" y2="99.50" stroke="#000" stroke-width="1.4" />
<rect x="465.35" y="97.70" width="3.6" height="3.6"/>
<text x="475.60" y="101.50" font-size="5.8" font-weight="normal" text-anchor="start" fill="#666" >sample 2</text>
<line x1="459.40" y1="110.70" x2="474.90" y2="110.70" stroke="#000" stroke-width="1.4" />
<path d="M467.15,108.70 L469.15,112.20 L465.15,112.20 Z"/>
<text x="475.60" y="112.70" font-size="5.8" font-weight="normal" text-anchor="start" fill="#666" >sample 3</text>
<line x1="459.40" y1="121.50" x2="474.90" y2="121.50" stroke="#000" stroke-width="1.4" />
<text x="475.60" y="123.50" font-size="5.8" font-weight="normal" text-anchor="start" fill="#666" >sample 4</text>
<line x1="459.40" y1="132.50" x2="474.90" y2="132.50" stroke="#000" stroke-width="1.4" />
<text x="475.60" y="134.50" font-size="5.8" font-weight="normal" text-anchor="start" fill="#666" >sample 5</text>
<line x1="459.40" y1="143.50" x2="474.90" y2="143.50" stroke="#000" stroke-width="1.4" />
<circle cx="467.15" cy="143.50" r="1.6"/>
<text x="475.60" y="145.50" font-size="5.8" font-weight="normal" text-anchor="start" fill="#666" >sample 6</text>
<line x1="472.10" y1="584.40" x2="488.30" y2="584.40" stroke="#000" stroke-width="1.4" />
<path d="M480.20,582.80 L481.80,584.40 L480.20,586.00 L478.60,584.40 Z"/>
<text x="489.80" y="586.40" font-size="6.2" font-weight="normal" text-anchor="start" fill="#666" >sample 1</text>
<line x1="472.10" y1="596.80" x2="488.30" y2="596.80" stroke="#000" stroke-width="1.4" />
<rect x="478.40" y="595.00" width="3.6" height="3.6"/>
<text x="489.80" y="598.80" font-size="6.2" font-weight="normal" text-anchor="start" fill="#666" >sample 2</text>
<line x1="472.10" y1="608.70" x2="488.30" y2="608.70" stroke="#000" stroke-width="1.4" />
<path d="M480.20,606.70 L482.20,610.20 L478.20,610.20 Z"/>
<text x="489.80" y="610.70" font-size="6.2" font-weight="normal" text-anchor="start" fill="#666" >sample 3</text>
<line x1="472.10" y1="620.40" x2="488.30" y2="620.40" stroke="#000" stroke-width="1.4" />
<text x="489.80" y="622.40" font-size="6.2" font-weight="normal" text-anchor="start" fill="#666" >sample 4</text>
<line x1="472.10" y1="632.30" x2="488.30" y2="632.30" stroke="#000" stroke-width="1.4" />
<text x="489.80" y="634.30" font-size="6.2" font-weight="normal" text-anchor="start" fill="#666" >sample 5</text>
<line x1="472.10" y1="644.40" x2="488.30" y2="644.40" stroke="#000" stroke-width="1.4" />
<circle cx="480.20" cy="644.40" r="1.6"/>
<text x="489.80" y="646.40" font-size="6.2" font-weight="normal" text-anchor="start" fill="#666" >sample 6</text>
<line x1="348.80" y1="458.70" x2="348.80" y2="524.60" stroke="#c8c8c8" stroke-width="0.9" />
<line x1="346.60" y1="524.60" x2="348.80" y2="524.60" stroke="#c8c8c8" stroke-width="0.9" />
<text x="342.20" y="527.10" font-size="7.2" font-weight="normal" text-anchor="end" fill="#3a3a3a" >0</text>
<line x1="346.60" y1="508.12" x2="348.80" y2="508.12" stroke="#c8c8c8" stroke-width="0.9" />
<text x="342.20" y="510.62" font-size="7.2" font-weight="normal" text-anchor="end" fill="#3a3a3a" >5</text>
<line x1="346.60" y1="491.65" x2="348.80" y2="491.65" stroke="#c8c8c8" stroke-width="0.9" />
<text x="342.20" y="494.15" font-size="7.2" font-weight="normal" text-anchor="end" fill="#3a3a3a" >10</text>
<line x1="346.60" y1="475.18" x2="348.80" y2="475.18" stroke="#c8c8c8" stroke-width="0.9" />
<text x="342.20" y="477.68" font-size="7.2" font-weight="normal" text-anchor="end" fill="#3a3a3a" >15</text>
<line x1="346.60" y1="458.70" x2="348.80" y2="458.70" stroke="#c8c8c8" stroke-width="0.9" />
<text x="342.20" y="461.20" font-size="7.2" font-weight="normal" text-anchor="end" fill="#3a3a3a" >20</text>
<line x1="379.50" y1="476.49" x2="440.50" y2="482.75" stroke="#000" stroke-width="1.8" />
<line x1="379.50" y1="476.49" x2="440.50" y2="493.96" stroke="#000" stroke-width="1.8" />
<line x1="379.50" y1="484.73" x2="440.50" y2="488.36" stroke="#000" stroke-width="1.8" />
<line x1="379.50" y1="487.04" x2="440.50" y2="492.31" stroke="#000" stroke-width="1.8" />
<line x1="379.50" y1="488.68" x2="440.50" y2="493.96" stroke="#000" stroke-width="1.8" />
<line x1="379.50" y1="491.32" x2="440.50" y2="502.19" stroke="#000" stroke-width="1.8" />
<rect x="376.30" y="473.29" width="6.40" height="6.40" fill="#000"/>
<rect x="437.30" y="490.76" width="6.40" height="6.40" fill="#000"/>
<path d="M379.50,481.13 L383.10,487.33 L375.90,487.33 Z" fill="#000"/>
<circle cx="379.50" cy="487.04" r="3.40" fill="#000"/>
<path d="M379.50,488.12 L382.70,491.32 L379.50,494.52 L376.30,491.32 Z" fill="#000"/>
<path d="M440.50,498.99 L443.70,502.19 L440.50,505.39 L437.30,502.19 Z" fill="#000"/>
<path d="M440.00,468.30 L440.74,470.08 L442.66,470.23 L441.20,471.49 L441.65,473.37 L440.00,472.36 L438.35,473.37 L438.80,471.49 L437.34,470.23 L439.26,470.08 Z" fill="#000"/>
<text x="325.80" y="491.80" font-size="7.8" font-weight="bold" text-anchor="middle" fill="#000" transform="rotate(-90 325.80 491.80)">MFI of HLA-DR</text>
<line x1="353.80" y1="536.40" x2="353.80" y2="602.30" stroke="#c8c8c8" stroke-width="0.9" />
<line x1="351.60" y1="602.30" x2="353.80" y2="602.30" stroke="#c8c8c8" stroke-width="0.9" />
<text x="347.20" y="604.80" font-size="7.2" font-weight="normal" text-anchor="end" fill="#3a3a3a" >0</text>
<line x1="351.60" y1="589.12" x2="353.80" y2="589.12" stroke="#c8c8c8" stroke-width="0.9" />
<text x="347.20" y="591.62" font-size="7.2" font-weight="normal" text-anchor="end" fill="#3a3a3a" >20</text>
<line x1="351.60" y1="575.94" x2="353.80" y2="575.94" stroke="#c8c8c8" stroke-width="0.9" />
<text x="347.20" y="578.44" font-size="7.2" font-weight="normal" text-anchor="end" fill="#3a3a3a" >40</text>
<line x1="351.60" y1="562.76" x2="353.80" y2="562.76" stroke="#c8c8c8" stroke-width="0.9" />
<text x="347.20" y="565.26" font-size="7.2" font-weight="normal" text-anchor="end" fill="#3a3a3a" >60</text>
<line x1="351.60" y1="549.58" x2="353.80" y2="549.58" stroke="#c8c8c8" stroke-width="0.9" />
<text x="347.20" y="552.08" font-size="7.2" font-weight="normal" text-anchor="end" fill="#3a3a3a" >80</text>
<line x1="351.60" y1="536.40" x2="353.80" y2="536.40" stroke="#c8c8c8" stroke-width="0.9" />
<text x="347.20" y="538.90" font-size="7.2" font-weight="normal" text-anchor="end" fill="#3a3a3a" >100</text>
<line x1="383.00" y1="592.41" x2="441.20" y2="561.11" stroke="#000" stroke-width="1.8" />
<line x1="383.00" y1="594.39" x2="441.20" y2="566.71" stroke="#000" stroke-width="1.8" />
<line x1="383.00" y1="596.37" x2="441.20" y2="568.69" stroke="#000" stroke-width="1.8" />
<line x1="383.00" y1="598.35" x2="441.20" y2="570.67" stroke="#000" stroke-width="1.8" />
<line x1="383.00" y1="599.66" x2="441.20" y2="576.60" stroke="#000" stroke-width="1.8" />
<line x1="383.00" y1="600.98" x2="441.20" y2="577.92" stroke="#000" stroke-width="1.8" />
<rect x="379.80" y="589.21" width="6.40" height="6.40" fill="#000"/>
<rect x="438.00" y="557.91" width="6.40" height="6.40" fill="#000"/>
<path d="M383.00,591.19 L386.20,594.39 L383.00,597.59 L379.80,594.39 Z" fill="#000"/>
<path d="M441.20,563.51 L444.40,566.71 L441.20,569.91 L438.00,566.71 Z" fill="#000"/>
<path d="M383.00,594.75 L386.60,600.95 L379.40,600.95 Z" fill="#000"/>
<circle cx="383.00" cy="599.66" r="3.40" fill="#000"/>
<circle cx="441.20" cy="576.60" r="3.40" fill="#000"/>
<path d="M441.20,546.00 L441.94,547.78 L443.86,547.93 L442.40,549.19 L442.85,551.07 L441.20,550.06 L439.55,551.07 L440.00,549.19 L438.54,547.93 L440.46,547.78 Z" fill="#000"/>
<text x="325.80" y="569.90" font-size="8.0" font-weight="bold" text-anchor="middle" fill="#000" transform="rotate(-90 325.80 569.90)">% of CD80<tspan font-size="5" dy="-2.6">low</tspan><tspan dy="2.6"> DC</tspan></text>
<line x1="353.80" y1="613.50" x2="353.80" y2="679.40" stroke="#c8c8c8" stroke-width="0.9" />
<line x1="351.60" y1="679.40" x2="353.80" y2="679.40" stroke="#c8c8c8" stroke-width="0.9" />
<text x="347.20" y="681.90" font-size="7.2" font-weight="normal" text-anchor="end" fill="#3a3a3a" >0</text>
<line x1="351.60" y1="666.22" x2="353.80" y2="666.22" stroke="#c8c8c8" stroke-width="0.9" />
<text x="347.20" y="668.72" font-size="7.2" font-weight="normal" text-anchor="end" fill="#3a3a3a" >20</text>
<line x1="351.60" y1="653.04" x2="353.80" y2="653.04" stroke="#c8c8c8" stroke-width="0.9" />
<text x="347.20" y="655.54" font-size="7.2" font-weight="normal" text-anchor="end" fill="#3a3a3a" >40</text>
<line x1="351.60" y1="639.86" x2="353.80" y2="639.86" stroke="#c8c8c8" stroke-width="0.9" />
<text x="347.20" y="642.36" font-size="7.2" font-weight="normal" text-anchor="end" fill="#3a3a3a" >60</text>
<line x1="351.60" y1="626.68" x2="353.80" y2="626.68" stroke="#c8c8c8" stroke-width="0.9" />
<text x="347.20" y="629.18" font-size="7.2" font-weight="normal" text-anchor="end" fill="#3a3a3a" >80</text>
<line x1="351.60" y1="613.50" x2="353.80" y2="613.50" stroke="#c8c8c8" stroke-width="0.9" />
<text x="347.20" y="616.00" font-size="7.2" font-weight="normal" text-anchor="end" fill="#3a3a3a" >100</text>
<line x1="383.00" y1="677.42" x2="441.20" y2="634.32" stroke="#000" stroke-width="1.8" />
<line x1="383.00" y1="676.11" x2="441.20" y2="640.39" stroke="#000" stroke-width="1.8" />
<line x1="383.00" y1="672.81" x2="441.20" y2="647.31" stroke="#000" stroke-width="1.8" />
<line x1="383.00" y1="671.49" x2="441.20" y2="650.80" stroke="#000" stroke-width="1.8" />
<line x1="383.00" y1="674.13" x2="441.20" y2="654.23" stroke="#000" stroke-width="1.8" />
<line x1="383.00" y1="675.45" x2="441.20" y2="651.72" stroke="#000" stroke-width="1.8" />
<path d="M383.00,674.22 L386.20,677.42 L383.00,680.62 L379.80,677.42 Z" fill="#000"/>
<path d="M441.20,631.12 L444.40,634.32 L441.20,637.52 L438.00,634.32 Z" fill="#000"/>
<rect x="379.80" y="672.90" width="6.40" height="6.40" fill="#000"/>
<rect x="438.00" y="637.19" width="6.40" height="6.40" fill="#000"/>
<path d="M383.00,669.21 L386.60,675.41 L379.40,675.41 Z" fill="#000"/>
<path d="M441.20,643.71 L444.80,649.91 L437.60,649.91 Z" fill="#000"/>
<circle cx="383.00" cy="671.49" r="3.40" fill="#000"/>
<circle cx="441.20" cy="650.80" r="3.40" fill="#000"/>
<path d="M441.20,620.20 L441.94,621.98 L443.86,622.13 L442.40,623.39 L442.85,625.27 L441.20,624.26 L439.55,625.27 L440.00,623.39 L438.54,622.13 L440.46,621.98 Z" fill="#000"/>
<text x="325.80" y="647.40" font-size="8.0" font-weight="bold" text-anchor="middle" fill="#000" transform="rotate(-90 325.80 647.40)">% of CD86<tspan font-size="5" dy="-2.6">low</tspan><tspan dy="2.6"> DC</tspan></text>
<line x1="348.80" y1="690.70" x2="348.80" y2="754.10" stroke="#c8c8c8" stroke-width="0.9" />
<line x1="346.60" y1="754.10" x2="348.80" y2="754.10" stroke="#c8c8c8" stroke-width="0.9" />
<text x="342.20" y="756.60" font-size="7.2" font-weight="normal" text-anchor="end" fill="#3a3a3a" >0</text>
<line x1="346.60" y1="741.42" x2="348.80" y2="741.42" stroke="#c8c8c8" stroke-width="0.9" />
<text x="342.20" y="743.92" font-size="7.2" font-weight="normal" text-anchor="end" fill="#3a3a3a" >2</text>
<line x1="346.60" y1="728.74" x2="348.80" y2="728.74" stroke="#c8c8c8" stroke-width="0.9" />
<text x="342.20" y="731.24" font-size="7.2" font-weight="normal" text-anchor="end" fill="#3a3a3a" >4</text>
<line x1="346.60" y1="716.06" x2="348.80" y2="716.06" stroke="#c8c8c8" stroke-width="0.9" />
<text x="342.20" y="718.56" font-size="7.2" font-weight="normal" text-anchor="end" fill="#3a3a3a" >6</text>
<line x1="346.60" y1="703.38" x2="348.80" y2="703.38" stroke="#c8c8c8" stroke-width="0.9" />
<text x="342.20" y="705.88" font-size="7.2" font-weight="normal" text-anchor="end" fill="#3a3a3a" >8</text>
<line x1="346.60" y1="690.70" x2="348.80" y2="690.70" stroke="#c8c8c8" stroke-width="0.9" />
<text x="342.20" y="693.20" font-size="7.2" font-weight="normal" text-anchor="end" fill="#3a3a3a" >10</text>
<line x1="348.80" y1="754.10" x2="470.00" y2="754.10" stroke="#c8c8c8" stroke-width="0.9" />
<line x1="410.00" y1="754.10" x2="410.00" y2="756.30" stroke="#c8c8c8" stroke-width="0.9" />
<line x1="379.50" y1="703.38" x2="440.50" y2="708.45" stroke="#000" stroke-width="1.8" />
<line x1="379.50" y1="709.72" x2="440.50" y2="710.35" stroke="#000" stroke-width="1.8" />
<line x1="379.50" y1="709.72" x2="440.50" y2="719.23" stroke="#000" stroke-width="1.8" />
<line x1="379.50" y1="717.33" x2="440.50" y2="722.40" stroke="#000" stroke-width="1.8" />
<line x1="379.50" y1="719.23" x2="440.50" y2="716.69" stroke="#000" stroke-width="1.8" />
<line x1="379.50" y1="720.50" x2="440.50" y2="719.23" stroke="#000" stroke-width="1.8" />
<circle cx="379.50" cy="703.38" r="3.40" fill="#000"/>
<circle cx="440.50" cy="708.45" r="3.40" fill="#000"/>
<rect x="376.30" y="706.52" width="6.40" height="6.40" fill="#000"/>
<rect x="437.30" y="707.15" width="6.40" height="6.40" fill="#000"/>
<path d="M379.50,714.13 L382.70,717.33 L379.50,720.53 L376.30,717.33 Z" fill="#000"/>
<path d="M440.50,719.20 L443.70,722.40 L440.50,725.60 L437.30,722.40 Z" fill="#000"/>
<text x="439.80" y="699.70" font-size="13.5" font-weight="normal" text-anchor="middle" fill="#000" >ns</text>
<text x="325.80" y="722.60" font-size="8.0" font-weight="bold" text-anchor="middle" fill="#000" transform="rotate(-90 325.80 722.60)">MFI of IL-12</text>
<text x="380.20" y="768.40" font-size="7.9" font-weight="normal" text-anchor="middle" fill="#333" >1 : 0</text>
<text x="441.30" y="768.40" font-size="7.9" font-weight="normal" text-anchor="middle" fill="#333" >1 : 4</text>
</svg></body></html>
